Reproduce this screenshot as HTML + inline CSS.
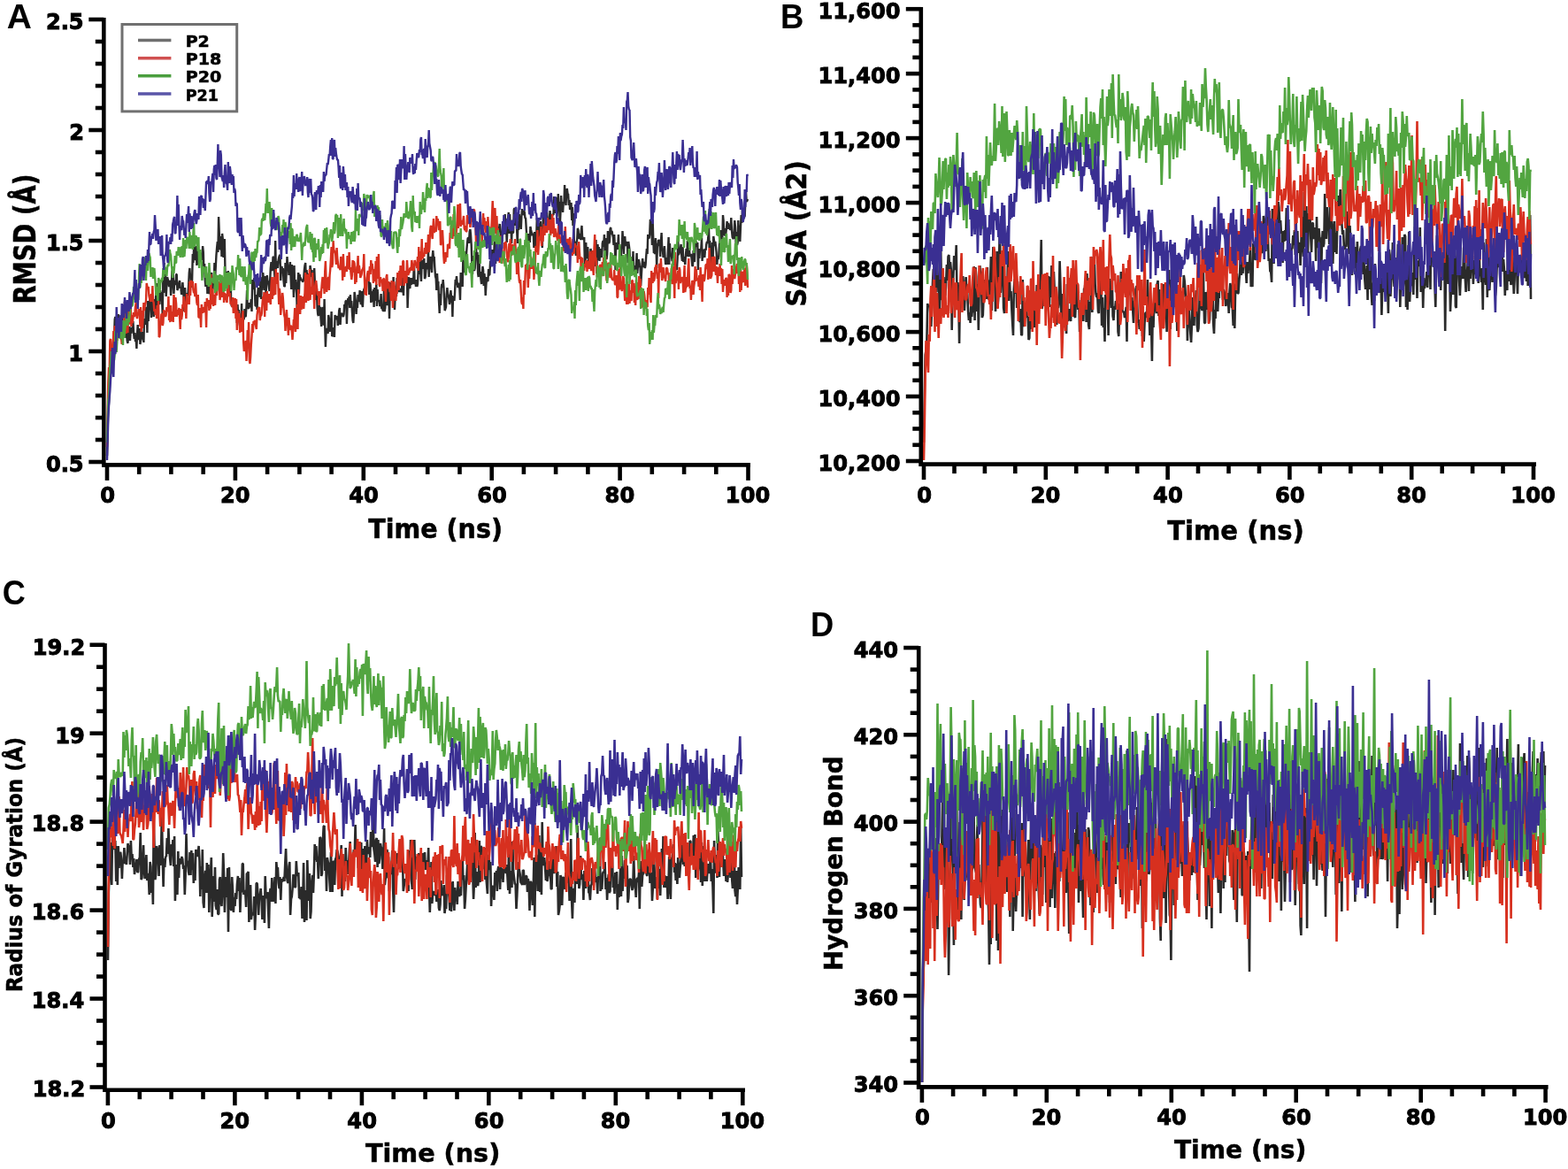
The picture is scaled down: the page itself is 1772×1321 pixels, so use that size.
<!DOCTYPE html><html><head><meta charset="utf-8"><style>html,body{margin:0;padding:0;background:#fff;}svg{display:block;}.tk{font-family:'DejaVu Sans', 'Liberation Sans', sans-serif;font-weight:bold;font-size:22px;fill:#000;}.at{font-family:'DejaVu Sans', 'Liberation Sans', sans-serif;font-weight:bold;font-size:28px;fill:#000;}.pl{font-family:"Liberation Sans",Arial,sans-serif;font-weight:bold;font-size:33px;fill:#000;}.lg{font-family:'DejaVu Sans', 'Liberation Sans', sans-serif;font-weight:bold;font-size:16.5px;fill:#000;letter-spacing:1px;}</style></head><body>
<svg width="1772" height="1321" viewBox="0 0 1772 1321">
<rect width="1772" height="1321" fill="#fff"/>
<g id="plotA">
<polyline points="121.0,515 121.7,484 122.3,464 123.0,456 123.7,442 124.3,427 125.0,419 125.7,418 126.3,392 127.0,398 127.7,391 128.3,381 129.0,381 129.7,361 130.3,358 131.0,364 131.7,371 132.3,362 133.0,376 133.7,355 134.3,376 135.0,357 135.7,368 136.3,377 137.0,384 137.7,369 138.3,359 139.0,376 139.7,365 140.4,362 141.0,381 141.7,375 142.4,382 143.0,375 143.7,385 144.4,388 145.0,382 145.7,374 146.4,369 147.0,385 147.7,374 148.4,377 149.0,370 149.7,372 150.4,363 151.0,375 151.7,383 152.4,376 153.0,386 153.7,384 154.4,394 155.0,378 155.7,367 156.4,384 157.0,382 157.7,371 158.4,389 159.0,385 159.7,383 160.4,375 161.0,378 161.7,378 162.4,387 163.0,360 163.7,366 164.4,366 165.0,347 165.7,349 166.4,376 167.0,340 167.7,363 168.4,347 169.0,344 169.7,333 170.4,342 171.0,359 171.7,336 172.4,348 173.0,345 173.7,358 174.4,338 175.0,353 175.7,344 176.4,329 177.1,320 177.7,350 178.4,321 179.1,329 179.7,342 180.4,344 181.1,328 181.7,334 182.4,330 183.1,341 183.7,355 184.4,307 185.1,331 185.7,297 186.4,318 187.1,309 187.7,335 188.4,322 189.1,313 189.7,316 190.4,318 191.1,324 191.7,317 192.4,319 193.1,334 193.7,326 194.4,307 195.1,305 195.7,312 196.4,332 197.1,320 197.7,317 198.4,322 199.1,310 199.7,310 200.4,328 201.1,326 201.7,320 202.4,320 203.1,317 203.7,326 204.4,325 205.1,333 205.7,331 206.4,319 207.1,328 207.7,337 208.4,352 209.1,325 209.7,341 210.4,334 211.1,338 211.8,331 212.4,334 213.1,323 213.8,308 214.4,303 215.1,314 215.8,311 216.4,325 217.1,317 217.8,287 218.4,297 219.1,280 219.8,274 220.4,291 221.1,294 221.8,278 222.4,300 223.1,276 223.8,275 224.4,299 225.1,292 225.8,291 226.4,286 227.1,292 227.8,293 228.4,294 229.1,278 229.8,285 230.4,307 231.1,298 231.8,317 232.4,324 233.1,308 233.8,314 234.4,332 235.1,321 235.8,332 236.4,331 237.1,321 237.8,318 238.4,311 239.1,308 239.8,327 240.4,327 241.1,317 241.8,320 242.4,297 243.1,315 243.8,301 244.4,289 245.1,280 245.8,273 246.4,285 247.1,245 247.8,264 248.5,281 249.1,282 249.8,267 250.5,290 251.1,264 251.8,270 252.5,291 253.1,278 253.8,270 254.5,308 255.1,316 255.8,314 256.5,307 257.1,313 257.8,306 258.5,330 259.1,331 259.8,330 260.5,309 261.1,338 261.8,346 262.5,346 263.1,345 263.8,341 264.5,338 265.1,350 265.8,349 266.5,349 267.1,346 267.8,365 268.5,344 269.1,354 269.8,350 270.5,364 271.1,368 271.8,364 272.5,364 273.1,343 273.8,374 274.5,364 275.1,361 275.8,360 276.5,349 277.1,358 277.8,357 278.5,346 279.1,328 279.8,348 280.5,348 281.1,349 281.8,342 282.5,347 283.1,346 283.8,338 284.5,352 285.2,316 285.8,325 286.5,327 287.2,314 287.8,326 288.5,345 289.2,346 289.8,333 290.5,350 291.2,334 291.8,325 292.5,332 293.2,330 293.8,336 294.5,313 295.2,338 295.8,319 296.5,328 297.2,308 297.8,314 298.5,320 299.2,328 299.8,312 300.5,334 301.2,320 301.8,311 302.5,318 303.2,318 303.8,323 304.5,329 305.2,317 305.8,303 306.5,296 307.2,306 307.8,305 308.5,291 309.2,290 309.8,302 310.5,314 311.2,272 311.8,304 312.5,295 313.2,301 313.8,303 314.5,295 315.2,291 315.8,289 316.5,288 317.2,317 317.8,306 318.5,301 319.2,307 319.8,303 320.5,317 321.2,324 321.9,323 322.5,297 323.2,320 323.9,302 324.5,290 325.2,301 325.9,302 326.5,311 327.2,303 327.9,296 328.5,311 329.2,327 329.9,299 330.5,312 331.2,312 331.9,336 332.5,300 333.2,327 333.9,316 334.5,326 335.2,332 335.9,357 336.5,320 337.2,308 337.9,332 338.5,310 339.2,314 339.9,314 340.5,317 341.2,316 341.9,318 342.5,318 343.2,316 343.9,305 344.5,300 345.2,297 345.9,318 346.5,305 347.2,313 347.9,311 348.5,325 349.2,309 349.9,315 350.5,300 351.2,305 351.9,313 352.5,305 353.2,324 353.9,312 354.5,328 355.2,303 355.9,321 356.6,333 357.2,339 357.9,326 358.6,348 359.2,355 359.9,357 360.6,345 361.2,348 361.9,347 362.6,361 363.2,369 363.9,353 364.6,347 365.2,366 365.9,367 366.6,338 367.2,367 367.9,392 368.6,374 369.2,371 369.9,374 370.6,377 371.2,356 371.9,360 372.6,375 373.2,362 373.9,372 374.6,352 375.2,380 375.9,379 376.6,373 377.2,370 377.9,381 378.6,356 379.2,360 379.9,359 380.6,361 381.2,357 381.9,368 382.6,360 383.2,351 383.9,348 384.6,367 385.2,356 385.9,355 386.6,354 387.2,356 387.9,358 388.6,355 389.2,344 389.9,348 390.6,340 391.2,340 391.9,366 392.6,345 393.3,337 393.9,343 394.6,335 395.3,348 395.9,333 396.6,345 397.3,340 397.9,352 398.6,362 399.3,365 399.9,354 400.6,330 401.3,335 401.9,340 402.6,355 403.3,343 403.9,348 404.6,333 405.3,341 405.9,339 406.6,328 407.3,339 407.9,344 408.6,329 409.3,344 409.9,347 410.6,331 411.3,327 411.9,326 412.6,322 413.3,325 413.9,317 414.6,317 415.3,312 415.9,310 416.6,319 417.3,333 417.9,319 418.6,322 419.3,342 419.9,340 420.6,329 421.3,341 421.9,327 422.6,347 423.3,325 423.9,328 424.6,340 425.3,321 425.9,346 426.6,327 427.3,340 427.9,340 428.6,340 429.3,346 430.0,344 430.6,332 431.3,349 432.0,347 432.6,351 433.3,351 434.0,327 434.6,352 435.3,348 436.0,331 436.6,340 437.3,345 438.0,329 438.6,321 439.3,330 440.0,360 440.6,334 441.3,319 442.0,329 442.6,324 443.3,329 444.0,340 444.6,313 445.3,340 446.0,350 446.6,333 447.3,326 448.0,335 448.6,314 449.3,318 450.0,316 450.6,327 451.3,330 452.0,327 452.6,326 453.3,330 454.0,328 454.6,312 455.3,325 456.0,334 456.6,310 457.3,315 458.0,318 458.6,318 459.3,313 460.0,313 460.6,348 461.3,329 462.0,313 462.6,324 463.3,326 464.0,314 464.6,322 465.3,314 466.0,317 466.7,321 467.3,313 468.0,298 468.7,321 469.3,317 470.0,324 470.7,316 471.3,324 472.0,321 472.7,305 473.3,294 474.0,310 474.7,293 475.3,309 476.0,318 476.7,295 477.3,294 478.0,296 478.7,304 479.3,292 480.0,315 480.7,313 481.3,307 482.0,297 482.7,304 483.3,303 484.0,282 484.7,313 485.3,292 486.0,295 486.7,290 487.3,303 488.0,308 488.7,290 489.3,283 490.0,292 490.7,290 491.3,302 492.0,312 492.7,315 493.3,328 494.0,309 494.7,321 495.3,318 496.0,340 496.7,354 497.3,332 498.0,345 498.7,325 499.3,321 500.0,325 500.7,316 501.4,324 502.0,337 502.7,351 503.4,349 504.0,347 504.7,332 505.4,325 506.0,331 506.7,334 507.4,338 508.0,344 508.7,340 509.4,328 510.0,335 510.7,334 511.4,358 512.0,335 512.7,336 513.4,340 514.0,331 514.7,316 515.4,318 516.0,312 516.7,320 517.4,325 518.0,320 518.7,322 519.4,326 520.0,339 520.7,308 521.4,311 522.0,316 522.7,324 523.4,289 524.0,303 524.7,308 525.4,295 526.0,307 526.7,292 527.4,282 528.0,275 528.7,269 529.4,269 530.0,275 530.7,262 531.4,259 532.0,265 532.7,277 533.4,300 534.0,310 534.7,289 535.4,303 536.0,306 536.7,303 537.4,289 538.1,281 538.7,288 539.4,285 540.1,309 540.7,313 541.4,288 542.1,310 542.7,307 543.4,315 544.1,321 544.7,314 545.4,301 546.1,305 546.7,323 547.4,309 548.1,316 548.7,334 549.4,322 550.1,313 550.7,317 551.4,318 552.1,304 552.7,311 553.4,310 554.1,295 554.7,296 555.4,296 556.1,282 556.7,294 557.4,287 558.1,293 558.7,275 559.4,271 560.1,298 560.7,266 561.4,268 562.1,260 562.7,265 563.4,257 564.1,258 564.7,253 565.4,262 566.1,269 566.7,275 567.4,272 568.1,253 568.7,265 569.4,259 570.1,254 570.7,242 571.4,265 572.1,255 572.7,274 573.4,261 574.1,246 574.8,240 575.4,264 576.1,242 576.8,260 577.4,251 578.1,275 578.8,253 579.4,263 580.1,263 580.8,237 581.4,235 582.1,255 582.8,245 583.4,241 584.1,260 584.8,275 585.4,250 586.1,260 586.8,242 587.4,257 588.1,244 588.8,259 589.4,244 590.1,236 590.8,243 591.4,242 592.1,238 592.8,240 593.4,246 594.1,247 594.8,260 595.4,268 596.1,272 596.8,264 597.4,266 598.1,266 598.8,274 599.4,256 600.1,260 600.8,263 601.4,266 602.1,265 602.8,264 603.4,280 604.1,262 604.8,272 605.4,280 606.1,271 606.8,246 607.4,272 608.1,273 608.8,272 609.4,252 610.1,271 610.8,250 611.5,272 612.1,270 612.8,280 613.5,255 614.1,239 614.8,262 615.5,258 616.1,246 616.8,259 617.5,257 618.1,240 618.8,252 619.5,250 620.1,248 620.8,249 621.5,238 622.1,244 622.8,254 623.5,248 624.1,244 624.8,242 625.5,243 626.1,222 626.8,241 627.5,231 628.1,239 628.8,223 629.5,245 630.1,236 630.8,219 631.5,236 632.1,228 632.8,255 633.5,239 634.1,221 634.8,233 635.5,233 636.1,240 636.8,228 637.5,229 638.1,209 638.8,226 639.5,232 640.1,220 640.8,213 641.5,219 642.1,219 642.8,232 643.5,226 644.1,237 644.8,234 645.5,229 646.2,249 646.8,234 647.5,255 648.2,241 648.8,272 649.5,276 650.2,273 650.8,289 651.5,274 652.2,271 652.8,258 653.5,260 654.2,270 654.8,264 655.5,266 656.2,271 656.8,261 657.5,255 658.2,271 658.8,268 659.5,271 660.2,268 660.8,296 661.5,299 662.2,274 662.8,290 663.5,292 664.2,279 664.8,290 665.5,301 666.2,297 666.8,304 667.5,281 668.2,286 668.8,300 669.5,300 670.2,297 670.8,296 671.5,294 672.2,290 672.8,301 673.5,271 674.2,309 674.8,289 675.5,276 676.2,294 676.8,279 677.5,295 678.2,281 678.8,290 679.5,288 680.2,291 680.8,275 681.5,272 682.2,279 682.9,265 683.5,284 684.2,280 684.9,269 685.5,293 686.2,287 686.9,261 687.5,270 688.2,275 688.9,273 689.5,259 690.2,257 690.9,265 691.5,261 692.2,265 692.9,268 693.5,277 694.2,265 694.9,279 695.5,305 696.2,274 696.9,282 697.5,279 698.2,279 698.9,265 699.5,282 700.2,276 700.9,287 701.5,301 702.2,279 702.9,280 703.5,261 704.2,273 704.9,287 705.5,274 706.2,267 706.9,276 707.5,278 708.2,274 708.9,274 709.5,297 710.2,273 710.9,278 711.5,283 712.2,304 712.9,292 713.5,304 714.2,301 714.9,299 715.5,284 716.2,307 716.9,300 717.5,306 718.2,302 718.9,300 719.6,286 720.2,309 720.9,301 721.6,293 722.2,295 722.9,300 723.6,303 724.2,323 724.9,310 725.6,299 726.2,292 726.9,302 727.6,296 728.2,297 728.9,303 729.6,299 730.2,290 730.9,281 731.6,287 732.2,265 732.9,269 733.6,269 734.2,265 734.9,248 735.6,249 736.2,249 736.9,277 737.6,248 738.2,268 738.9,286 739.6,284 740.2,287 740.9,269 741.6,281 742.2,303 742.9,275 743.6,278 744.2,271 744.9,272 745.6,278 746.2,290 746.9,273 747.6,263 748.2,281 748.9,283 749.6,291 750.2,286 750.9,278 751.6,291 752.2,299 752.9,294 753.6,291 754.2,299 754.9,283 755.6,268 756.3,299 756.9,275 757.6,287 758.3,289 758.9,289 759.6,295 760.3,280 760.9,300 761.6,293 762.3,290 762.9,301 763.6,299 764.3,304 764.9,305 765.6,293 766.3,272 766.9,288 767.6,286 768.3,284 768.9,281 769.6,276 770.3,289 770.9,295 771.6,279 772.3,296 772.9,290 773.6,294 774.3,299 774.9,289 775.6,281 776.3,290 776.9,272 777.6,287 778.3,290 778.9,280 779.6,290 780.3,288 780.9,287 781.6,292 782.3,300 782.9,301 783.6,283 784.3,291 784.9,296 785.6,279 786.3,274 786.9,273 787.6,279 788.3,274 788.9,305 789.6,281 790.3,292 791.0,282 791.6,283 792.3,281 793.0,269 793.6,295 794.3,283 795.0,282 795.6,285 796.3,291 797.0,281 797.6,283 798.3,276 799.0,273 799.6,275 800.3,269 801.0,256 801.6,280 802.3,272 803.0,305 803.6,297 804.3,292 805.0,274 805.6,298 806.3,267 807.0,272 807.6,278 808.3,273 809.0,279 809.6,285 810.3,299 811.0,290 811.6,293 812.3,289 813.0,277 813.6,270 814.3,260 815.0,265 815.6,262 816.3,273 817.0,243 817.6,249 818.3,266 819.0,258 819.6,267 820.3,264 821.0,258 821.6,250 822.3,259 823.0,252 823.6,255 824.3,258 825.0,259 825.6,259 826.3,246 827.0,261 827.7,268 828.3,269 829.0,270 829.7,260 830.3,249 831.0,257 831.7,277 832.3,262 833.0,277 833.7,274 834.3,249 835.0,264 835.7,257 836.3,273 837.0,256 837.7,243 838.3,252 839.0,236 839.7,240 840.3,247 841.0,245 841.7,244 842.3,228 843.0,216 843.7,228 844.3,227 845.0,225" fill="none" stroke="#2a2a2a" stroke-width="2.4" stroke-linejoin="miter" stroke-miterlimit="1.2"/>
<polyline points="121.0,505 121.7,461 122.3,432 123.0,415 123.7,420 124.3,385 125.0,383 125.7,396 126.3,391 127.0,397 127.7,392 128.3,374 129.0,380 129.7,368 130.3,391 131.0,394 131.7,379 132.3,385 133.0,377 133.7,364 134.3,376 135.0,366 135.7,375 136.3,382 137.0,382 137.7,389 138.3,379 139.0,377 139.7,372 140.4,369 141.0,341 141.7,360 142.4,377 143.0,360 143.7,372 144.4,376 145.0,350 145.7,366 146.4,365 147.0,360 147.7,347 148.4,369 149.0,356 149.7,365 150.4,359 151.0,353 151.7,358 152.4,354 153.0,347 153.7,342 154.4,357 155.0,360 155.7,354 156.4,356 157.0,349 157.7,352 158.4,369 159.0,347 159.7,375 160.4,351 161.0,371 161.7,359 162.4,342 163.0,351 163.7,346 164.4,343 165.0,340 165.7,320 166.4,324 167.0,326 167.7,324 168.4,334 169.0,337 169.7,340 170.4,340 171.0,332 171.7,341 172.4,323 173.0,340 173.7,342 174.4,352 175.0,349 175.7,356 176.4,351 177.1,360 177.7,345 178.4,355 179.1,340 179.7,381 180.4,380 181.1,367 181.7,365 182.4,355 183.1,355 183.7,368 184.4,365 185.1,350 185.7,356 186.4,351 187.1,358 187.7,356 188.4,347 189.1,351 189.7,352 190.4,335 191.1,362 191.7,359 192.4,364 193.1,345 193.7,363 194.4,352 195.1,356 195.7,364 196.4,333 197.1,338 197.7,358 198.4,336 199.1,343 199.7,358 200.4,350 201.1,356 201.7,352 202.4,348 203.1,360 203.7,372 204.4,349 205.1,361 205.7,357 206.4,344 207.1,346 207.7,335 208.4,341 209.1,353 209.7,348 210.4,360 211.1,332 211.8,344 212.4,337 213.1,339 213.8,344 214.4,318 215.1,334 215.8,317 216.4,318 217.1,323 217.8,318 218.4,327 219.1,331 219.8,330 220.4,335 221.1,320 221.8,334 222.4,342 223.1,345 223.8,333 224.4,358 225.1,359 225.8,348 226.4,355 227.1,370 227.8,344 228.4,349 229.1,354 229.8,347 230.4,350 231.1,353 231.8,341 232.4,346 233.1,370 233.8,337 234.4,341 235.1,346 235.8,339 236.4,351 237.1,343 237.8,349 238.4,310 239.1,344 239.8,339 240.4,326 241.1,346 241.8,333 242.4,336 243.1,345 243.8,329 244.4,323 245.1,334 245.8,320 246.4,325 247.1,318 247.8,320 248.5,339 249.1,335 249.8,316 250.5,336 251.1,316 251.8,324 252.5,325 253.1,342 253.8,332 254.5,332 255.1,339 255.8,338 256.5,342 257.1,328 257.8,321 258.5,328 259.1,335 259.8,331 260.5,343 261.1,344 261.8,343 262.5,347 263.1,336 263.8,354 264.5,337 265.1,343 265.8,337 266.5,360 267.1,338 267.8,373 268.5,351 269.1,364 269.8,356 270.5,354 271.1,376 271.8,361 272.5,375 273.1,359 273.8,361 274.5,351 275.1,386 275.8,397 276.5,393 277.1,389 277.8,385 278.5,408 279.1,396 279.8,373 280.5,386 281.1,364 281.8,407 282.5,411 283.1,404 283.8,390 284.5,380 285.2,366 285.8,376 286.5,363 287.2,367 287.8,362 288.5,364 289.2,369 289.8,372 290.5,356 291.2,351 291.8,348 292.5,349 293.2,347 293.8,362 294.5,356 295.2,357 295.8,354 296.5,343 297.2,335 297.8,340 298.5,330 299.2,358 299.8,339 300.5,331 301.2,351 301.8,329 302.5,338 303.2,336 303.8,342 304.5,332 305.2,340 305.8,344 306.5,323 307.2,313 307.8,338 308.5,328 309.2,334 309.8,313 310.5,329 311.2,333 311.8,304 312.5,321 313.2,311 313.8,308 314.5,325 315.2,344 315.8,326 316.5,332 317.2,356 317.8,347 318.5,348 319.2,331 319.8,336 320.5,348 321.2,356 321.9,359 322.5,374 323.2,360 323.9,350 324.5,361 325.2,367 325.9,379 326.5,359 327.2,368 327.9,373 328.5,368 329.2,369 329.9,376 330.5,384 331.2,374 331.9,361 332.5,362 333.2,348 333.9,375 334.5,366 335.2,361 335.9,344 336.5,372 337.2,327 337.9,340 338.5,344 339.2,355 339.9,334 340.5,350 341.2,343 341.9,335 342.5,343 343.2,349 343.9,338 344.5,331 345.2,308 345.9,342 346.5,326 347.2,310 347.9,332 348.5,340 349.2,320 349.9,304 350.5,339 351.2,325 351.9,326 352.5,333 353.2,308 353.9,330 354.5,327 355.2,349 355.9,325 356.6,320 357.2,317 357.9,324 358.6,332 359.2,334 359.9,329 360.6,345 361.2,330 361.9,330 362.6,337 363.2,328 363.9,319 364.6,313 365.2,326 365.9,318 366.6,332 367.2,307 367.9,295 368.6,318 369.2,330 369.9,314 370.6,316 371.2,313 371.9,328 372.6,311 373.2,305 373.9,293 374.6,279 375.2,302 375.9,298 376.6,272 377.2,282 377.9,284 378.6,285 379.2,287 379.9,299 380.6,280 381.2,291 381.9,297 382.6,303 383.2,302 383.9,303 384.6,305 385.2,290 385.9,296 386.6,296 387.2,317 387.9,287 388.6,304 389.2,313 389.9,302 390.6,303 391.2,301 391.9,307 392.6,289 393.3,301 393.9,304 394.6,285 395.3,305 395.9,302 396.6,309 397.3,316 397.9,311 398.6,294 399.3,308 399.9,295 400.6,298 401.3,321 401.9,307 402.6,319 403.3,302 403.9,300 404.6,289 405.3,309 405.9,300 406.6,306 407.3,314 407.9,312 408.6,310 409.3,305 409.9,304 410.6,302 411.3,287 411.9,315 412.6,333 413.3,319 413.9,334 414.6,314 415.3,309 415.9,306 416.6,318 417.3,309 417.9,301 418.6,310 419.3,294 419.9,305 420.6,298 421.3,304 421.9,320 422.6,304 423.3,318 423.9,316 424.6,295 425.3,322 425.9,290 426.6,306 427.3,315 427.9,287 428.6,321 429.3,324 430.0,313 430.6,319 431.3,317 432.0,316 432.6,329 433.3,315 434.0,315 434.6,324 435.3,329 436.0,341 436.6,313 437.3,310 438.0,325 438.6,326 439.3,318 440.0,327 440.6,330 441.3,328 442.0,340 442.6,317 443.3,329 444.0,348 444.6,337 445.3,318 446.0,326 446.6,333 447.3,340 448.0,329 448.6,332 449.3,308 450.0,318 450.6,328 451.3,306 452.0,314 452.6,300 453.3,323 454.0,306 454.6,314 455.3,295 456.0,295 456.6,323 457.3,309 458.0,306 458.6,317 459.3,320 460.0,294 460.6,304 461.3,311 462.0,308 462.6,308 463.3,303 464.0,303 464.6,306 465.3,294 466.0,299 466.7,303 467.3,306 468.0,302 468.7,294 469.3,297 470.0,300 470.7,299 471.3,303 472.0,290 472.7,306 473.3,279 474.0,296 474.7,284 475.3,294 476.0,293 476.7,270 477.3,292 478.0,291 478.7,286 479.3,290 480.0,280 480.7,285 481.3,274 482.0,287 482.7,282 483.3,282 484.0,265 484.7,285 485.3,280 486.0,262 486.7,256 487.3,255 488.0,265 488.7,270 489.3,259 490.0,247 490.7,263 491.3,259 492.0,258 492.7,262 493.3,244 494.0,252 494.7,247 495.3,254 496.0,260 496.7,252 497.3,250 498.0,277 498.7,275 499.3,269 500.0,260 500.7,273 501.4,290 502.0,298 502.7,285 503.4,296 504.0,288 504.7,285 505.4,291 506.0,276 506.7,277 507.4,280 508.0,281 508.7,263 509.4,265 510.0,255 510.7,256 511.4,270 512.0,259 512.7,242 513.4,267 514.0,258 514.7,259 515.4,266 516.0,259 516.7,249 517.4,231 518.0,258 518.7,243 519.4,233 520.0,230 520.7,256 521.4,249 522.0,250 522.7,254 523.4,249 524.0,244 524.7,258 525.4,260 526.0,255 526.7,262 527.4,261 528.0,243 528.7,247 529.4,253 530.0,245 530.7,248 531.4,257 532.0,251 532.7,242 533.4,249 534.0,244 534.7,251 535.4,237 536.0,237 536.7,251 537.4,256 538.1,277 538.7,281 539.4,262 540.1,268 540.7,257 541.4,252 542.1,255 542.7,261 543.4,265 544.1,259 544.7,273 545.4,253 546.1,241 546.7,256 547.4,246 548.1,257 548.7,263 549.4,250 550.1,258 550.7,261 551.4,245 552.1,256 552.7,261 553.4,262 554.1,264 554.7,258 555.4,257 556.1,242 556.7,227 557.4,241 558.1,265 558.7,253 559.4,235 560.1,255 560.7,264 561.4,244 562.1,266 562.7,258 563.4,282 564.1,271 564.7,297 565.4,266 566.1,286 566.7,271 567.4,298 568.1,285 568.7,294 569.4,290 570.1,274 570.7,276 571.4,273 572.1,278 572.7,286 573.4,294 574.1,296 574.8,290 575.4,275 576.1,284 576.8,270 577.4,284 578.1,289 578.8,276 579.4,280 580.1,277 580.8,286 581.4,278 582.1,270 582.8,283 583.4,283 584.1,310 584.8,296 585.4,287 586.1,308 586.8,317 587.4,320 588.1,316 588.8,331 589.4,341 590.1,344 590.8,336 591.4,349 592.1,317 592.8,333 593.4,317 594.1,299 594.8,301 595.4,298 596.1,300 596.8,325 597.4,307 598.1,315 598.8,299 599.4,302 600.1,290 600.8,304 601.4,293 602.1,293 602.8,294 603.4,316 604.1,306 604.8,299 605.4,278 606.1,280 606.8,285 607.4,260 608.1,288 608.8,277 609.4,271 610.1,268 610.8,266 611.5,256 612.1,278 612.8,270 613.5,273 614.1,260 614.8,253 615.5,266 616.1,247 616.8,247 617.5,259 618.1,263 618.8,246 619.5,258 620.1,260 620.8,256 621.5,248 622.1,266 622.8,260 623.5,264 624.1,242 624.8,264 625.5,246 626.1,268 626.8,265 627.5,258 628.1,264 628.8,267 629.5,268 630.1,272 630.8,260 631.5,252 632.1,251 632.8,275 633.5,269 634.1,268 634.8,274 635.5,268 636.1,271 636.8,279 637.5,284 638.1,277 638.8,256 639.5,275 640.1,270 640.8,279 641.5,270 642.1,271 642.8,282 643.5,277 644.1,268 644.8,275 645.5,284 646.2,282 646.8,289 647.5,270 648.2,286 648.8,286 649.5,275 650.2,277 650.8,278 651.5,279 652.2,278 652.8,297 653.5,281 654.2,273 654.8,284 655.5,293 656.2,290 656.8,308 657.5,292 658.2,292 658.8,312 659.5,298 660.2,306 660.8,299 661.5,302 662.2,296 662.8,294 663.5,307 664.2,295 664.8,300 665.5,304 666.2,294 666.8,284 667.5,300 668.2,306 668.8,301 669.5,283 670.2,304 670.8,311 671.5,280 672.2,265 672.8,291 673.5,292 674.2,303 674.8,313 675.5,304 676.2,311 676.8,309 677.5,304 678.2,299 678.8,300 679.5,312 680.2,309 680.8,296 681.5,307 682.2,291 682.9,301 683.5,306 684.2,289 684.9,307 685.5,317 686.2,317 686.9,299 687.5,297 688.2,298 688.9,308 689.5,314 690.2,297 690.9,313 691.5,315 692.2,316 692.9,316 693.5,317 694.2,305 694.9,321 695.5,322 696.2,318 696.9,311 697.5,336 698.2,336 698.9,304 699.5,327 700.2,326 700.9,299 701.5,324 702.2,326 702.9,329 703.5,323 704.2,312 704.9,315 705.5,326 706.2,340 706.9,321 707.5,331 708.2,344 708.9,318 709.5,344 710.2,337 710.9,321 711.5,343 712.2,328 712.9,339 713.5,340 714.2,317 714.9,317 715.5,331 716.2,320 716.9,342 717.5,338 718.2,345 718.9,316 719.6,336 720.2,339 720.9,319 721.6,338 722.2,312 722.9,326 723.6,315 724.2,337 724.9,348 725.6,337 726.2,335 726.9,347 727.6,329 728.2,333 728.9,340 729.6,342 730.2,349 730.9,339 731.6,347 732.2,325 732.9,333 733.6,314 734.2,325 734.9,336 735.6,342 736.2,306 736.9,315 737.6,320 738.2,308 738.9,318 739.6,315 740.2,303 740.9,302 741.6,299 742.2,307 742.9,315 743.6,308 744.2,337 744.9,300 745.6,298 746.2,308 746.9,292 747.6,307 748.2,317 748.9,313 749.6,302 750.2,314 750.9,311 751.6,315 752.2,318 752.9,303 753.6,303 754.2,304 754.9,310 755.6,308 756.3,326 756.9,316 757.6,317 758.3,312 758.9,303 759.6,321 760.3,316 760.9,301 761.6,309 762.3,337 762.9,285 763.6,320 764.3,316 764.9,312 765.6,312 766.3,306 766.9,327 767.6,302 768.3,305 768.9,320 769.6,317 770.3,314 770.9,314 771.6,314 772.3,331 772.9,314 773.6,300 774.3,330 774.9,325 775.6,325 776.3,313 776.9,324 777.6,304 778.3,292 778.9,317 779.6,326 780.3,323 780.9,339 781.6,326 782.3,317 782.9,318 783.6,333 784.3,323 784.9,319 785.6,301 786.3,318 786.9,304 787.6,317 788.3,315 788.9,314 789.6,324 790.3,311 791.0,328 791.6,302 792.3,317 793.0,326 793.6,341 794.3,310 795.0,316 795.6,318 796.3,315 797.0,306 797.6,299 798.3,299 799.0,304 799.6,292 800.3,316 801.0,309 801.6,280 802.3,296 803.0,315 803.6,313 804.3,311 805.0,290 805.6,298 806.3,307 807.0,290 807.6,291 808.3,304 809.0,311 809.6,301 810.3,308 811.0,320 811.6,306 812.3,302 813.0,312 813.6,298 814.3,310 815.0,303 815.6,321 816.3,304 817.0,330 817.6,322 818.3,319 819.0,316 819.6,323 820.3,314 821.0,315 821.6,336 822.3,329 823.0,334 823.6,310 824.3,311 825.0,313 825.6,331 826.3,328 827.0,300 827.7,321 828.3,310 829.0,304 829.7,312 830.3,315 831.0,309 831.7,309 832.3,301 833.0,298 833.7,309 834.3,298 835.0,321 835.7,306 836.3,330 837.0,300 837.7,328 838.3,309 839.0,307 839.7,318 840.3,319 841.0,306 841.7,303 842.3,323 843.0,312 843.7,297 844.3,307 845.0,325" fill="none" stroke="#d7301f" stroke-width="2.4" stroke-linejoin="miter" stroke-miterlimit="1.2"/>
<polyline points="121.0,500 121.7,473 122.3,452 123.0,448 123.7,428 124.3,415 125.0,411 125.7,397 126.3,404 127.0,419 127.7,408 128.3,404 129.0,407 129.7,401 130.3,375 131.0,374 131.7,398 132.3,386 133.0,365 133.7,368 134.3,378 135.0,371 135.7,383 136.3,376 137.0,377 137.7,362 138.3,382 139.0,390 139.7,362 140.4,382 141.0,374 141.7,369 142.4,363 143.0,353 143.7,354 144.4,368 145.0,360 145.7,364 146.4,358 147.0,352 147.7,341 148.4,336 149.0,346 149.7,345 150.4,340 151.0,324 151.7,336 152.4,327 153.0,339 153.7,329 154.4,333 155.0,331 155.7,329 156.4,339 157.0,313 157.7,298 158.4,325 159.0,319 159.7,320 160.4,311 161.0,308 161.7,305 162.4,290 163.0,299 163.7,302 164.4,291 165.0,317 165.7,290 166.4,293 167.0,306 167.7,292 168.4,286 169.0,289 169.7,291 170.4,313 171.0,302 171.7,310 172.4,302 173.0,315 173.7,305 174.4,303 175.0,311 175.7,321 176.4,334 177.1,324 177.7,327 178.4,340 179.1,314 179.7,316 180.4,331 181.1,323 181.7,316 182.4,319 183.1,314 183.7,317 184.4,303 185.1,313 185.7,299 186.4,303 187.1,310 187.7,302 188.4,312 189.1,302 189.7,299 190.4,301 191.1,293 191.7,282 192.4,286 193.1,289 193.7,298 194.4,305 195.1,314 195.7,301 196.4,309 197.1,301 197.7,289 198.4,297 199.1,297 199.7,284 200.4,286 201.1,289 201.7,279 202.4,286 203.1,283 203.7,291 204.4,279 205.1,286 205.7,278 206.4,291 207.1,269 207.7,288 208.4,290 209.1,281 209.7,271 210.4,281 211.1,269 211.8,268 212.4,270 213.1,273 213.8,281 214.4,262 215.1,281 215.8,266 216.4,271 217.1,275 217.8,282 218.4,263 219.1,252 219.8,279 220.4,275 221.1,267 221.8,267 222.4,272 223.1,277 223.8,284 224.4,268 225.1,303 225.8,284 226.4,282 227.1,294 227.8,296 228.4,317 229.1,309 229.8,301 230.4,304 231.1,308 231.8,302 232.4,314 233.1,301 233.8,322 234.4,310 235.1,312 235.8,324 236.4,297 237.1,311 237.8,322 238.4,315 239.1,316 239.8,318 240.4,314 241.1,320 241.8,313 242.4,306 243.1,331 243.8,310 244.4,313 245.1,329 245.8,326 246.4,311 247.1,315 247.8,316 248.5,310 249.1,320 249.8,313 250.5,311 251.1,314 251.8,316 252.5,330 253.1,328 253.8,301 254.5,329 255.1,311 255.8,308 256.5,326 257.1,308 257.8,314 258.5,322 259.1,309 259.8,308 260.5,322 261.1,329 261.8,319 262.5,300 263.1,306 263.8,310 264.5,328 265.1,318 265.8,316 266.5,317 267.1,302 267.8,303 268.5,304 269.1,288 269.8,301 270.5,311 271.1,292 271.8,311 272.5,312 273.1,313 273.8,301 274.5,309 275.1,318 275.8,314 276.5,301 277.1,313 277.8,322 278.5,313 279.1,321 279.8,339 280.5,312 281.1,310 281.8,298 282.5,304 283.1,321 283.8,300 284.5,286 285.2,285 285.8,298 286.5,301 287.2,284 287.8,295 288.5,281 289.2,291 289.8,286 290.5,285 291.2,272 291.8,273 292.5,271 293.2,257 293.8,266 294.5,265 295.2,264 295.8,249 296.5,247 297.2,250 297.8,241 298.5,245 299.2,249 299.8,243 300.5,230 301.2,234 301.8,213 302.5,241 303.2,233 303.8,241 304.5,228 305.2,241 305.8,252 306.5,256 307.2,235 307.8,255 308.5,251 309.2,241 309.8,255 310.5,252 311.2,250 311.8,251 312.5,260 313.2,257 313.8,255 314.5,244 315.2,247 315.8,262 316.5,267 317.2,262 317.8,274 318.5,264 319.2,254 319.8,263 320.5,248 321.2,262 321.9,266 322.5,251 323.2,257 323.9,280 324.5,257 325.2,258 325.9,269 326.5,261 327.2,266 327.9,276 328.5,252 329.2,283 329.9,258 330.5,260 331.2,279 331.9,276 332.5,267 333.2,279 333.9,269 334.5,272 335.2,265 335.9,266 336.5,273 337.2,270 337.9,269 338.5,273 339.2,268 339.9,263 340.5,276 341.2,294 341.9,276 342.5,279 343.2,275 343.9,274 344.5,278 345.2,270 345.9,259 346.5,256 347.2,254 347.9,272 348.5,274 349.2,273 349.9,272 350.5,262 351.2,277 351.9,282 352.5,264 353.2,285 353.9,284 354.5,296 355.2,269 355.9,270 356.6,291 357.2,275 357.9,282 358.6,276 359.2,279 359.9,270 360.6,285 361.2,295 361.9,292 362.6,288 363.2,279 363.9,287 364.6,276 365.2,286 365.9,260 366.6,275 367.2,258 367.9,274 368.6,273 369.2,257 369.9,271 370.6,281 371.2,277 371.9,274 372.6,265 373.2,266 373.9,259 374.6,266 375.2,273 375.9,267 376.6,260 377.2,251 377.9,264 378.6,260 379.2,244 379.9,242 380.6,247 381.2,243 381.9,269 382.6,255 383.2,246 383.9,249 384.6,267 385.2,242 385.9,262 386.6,259 387.2,267 387.9,255 388.6,247 389.2,261 389.9,258 390.6,264 391.2,259 391.9,281 392.6,264 393.3,270 393.9,262 394.6,269 395.3,269 395.9,266 396.6,276 397.3,262 397.9,264 398.6,273 399.3,263 399.9,261 400.6,273 401.3,268 401.9,237 402.6,256 403.3,261 403.9,258 404.6,247 405.3,266 405.9,242 406.6,244 407.3,245 407.9,243 408.6,244 409.3,240 409.9,229 410.6,238 411.3,219 411.9,224 412.6,244 413.3,227 413.9,239 414.6,220 415.3,224 415.9,222 416.6,222 417.3,221 417.9,224 418.6,229 419.3,234 419.9,227 420.6,233 421.3,236 421.9,221 422.6,216 423.3,245 423.9,242 424.6,236 425.3,243 425.9,236 426.6,232 427.3,247 427.9,234 428.6,254 429.3,243 430.0,254 430.6,267 431.3,267 432.0,248 432.6,266 433.3,256 434.0,258 434.6,266 435.3,268 436.0,252 436.6,263 437.3,257 438.0,249 438.6,255 439.3,271 440.0,260 440.6,263 441.3,271 442.0,261 442.6,276 443.3,276 444.0,281 444.6,280 445.3,262 446.0,263 446.6,263 447.3,262 448.0,264 448.6,279 449.3,286 450.0,268 450.6,279 451.3,259 452.0,267 452.6,259 453.3,245 454.0,259 454.6,255 455.3,252 456.0,247 456.6,241 457.3,246 458.0,243 458.6,246 459.3,228 460.0,238 460.6,240 461.3,247 462.0,246 462.6,240 463.3,239 464.0,227 464.6,244 465.3,257 466.0,262 466.7,221 467.3,236 468.0,242 468.7,239 469.3,251 470.0,250 470.7,244 471.3,252 472.0,244 472.7,247 473.3,244 474.0,258 474.7,228 475.3,237 476.0,242 476.7,232 477.3,237 478.0,217 478.7,227 479.3,233 480.0,240 480.7,224 481.3,227 482.0,213 482.7,207 483.3,224 484.0,212 484.7,222 485.3,213 486.0,223 486.7,223 487.3,195 488.0,215 488.7,200 489.3,198 490.0,187 490.7,199 491.3,183 492.0,186 492.7,188 493.3,193 494.0,197 494.7,199 495.3,199 496.0,185 496.7,168 497.3,189 498.0,195 498.7,199 499.3,212 500.0,204 500.7,204 501.4,190 502.0,221 502.7,220 503.4,218 504.0,228 504.7,220 505.4,225 506.0,255 506.7,254 507.4,253 508.0,246 508.7,246 509.4,245 510.0,269 510.7,253 511.4,258 512.0,249 512.7,254 513.4,233 514.0,243 514.7,275 515.4,278 516.0,265 516.7,271 517.4,280 518.0,263 518.7,291 519.4,267 520.0,272 520.7,258 521.4,296 522.0,281 522.7,294 523.4,271 524.0,287 524.7,284 525.4,290 526.0,309 526.7,311 527.4,300 528.0,287 528.7,302 529.4,302 530.0,301 530.7,307 531.4,308 532.0,297 532.7,312 533.4,325 534.0,295 534.7,302 535.4,305 536.0,283 536.7,285 537.4,273 538.1,280 538.7,273 539.4,276 540.1,281 540.7,281 541.4,278 542.1,259 542.7,298 543.4,278 544.1,273 544.7,275 545.4,280 546.1,272 546.7,272 547.4,274 548.1,279 548.7,268 549.4,274 550.1,270 550.7,268 551.4,280 552.1,269 552.7,256 553.4,270 554.1,263 554.7,258 555.4,260 556.1,277 556.7,257 557.4,261 558.1,257 558.7,273 559.4,269 560.1,266 560.7,267 561.4,283 562.1,284 562.7,260 563.4,269 564.1,277 564.7,282 565.4,267 566.1,283 566.7,298 567.4,284 568.1,288 568.7,286 569.4,284 570.1,296 570.7,301 571.4,292 572.1,306 572.7,319 573.4,308 574.1,310 574.8,299 575.4,318 576.1,294 576.8,316 577.4,288 578.1,284 578.8,285 579.4,288 580.1,284 580.8,278 581.4,282 582.1,294 582.8,297 583.4,287 584.1,296 584.8,282 585.4,281 586.1,279 586.8,296 587.4,270 588.1,271 588.8,296 589.4,301 590.1,302 590.8,277 591.4,285 592.1,292 592.8,286 593.4,271 594.1,279 594.8,263 595.4,271 596.1,305 596.8,294 597.4,272 598.1,279 598.8,290 599.4,282 600.1,302 600.8,292 601.4,299 602.1,300 602.8,295 603.4,284 604.1,294 604.8,300 605.4,303 606.1,309 606.8,306 607.4,310 608.1,297 608.8,316 609.4,323 610.1,310 610.8,306 611.5,313 612.1,305 612.8,299 613.5,298 614.1,291 614.8,287 615.5,302 616.1,303 616.8,284 617.5,288 618.1,290 618.8,288 619.5,280 620.1,282 620.8,264 621.5,280 622.1,275 622.8,297 623.5,287 624.1,277 624.8,286 625.5,303 626.1,304 626.8,290 627.5,286 628.1,272 628.8,277 629.5,280 630.1,281 630.8,304 631.5,270 632.1,291 632.8,296 633.5,297 634.1,307 634.8,279 635.5,288 636.1,305 636.8,307 637.5,302 638.1,300 638.8,319 639.5,298 640.1,307 640.8,331 641.5,338 642.1,335 642.8,317 643.5,316 644.1,323 644.8,327 645.5,333 646.2,354 646.8,349 647.5,347 648.2,350 648.8,341 649.5,360 650.2,328 650.8,345 651.5,321 652.2,313 652.8,306 653.5,323 654.2,314 654.8,340 655.5,305 656.2,301 656.8,314 657.5,318 658.2,309 658.8,297 659.5,330 660.2,323 660.8,326 661.5,314 662.2,328 662.8,314 663.5,318 664.2,313 664.8,329 665.5,312 666.2,314 666.8,325 667.5,323 668.2,327 668.8,325 669.5,341 670.2,327 670.8,341 671.5,352 672.2,330 672.8,323 673.5,316 674.2,324 674.8,309 675.5,300 676.2,308 676.8,302 677.5,325 678.2,306 678.8,327 679.5,302 680.2,309 680.8,309 681.5,307 682.2,312 682.9,295 683.5,283 684.2,304 684.9,295 685.5,308 686.2,320 686.9,311 687.5,303 688.2,298 688.9,301 689.5,303 690.2,285 690.9,299 691.5,286 692.2,299 692.9,288 693.5,300 694.2,299 694.9,292 695.5,289 696.2,295 696.9,304 697.5,306 698.2,300 698.9,297 699.5,302 700.2,276 700.9,300 701.5,289 702.2,312 702.9,294 703.5,293 704.2,288 704.9,299 705.5,308 706.2,312 706.9,287 707.5,293 708.2,336 708.9,309 709.5,300 710.2,304 710.9,281 711.5,321 712.2,306 712.9,290 713.5,312 714.2,303 714.9,295 715.5,308 716.2,311 716.9,309 717.5,313 718.2,305 718.9,306 719.6,331 720.2,335 720.9,333 721.6,333 722.2,332 722.9,331 723.6,328 724.2,349 724.9,325 725.6,338 726.2,335 726.9,326 727.6,356 728.2,343 728.9,341 729.6,348 730.2,342 730.9,357 731.6,349 732.2,368 732.9,373 733.6,365 734.2,389 734.9,382 735.6,375 736.2,384 736.9,373 737.6,384 738.2,356 738.9,376 739.6,367 740.2,368 740.9,356 741.6,358 742.2,359 742.9,341 743.6,331 744.2,349 744.9,344 745.6,348 746.2,355 746.9,350 747.6,354 748.2,349 748.9,347 749.6,353 750.2,345 750.9,337 751.6,336 752.2,326 752.9,327 753.6,332 754.2,332 754.9,317 755.6,329 756.3,338 756.9,336 757.6,311 758.3,316 758.9,304 759.6,298 760.3,301 760.9,293 761.6,292 762.3,280 762.9,276 763.6,282 764.3,278 764.9,281 765.6,266 766.3,270 766.9,273 767.6,248 768.3,258 768.9,266 769.6,263 770.3,254 770.9,270 771.6,259 772.3,254 772.9,280 773.6,250 774.3,269 774.9,262 775.6,268 776.3,271 776.9,262 777.6,272 778.3,273 778.9,268 779.6,283 780.3,274 780.9,270 781.6,268 782.3,273 782.9,271 783.6,275 784.3,286 784.9,252 785.6,257 786.3,275 786.9,260 787.6,266 788.3,257 788.9,271 789.6,267 790.3,272 791.0,263 791.6,271 792.3,267 793.0,269 793.6,264 794.3,254 795.0,245 795.6,245 796.3,262 797.0,238 797.6,264 798.3,255 799.0,266 799.6,261 800.3,250 801.0,253 801.6,236 802.3,257 803.0,258 803.6,239 804.3,259 805.0,252 805.6,255 806.3,240 807.0,258 807.6,257 808.3,246 809.0,240 809.6,256 810.3,266 811.0,261 811.6,267 812.3,255 813.0,268 813.6,275 814.3,274 815.0,300 815.6,278 816.3,270 817.0,285 817.6,268 818.3,283 819.0,285 819.6,270 820.3,269 821.0,264 821.6,280 822.3,277 823.0,296 823.6,283 824.3,279 825.0,270 825.6,298 826.3,296 827.0,289 827.7,291 828.3,292 829.0,288 829.7,310 830.3,291 831.0,275 831.7,281 832.3,267 833.0,294 833.7,291 834.3,304 835.0,312 835.7,291 836.3,306 837.0,305 837.7,302 838.3,290 839.0,303 839.7,295 840.3,305 841.0,296 841.7,293 842.3,293 843.0,300 843.7,297 844.3,305 845.0,316" fill="none" stroke="#52a540" stroke-width="2.4" stroke-linejoin="miter" stroke-miterlimit="1.2"/>
<polyline points="121.0,520 121.7,496 122.3,473 123.0,459 123.7,449 124.3,442 125.0,429 125.7,421 126.3,411 127.0,393 127.7,415 128.3,426 129.0,400 129.7,386 130.3,400 131.0,394 131.7,347 132.3,376 133.0,363 133.7,359 134.3,382 135.0,367 135.7,357 136.3,357 137.0,375 137.7,343 138.3,360 139.0,344 139.7,359 140.4,346 141.0,336 141.7,354 142.4,344 143.0,360 143.7,339 144.4,346 145.0,340 145.7,352 146.4,330 147.0,336 147.7,349 148.4,343 149.0,337 149.7,334 150.4,331 151.0,332 151.7,322 152.4,305 153.0,342 153.7,316 154.4,341 155.0,326 155.7,349 156.4,328 157.0,320 157.7,326 158.4,299 159.0,317 159.7,310 160.4,312 161.0,293 161.7,290 162.4,317 163.0,308 163.7,299 164.4,300 165.0,289 165.7,292 166.4,297 167.0,282 167.7,295 168.4,278 169.0,262 169.7,276 170.4,276 171.0,267 171.7,268 172.4,264 173.0,270 173.7,262 174.4,260 175.0,243 175.7,255 176.4,272 177.1,261 177.7,265 178.4,259 179.1,276 179.7,269 180.4,276 181.1,267 181.7,289 182.4,275 183.1,266 183.7,288 184.4,294 185.1,305 185.7,290 186.4,289 187.1,288 187.7,284 188.4,265 189.1,293 189.7,297 190.4,276 191.1,273 191.7,276 192.4,268 193.1,276 193.7,264 194.4,273 195.1,254 195.7,251 196.4,247 197.1,245 197.7,263 198.4,264 199.1,252 199.7,251 200.4,221 201.1,255 201.7,231 202.4,254 203.1,271 203.7,255 204.4,259 205.1,260 205.7,244 206.4,249 207.1,250 207.7,257 208.4,266 209.1,259 209.7,269 210.4,255 211.1,242 211.8,252 212.4,244 213.1,233 213.8,262 214.4,241 215.1,248 215.8,259 216.4,244 217.1,258 217.8,254 218.4,251 219.1,244 219.8,239 220.4,237 221.1,248 221.8,253 222.4,249 223.1,241 223.8,245 224.4,248 225.1,222 225.8,232 226.4,243 227.1,222 227.8,221 228.4,229 229.1,224 229.8,235 230.4,225 231.1,232 231.8,238 232.4,223 233.1,205 233.8,206 234.4,204 235.1,208 235.8,199 236.4,218 237.1,228 237.8,225 238.4,205 239.1,208 239.8,201 240.4,196 241.1,217 241.8,191 242.4,187 243.1,198 243.8,186 244.4,201 245.1,203 245.8,184 246.4,163 247.1,188 247.8,187 248.5,200 249.1,170 249.8,175 250.5,200 251.1,202 251.8,205 252.5,198 253.1,212 253.8,195 254.5,186 255.1,200 255.8,207 256.5,208 257.1,215 257.8,183 258.5,202 259.1,207 259.8,188 260.5,194 261.1,201 261.8,209 262.5,197 263.1,205 263.8,199 264.5,218 265.1,213 265.8,216 266.5,233 267.1,230 267.8,230 268.5,261 269.1,263 269.8,260 270.5,246 271.1,267 271.8,256 272.5,246 273.1,264 273.8,284 274.5,266 275.1,273 275.8,280 276.5,276 277.1,276 277.8,279 278.5,290 279.1,279 279.8,288 280.5,286 281.1,283 281.8,295 282.5,299 283.1,295 283.8,298 284.5,302 285.2,305 285.8,304 286.5,296 287.2,307 287.8,316 288.5,318 289.2,310 289.8,322 290.5,325 291.2,309 291.8,323 292.5,315 293.2,315 293.8,318 294.5,308 295.2,288 295.8,308 296.5,291 297.2,296 297.8,298 298.5,295 299.2,290 299.8,295 300.5,291 301.2,272 301.8,272 302.5,279 303.2,290 303.8,270 304.5,277 305.2,265 305.8,266 306.5,267 307.2,248 307.8,259 308.5,256 309.2,237 309.8,253 310.5,257 311.2,260 311.8,258 312.5,246 313.2,248 313.8,253 314.5,251 315.2,258 315.8,282 316.5,267 317.2,275 317.8,293 318.5,274 319.2,266 319.8,271 320.5,277 321.2,275 321.9,257 322.5,271 323.2,272 323.9,287 324.5,270 325.2,257 325.9,259 326.5,256 327.2,246 327.9,243 328.5,248 329.2,240 329.9,233 330.5,218 331.2,224 331.9,198 332.5,222 333.2,207 333.9,210 334.5,214 335.2,196 335.9,214 336.5,206 337.2,217 337.9,202 338.5,200 339.2,216 339.9,211 340.5,208 341.2,194 341.9,221 342.5,206 343.2,206 343.9,199 344.5,204 345.2,210 345.9,205 346.5,208 347.2,200 347.9,218 348.5,223 349.2,207 349.9,202 350.5,218 351.2,202 351.9,220 352.5,220 353.2,224 353.9,239 354.5,238 355.2,228 355.9,217 356.6,233 357.2,237 357.9,215 358.6,219 359.2,218 359.9,210 360.6,213 361.2,234 361.9,209 362.6,223 363.2,205 363.9,217 364.6,206 365.2,217 365.9,194 366.6,205 367.2,198 367.9,198 368.6,197 369.2,191 369.9,184 370.6,186 371.2,181 371.9,174 372.6,176 373.2,166 373.9,158 374.6,176 375.2,156 375.9,180 376.6,179 377.2,161 377.9,158 378.6,177 379.2,167 379.9,174 380.6,178 381.2,181 381.9,180 382.6,189 383.2,201 383.9,187 384.6,209 385.2,213 385.9,195 386.6,203 387.2,215 387.9,188 388.6,198 389.2,212 389.9,197 390.6,215 391.2,212 391.9,206 392.6,223 393.3,211 393.9,233 394.6,222 395.3,216 395.9,222 396.6,216 397.3,226 397.9,229 398.6,211 399.3,219 399.9,228 400.6,230 401.3,220 401.9,237 402.6,236 403.3,213 403.9,238 404.6,207 405.3,225 405.9,224 406.6,224 407.3,234 407.9,228 408.6,233 409.3,254 409.9,249 410.6,255 411.3,251 411.9,224 412.6,256 413.3,247 413.9,246 414.6,235 415.3,232 415.9,228 416.6,235 417.3,237 417.9,236 418.6,234 419.3,220 419.9,234 420.6,228 421.3,241 421.9,234 422.6,233 423.3,236 423.9,232 424.6,234 425.3,250 425.9,237 426.6,237 427.3,249 427.9,255 428.6,258 429.3,238 430.0,262 430.6,261 431.3,259 432.0,260 432.6,263 433.3,263 434.0,271 434.6,258 435.3,258 436.0,267 436.6,260 437.3,275 438.0,269 438.6,275 439.3,260 440.0,278 440.6,273 441.3,247 442.0,243 442.6,241 443.3,227 444.0,228 444.6,236 445.3,232 446.0,236 446.6,204 447.3,209 448.0,189 448.6,218 449.3,186 450.0,187 450.6,203 451.3,200 452.0,180 452.6,207 453.3,194 454.0,180 454.6,187 455.3,190 456.0,189 456.6,165 457.3,203 458.0,174 458.6,189 459.3,203 460.0,192 460.6,190 461.3,183 462.0,192 462.6,195 463.3,178 464.0,185 464.6,178 465.3,183 466.0,174 466.7,194 467.3,197 468.0,188 468.7,196 469.3,185 470.0,192 470.7,181 471.3,173 472.0,176 472.7,178 473.3,177 474.0,169 474.7,172 475.3,158 476.0,155 476.7,175 477.3,174 478.0,179 478.7,170 479.3,168 480.0,185 480.7,157 481.3,167 482.0,174 482.7,178 483.3,166 484.0,164 484.7,147 485.3,162 486.0,166 486.7,170 487.3,181 488.0,182 488.7,177 489.3,178 490.0,186 490.7,194 491.3,208 492.0,184 492.7,206 493.3,202 494.0,218 494.7,221 495.3,210 496.0,203 496.7,215 497.3,222 498.0,211 498.7,214 499.3,212 500.0,219 500.7,214 501.4,226 502.0,224 502.7,228 503.4,209 504.0,221 504.7,224 505.4,226 506.0,223 506.7,219 507.4,241 508.0,224 508.7,212 509.4,211 510.0,229 510.7,214 511.4,205 512.0,209 512.7,209 513.4,209 514.0,193 514.7,193 515.4,193 516.0,174 516.7,184 517.4,183 518.0,188 518.7,185 519.4,173 520.0,172 520.7,188 521.4,193 522.0,197 522.7,197 523.4,207 524.0,215 524.7,214 525.4,215 526.0,230 526.7,215 527.4,218 528.0,216 528.7,232 529.4,243 530.0,234 530.7,253 531.4,233 532.0,239 532.7,239 533.4,246 534.0,236 534.7,257 535.4,245 536.0,239 536.7,242 537.4,254 538.1,266 538.7,250 539.4,256 540.1,278 540.7,262 541.4,251 542.1,252 542.7,239 543.4,257 544.1,265 544.7,259 545.4,254 546.1,266 546.7,264 547.4,263 548.1,270 548.7,271 549.4,267 550.1,281 550.7,255 551.4,265 552.1,276 552.7,267 553.4,293 554.1,266 554.7,296 555.4,301 556.1,300 556.7,300 557.4,287 558.1,287 558.7,309 559.4,294 560.1,285 560.7,282 561.4,276 562.1,294 562.7,295 563.4,282 564.1,284 564.7,276 565.4,291 566.1,285 566.7,281 567.4,280 568.1,250 568.7,265 569.4,243 570.1,262 570.7,264 571.4,261 572.1,256 572.7,250 573.4,247 574.1,256 574.8,242 575.4,259 576.1,249 576.8,261 577.4,260 578.1,249 578.8,250 579.4,261 580.1,251 580.8,252 581.4,242 582.1,246 582.8,234 583.4,235 584.1,259 584.8,247 585.4,240 586.1,242 586.8,225 587.4,237 588.1,222 588.8,217 589.4,228 590.1,213 590.8,215 591.4,221 592.1,224 592.8,238 593.4,215 594.1,227 594.8,232 595.4,225 596.1,223 596.8,220 597.4,230 598.1,241 598.8,242 599.4,234 600.1,247 600.8,239 601.4,228 602.1,244 602.8,218 603.4,237 604.1,237 604.8,230 605.4,241 606.1,241 606.8,249 607.4,247 608.1,256 608.8,246 609.4,249 610.1,247 610.8,248 611.5,246 612.1,240 612.8,246 613.5,243 614.1,215 614.8,220 615.5,248 616.1,229 616.8,255 617.5,237 618.1,240 618.8,224 619.5,222 620.1,227 620.8,233 621.5,219 622.1,222 622.8,218 623.5,227 624.1,231 624.8,234 625.5,231 626.1,230 626.8,237 627.5,222 628.1,233 628.8,237 629.5,253 630.1,247 630.8,247 631.5,255 632.1,251 632.8,265 633.5,251 634.1,251 634.8,252 635.5,276 636.1,277 636.8,266 637.5,280 638.1,261 638.8,286 639.5,275 640.1,275 640.8,281 641.5,287 642.1,277 642.8,283 643.5,281 644.1,307 644.8,285 645.5,282 646.2,285 646.8,281 647.5,280 648.2,261 648.8,256 649.5,250 650.2,231 650.8,247 651.5,227 652.2,232 652.8,240 653.5,238 654.2,220 654.8,231 655.5,228 656.2,198 656.8,203 657.5,211 658.2,212 658.8,200 659.5,203 660.2,223 660.8,198 661.5,210 662.2,191 662.8,206 663.5,212 664.2,197 664.8,201 665.5,223 666.2,202 666.8,206 667.5,185 668.2,210 668.8,182 669.5,192 670.2,201 670.8,205 671.5,210 672.2,221 672.8,224 673.5,228 674.2,219 674.8,214 675.5,194 676.2,213 676.8,212 677.5,223 678.2,206 678.8,210 679.5,210 680.2,223 680.8,221 681.5,214 682.2,203 682.9,222 683.5,227 684.2,236 684.9,250 685.5,253 686.2,252 686.9,243 687.5,240 688.2,251 688.9,230 689.5,235 690.2,222 690.9,219 691.5,227 692.2,204 692.9,212 693.5,201 694.2,184 694.9,175 695.5,172 696.2,184 696.9,181 697.5,165 698.2,174 698.9,154 699.5,166 700.2,181 700.9,150 701.5,159 702.2,154 702.9,152 703.5,141 704.2,145 704.9,121 705.5,139 706.2,134 706.9,137 707.5,147 708.2,115 708.9,113 709.5,104 710.2,120 710.9,124 711.5,124 712.2,155 712.9,159 713.5,178 714.2,180 714.9,181 715.5,173 716.2,161 716.9,177 717.5,189 718.2,183 718.9,179 719.6,189 720.2,194 720.9,217 721.6,188 722.2,197 722.9,197 723.6,209 724.2,219 724.9,213 725.6,197 726.2,215 726.9,216 727.6,210 728.2,192 728.9,188 729.6,212 730.2,192 730.9,193 731.6,189 732.2,219 732.9,200 733.6,207 734.2,208 734.9,216 735.6,221 736.2,250 736.9,241 737.6,253 738.2,228 738.9,240 739.6,236 740.2,211 740.9,221 741.6,212 742.2,206 742.9,204 743.6,194 744.2,198 744.9,184 745.6,207 746.2,217 746.9,212 747.6,195 748.2,203 748.9,223 749.6,212 750.2,211 750.9,181 751.6,196 752.2,215 752.9,199 753.6,191 754.2,198 754.9,214 755.6,206 756.3,188 756.9,189 757.6,201 758.3,212 758.9,190 759.6,190 760.3,172 760.9,190 761.6,206 762.3,208 762.9,186 763.6,202 764.3,184 764.9,171 765.6,192 766.3,174 766.9,178 767.6,175 768.3,188 768.9,192 769.6,186 770.3,181 770.9,180 771.6,158 772.3,175 772.9,195 773.6,179 774.3,188 774.9,182 775.6,182 776.3,187 776.9,185 777.6,179 778.3,172 778.9,179 779.6,167 780.3,187 780.9,174 781.6,178 782.3,165 782.9,183 783.6,190 784.3,189 784.9,200 785.6,189 786.3,200 786.9,198 787.6,171 788.3,203 788.9,194 789.6,202 790.3,200 791.0,198 791.6,220 792.3,214 793.0,226 793.6,234 794.3,231 795.0,228 795.6,248 796.3,250 797.0,242 797.6,248 798.3,254 799.0,249 799.6,252 800.3,252 801.0,242 801.6,239 802.3,228 803.0,244 803.6,225 804.3,227 805.0,234 805.6,220 806.3,214 807.0,212 807.6,219 808.3,233 809.0,214 809.6,218 810.3,211 811.0,220 811.6,212 812.3,221 813.0,203 813.6,222 814.3,204 815.0,214 815.6,215 816.3,224 817.0,231 817.6,211 818.3,230 819.0,223 819.6,210 820.3,216 821.0,222 821.6,210 822.3,215 823.0,221 823.6,206 824.3,219 825.0,206 825.6,207 826.3,207 827.0,212 827.7,187 828.3,201 829.0,180 829.7,191 830.3,189 831.0,190 831.7,187 832.3,187 833.0,189 833.7,206 834.3,212 835.0,221 835.7,208 836.3,229 837.0,237 837.7,225 838.3,229 839.0,238 839.7,251 840.3,247 841.0,246 841.7,214 842.3,234 843.0,214 843.7,217 844.3,197 845.0,199" fill="none" stroke="#3a2f92" stroke-width="2.4" stroke-linejoin="miter" stroke-miterlimit="1.2"/>
<line x1="117.3" y1="20.0" x2="117.3" y2="527.6999999999999" stroke="#000" stroke-width="4.6"/>
<line x1="115.0" y1="525.4" x2="848" y2="525.4" stroke="#000" stroke-width="4.6"/>
<line x1="100.3" y1="522.0" x2="117.3" y2="522.0" stroke="#000" stroke-width="4.6"/>
<line x1="107.8" y1="497.0" x2="117.3" y2="497.0" stroke="#000" stroke-width="4.6"/>
<line x1="107.8" y1="472.0" x2="117.3" y2="472.0" stroke="#000" stroke-width="4.6"/>
<line x1="107.8" y1="447.0" x2="117.3" y2="447.0" stroke="#000" stroke-width="4.6"/>
<line x1="107.8" y1="422.0" x2="117.3" y2="422.0" stroke="#000" stroke-width="4.6"/>
<line x1="100.3" y1="397.0" x2="117.3" y2="397.0" stroke="#000" stroke-width="4.6"/>
<line x1="107.8" y1="372.0" x2="117.3" y2="372.0" stroke="#000" stroke-width="4.6"/>
<line x1="107.8" y1="347.0" x2="117.3" y2="347.0" stroke="#000" stroke-width="4.6"/>
<line x1="107.8" y1="322.0" x2="117.3" y2="322.0" stroke="#000" stroke-width="4.6"/>
<line x1="107.8" y1="297.0" x2="117.3" y2="297.0" stroke="#000" stroke-width="4.6"/>
<line x1="100.3" y1="272.0" x2="117.3" y2="272.0" stroke="#000" stroke-width="4.6"/>
<line x1="107.8" y1="247.0" x2="117.3" y2="247.0" stroke="#000" stroke-width="4.6"/>
<line x1="107.8" y1="222.0" x2="117.3" y2="222.0" stroke="#000" stroke-width="4.6"/>
<line x1="107.8" y1="197.0" x2="117.3" y2="197.0" stroke="#000" stroke-width="4.6"/>
<line x1="107.8" y1="172.0" x2="117.3" y2="172.0" stroke="#000" stroke-width="4.6"/>
<line x1="100.3" y1="147.0" x2="117.3" y2="147.0" stroke="#000" stroke-width="4.6"/>
<line x1="107.8" y1="122.0" x2="117.3" y2="122.0" stroke="#000" stroke-width="4.6"/>
<line x1="107.8" y1="97.0" x2="117.3" y2="97.0" stroke="#000" stroke-width="4.6"/>
<line x1="107.8" y1="72.0" x2="117.3" y2="72.0" stroke="#000" stroke-width="4.6"/>
<line x1="107.8" y1="47.0" x2="117.3" y2="47.0" stroke="#000" stroke-width="4.6"/>
<line x1="100.3" y1="22.0" x2="117.3" y2="22.0" stroke="#000" stroke-width="4.6"/>
<line x1="121.0" y1="525.4" x2="121.0" y2="542.9" stroke="#000" stroke-width="4.6"/>
<line x1="157.2" y1="525.4" x2="157.2" y2="535.9" stroke="#000" stroke-width="4.6"/>
<line x1="193.4" y1="525.4" x2="193.4" y2="535.9" stroke="#000" stroke-width="4.6"/>
<line x1="229.7" y1="525.4" x2="229.7" y2="535.9" stroke="#000" stroke-width="4.6"/>
<line x1="265.9" y1="525.4" x2="265.9" y2="542.9" stroke="#000" stroke-width="4.6"/>
<line x1="302.1" y1="525.4" x2="302.1" y2="535.9" stroke="#000" stroke-width="4.6"/>
<line x1="338.4" y1="525.4" x2="338.4" y2="535.9" stroke="#000" stroke-width="4.6"/>
<line x1="374.6" y1="525.4" x2="374.6" y2="535.9" stroke="#000" stroke-width="4.6"/>
<line x1="410.8" y1="525.4" x2="410.8" y2="542.9" stroke="#000" stroke-width="4.6"/>
<line x1="447.0" y1="525.4" x2="447.0" y2="535.9" stroke="#000" stroke-width="4.6"/>
<line x1="483.2" y1="525.4" x2="483.2" y2="535.9" stroke="#000" stroke-width="4.6"/>
<line x1="519.5" y1="525.4" x2="519.5" y2="535.9" stroke="#000" stroke-width="4.6"/>
<line x1="555.7" y1="525.4" x2="555.7" y2="542.9" stroke="#000" stroke-width="4.6"/>
<line x1="591.9" y1="525.4" x2="591.9" y2="535.9" stroke="#000" stroke-width="4.6"/>
<line x1="628.1" y1="525.4" x2="628.1" y2="535.9" stroke="#000" stroke-width="4.6"/>
<line x1="664.4" y1="525.4" x2="664.4" y2="535.9" stroke="#000" stroke-width="4.6"/>
<line x1="700.6" y1="525.4" x2="700.6" y2="542.9" stroke="#000" stroke-width="4.6"/>
<line x1="736.8" y1="525.4" x2="736.8" y2="535.9" stroke="#000" stroke-width="4.6"/>
<line x1="773.1" y1="525.4" x2="773.1" y2="535.9" stroke="#000" stroke-width="4.6"/>
<line x1="809.3" y1="525.4" x2="809.3" y2="535.9" stroke="#000" stroke-width="4.6"/>
<line x1="845.5" y1="525.4" x2="845.5" y2="542.9" stroke="#000" stroke-width="4.6"/>
</g>
<g id="plotB">
<polyline points="1044.0,500 1044.8,446 1045.7,401 1046.5,396 1047.3,389 1048.2,343 1049.0,346 1049.8,346 1050.7,345 1051.5,357 1052.3,369 1053.2,346 1054.0,320 1054.8,304 1055.7,336 1056.5,295 1057.4,327 1058.2,330 1059.0,294 1059.9,318 1060.7,311 1061.5,363 1062.4,333 1063.2,280 1064.0,334 1064.9,339 1065.7,316 1066.5,313 1067.4,330 1068.2,334 1069.0,324 1069.9,299 1070.7,317 1071.5,290 1072.4,288 1073.2,309 1074.0,296 1074.9,306 1075.7,373 1076.5,329 1077.4,311 1078.2,289 1079.1,305 1079.9,297 1080.7,277 1081.6,342 1082.4,319 1083.2,329 1084.1,388 1084.9,331 1085.7,336 1086.6,335 1087.4,329 1088.2,312 1089.1,325 1089.9,351 1090.7,333 1091.6,313 1092.4,328 1093.2,330 1094.1,352 1094.9,362 1095.7,353 1096.6,365 1097.4,342 1098.2,358 1099.1,346 1099.9,353 1100.7,301 1101.6,362 1102.4,302 1103.3,312 1104.1,352 1104.9,321 1105.8,373 1106.6,330 1107.4,300 1108.3,321 1109.1,319 1109.9,359 1110.8,356 1111.6,334 1112.4,316 1113.3,322 1114.1,338 1114.9,307 1115.8,302 1116.6,337 1117.4,338 1118.3,317 1119.1,317 1119.9,290 1120.8,351 1121.6,316 1122.4,279 1123.3,288 1124.1,293 1125.0,352 1125.8,328 1126.6,284 1127.5,348 1128.3,336 1129.1,289 1130.0,254 1130.8,331 1131.6,309 1132.5,318 1133.3,298 1134.1,348 1135.0,354 1135.8,333 1136.6,320 1137.5,328 1138.3,332 1139.1,284 1140.0,340 1140.8,312 1141.6,333 1142.5,329 1143.3,349 1144.1,364 1145.0,379 1145.8,327 1146.6,315 1147.5,332 1148.3,312 1149.2,348 1150.0,318 1150.8,336 1151.7,356 1152.5,364 1153.3,349 1154.2,379 1155.0,378 1155.8,316 1156.7,369 1157.5,364 1158.3,352 1159.2,346 1160.0,353 1160.8,358 1161.7,359 1162.5,384 1163.3,382 1164.2,344 1165.0,328 1165.8,372 1166.7,342 1167.5,350 1168.3,362 1169.2,370 1170.0,346 1170.9,364 1171.7,322 1172.5,356 1173.4,321 1174.2,337 1175.0,334 1175.9,310 1176.7,271 1177.5,349 1178.4,343 1179.2,341 1180.0,316 1180.9,317 1181.7,336 1182.5,324 1183.4,346 1184.2,316 1185.0,312 1185.9,347 1186.7,313 1187.5,336 1188.4,300 1189.2,313 1190.0,332 1190.9,307 1191.7,327 1192.5,341 1193.4,330 1194.2,367 1195.1,336 1195.9,348 1196.7,341 1197.6,295 1198.4,320 1199.2,354 1200.1,332 1200.9,369 1201.7,341 1202.6,345 1203.4,370 1204.2,346 1205.1,377 1205.9,321 1206.7,362 1207.6,362 1208.4,349 1209.2,355 1210.1,363 1210.9,337 1211.7,313 1212.6,345 1213.4,329 1214.2,357 1215.1,359 1215.9,340 1216.8,321 1217.6,329 1218.4,350 1219.3,339 1220.1,375 1220.9,351 1221.8,350 1222.6,336 1223.4,342 1224.3,363 1225.1,326 1225.9,326 1226.8,315 1227.6,364 1228.4,309 1229.3,332 1230.1,367 1230.9,372 1231.8,341 1232.6,350 1233.4,290 1234.3,353 1235.1,329 1235.9,294 1236.8,294 1237.6,321 1238.5,332 1239.3,336 1240.1,331 1241.0,352 1241.8,354 1242.6,309 1243.5,328 1244.3,326 1245.1,368 1246.0,336 1246.8,370 1247.6,348 1248.5,386 1249.3,333 1250.1,340 1251.0,339 1251.8,339 1252.6,379 1253.5,322 1254.3,315 1255.1,329 1256.0,348 1256.8,317 1257.6,357 1258.5,362 1259.3,346 1260.1,350 1261.0,340 1261.8,344 1262.7,331 1263.5,375 1264.3,380 1265.2,343 1266.0,353 1266.8,307 1267.7,325 1268.5,353 1269.3,352 1270.2,353 1271.0,359 1271.8,355 1272.7,347 1273.5,386 1274.3,309 1275.2,326 1276.0,333 1276.8,332 1277.7,326 1278.5,347 1279.3,336 1280.2,351 1281.0,365 1281.8,340 1282.7,349 1283.5,327 1284.4,323 1285.2,343 1286.0,365 1286.9,361 1287.7,372 1288.5,367 1289.4,367 1290.2,331 1291.0,380 1291.9,366 1292.7,386 1293.5,365 1294.4,354 1295.2,353 1296.0,359 1296.9,316 1297.7,343 1298.5,352 1299.4,379 1300.2,342 1301.0,364 1301.9,408 1302.7,352 1303.5,370 1304.4,334 1305.2,336 1306.0,347 1306.9,354 1307.7,321 1308.6,317 1309.4,357 1310.2,327 1311.1,357 1311.9,366 1312.7,364 1313.6,343 1314.4,353 1315.2,321 1316.1,354 1316.9,330 1317.7,339 1318.6,375 1319.4,347 1320.2,332 1321.1,305 1321.9,349 1322.7,372 1323.6,316 1324.4,343 1325.2,336 1326.1,342 1326.9,343 1327.7,320 1328.6,347 1329.4,323 1330.3,374 1331.1,365 1331.9,343 1332.8,340 1333.6,336 1334.4,336 1335.3,331 1336.1,330 1336.9,336 1337.8,311 1338.6,317 1339.4,326 1340.3,345 1341.1,335 1341.9,385 1342.8,343 1343.6,343 1344.4,363 1345.3,376 1346.1,387 1346.9,366 1347.8,336 1348.6,343 1349.4,368 1350.3,337 1351.1,337 1351.9,328 1352.8,368 1353.6,375 1354.5,371 1355.3,350 1356.1,312 1357.0,307 1357.8,348 1358.6,351 1359.5,281 1360.3,331 1361.1,365 1362.0,365 1362.8,330 1363.6,350 1364.5,333 1365.3,327 1366.1,365 1367.0,361 1367.8,333 1368.6,327 1369.5,320 1370.3,318 1371.1,365 1372.0,377 1372.8,350 1373.6,360 1374.5,322 1375.3,330 1376.2,352 1377.0,333 1377.8,337 1378.7,299 1379.5,294 1380.3,328 1381.2,329 1382.0,339 1382.8,327 1383.7,330 1384.5,333 1385.3,346 1386.2,341 1387.0,331 1387.8,335 1388.7,354 1389.5,330 1390.3,320 1391.2,326 1392.0,347 1392.8,348 1393.7,368 1394.5,337 1395.3,371 1396.2,322 1397.0,320 1397.8,309 1398.7,332 1399.5,331 1400.4,317 1401.2,307 1402.0,286 1402.9,311 1403.7,299 1404.5,309 1405.4,287 1406.2,283 1407.0,295 1407.9,306 1408.7,320 1409.5,296 1410.4,309 1411.2,298 1412.0,297 1412.9,280 1413.7,324 1414.5,320 1415.4,324 1416.2,275 1417.0,293 1417.9,274 1418.7,294 1419.5,288 1420.4,294 1421.2,278 1422.1,286 1422.9,266 1423.7,286 1424.6,265 1425.4,264 1426.2,286 1427.1,284 1427.9,244 1428.7,249 1429.6,280 1430.4,284 1431.2,242 1432.1,247 1432.9,265 1433.7,295 1434.6,292 1435.4,307 1436.2,307 1437.1,319 1437.9,236 1438.7,273 1439.6,298 1440.4,251 1441.2,248 1442.1,274 1442.9,292 1443.7,288 1444.6,228 1445.4,234 1446.3,255 1447.1,249 1447.9,264 1448.8,263 1449.6,297 1450.4,261 1451.3,273 1452.1,260 1452.9,272 1453.8,235 1454.6,272 1455.4,260 1456.3,248 1457.1,302 1457.9,280 1458.8,302 1459.6,281 1460.4,281 1461.3,266 1462.1,277 1462.9,260 1463.8,288 1464.6,241 1465.4,299 1466.3,261 1467.1,286 1468.0,275 1468.8,275 1469.6,300 1470.5,272 1471.3,245 1472.1,272 1473.0,290 1473.8,217 1474.6,279 1475.5,275 1476.3,233 1477.1,266 1478.0,286 1478.8,241 1479.6,252 1480.5,244 1481.3,269 1482.1,285 1483.0,252 1483.8,252 1484.6,270 1485.5,266 1486.3,257 1487.1,295 1488.0,245 1488.8,280 1489.6,272 1490.5,258 1491.3,268 1492.2,270 1493.0,320 1493.8,280 1494.7,261 1495.5,279 1496.3,275 1497.2,219 1498.0,259 1498.8,270 1499.7,234 1500.5,258 1501.3,250 1502.2,276 1503.0,232 1503.8,221 1504.7,243 1505.5,266 1506.3,298 1507.2,259 1508.0,250 1508.8,285 1509.7,263 1510.5,287 1511.3,251 1512.2,221 1513.0,239 1513.9,236 1514.7,214 1515.5,243 1516.4,253 1517.2,265 1518.0,260 1518.9,279 1519.7,282 1520.5,278 1521.4,279 1522.2,239 1523.0,246 1523.9,273 1524.7,287 1525.5,255 1526.4,275 1527.2,285 1528.0,311 1528.9,286 1529.7,268 1530.5,303 1531.4,292 1532.2,279 1533.0,313 1533.9,273 1534.7,303 1535.5,308 1536.4,319 1537.2,282 1538.1,278 1538.9,297 1539.7,299 1540.6,310 1541.4,294 1542.2,314 1543.1,327 1543.9,315 1544.7,300 1545.6,339 1546.4,283 1547.2,307 1548.1,327 1548.9,290 1549.7,330 1550.6,345 1551.4,335 1552.2,319 1553.1,340 1553.9,298 1554.7,322 1555.6,324 1556.4,317 1557.2,331 1558.1,326 1558.9,285 1559.8,331 1560.6,314 1561.4,356 1562.3,323 1563.1,311 1563.9,329 1564.8,329 1565.6,325 1566.4,318 1567.3,298 1568.1,323 1568.9,354 1569.8,282 1570.6,288 1571.4,335 1572.3,316 1573.1,311 1573.9,274 1574.8,311 1575.6,324 1576.4,320 1577.3,331 1578.1,301 1578.9,316 1579.8,276 1580.6,294 1581.5,291 1582.3,347 1583.1,312 1584.0,321 1584.8,268 1585.6,325 1586.5,316 1587.3,265 1588.1,267 1589.0,347 1589.8,294 1590.6,350 1591.5,301 1592.3,262 1593.1,341 1594.0,318 1594.8,323 1595.6,308 1596.5,316 1597.3,333 1598.1,291 1599.0,256 1599.8,316 1600.6,297 1601.5,337 1602.3,296 1603.1,295 1604.0,301 1604.8,257 1605.7,330 1606.5,289 1607.3,304 1608.2,348 1609.0,314 1609.8,326 1610.7,321 1611.5,320 1612.3,307 1613.2,325 1614.0,299 1614.8,313 1615.7,284 1616.5,327 1617.3,251 1618.2,293 1619.0,290 1619.8,301 1620.7,287 1621.5,324 1622.3,347 1623.2,296 1624.0,266 1624.8,280 1625.7,287 1626.5,299 1627.4,294 1628.2,328 1629.0,292 1629.9,312 1630.7,316 1631.5,290 1632.4,303 1633.2,374 1634.0,303 1634.9,280 1635.7,250 1636.5,321 1637.4,297 1638.2,291 1639.0,352 1639.9,329 1640.7,272 1641.5,306 1642.4,333 1643.2,320 1644.0,284 1644.9,346 1645.7,348 1646.5,295 1647.4,282 1648.2,280 1649.0,316 1649.9,334 1650.7,314 1651.6,301 1652.4,308 1653.2,315 1654.1,280 1654.9,278 1655.7,312 1656.6,330 1657.4,307 1658.2,305 1659.1,289 1659.9,329 1660.7,283 1661.6,315 1662.4,298 1663.2,307 1664.1,289 1664.9,321 1665.7,304 1666.6,294 1667.4,310 1668.2,304 1669.1,292 1669.9,286 1670.7,320 1671.6,282 1672.4,309 1673.3,309 1674.1,319 1674.9,303 1675.8,350 1676.6,274 1677.4,319 1678.3,311 1679.1,322 1679.9,270 1680.8,336 1681.6,283 1682.4,326 1683.3,328 1684.1,312 1684.9,290 1685.8,291 1686.6,319 1687.4,302 1688.3,274 1689.1,278 1689.9,334 1690.8,325 1691.6,303 1692.4,293 1693.3,297 1694.1,302 1694.9,295 1695.8,274 1696.6,283 1697.5,278 1698.3,307 1699.1,293 1700.0,306 1700.8,334 1701.6,306 1702.5,325 1703.3,328 1704.1,266 1705.0,276 1705.8,318 1706.6,294 1707.5,322 1708.3,319 1709.1,291 1710.0,311 1710.8,332 1711.6,316 1712.5,275 1713.3,294 1714.1,301 1715.0,332 1715.8,297 1716.6,289 1717.5,307 1718.3,307 1719.2,294 1720.0,304 1720.8,297 1721.7,309 1722.5,314 1723.3,303 1724.2,290 1725.0,318 1725.8,282 1726.7,323 1727.5,301 1728.3,302 1729.2,243 1730.0,338" fill="none" stroke="#2a2a2a" stroke-width="2.6" stroke-linejoin="miter" stroke-miterlimit="1.2"/>
<polyline points="1044.0,520 1044.8,482 1045.7,423 1046.5,385 1047.3,389 1048.2,407 1049.0,421 1049.8,378 1050.7,386 1051.5,338 1052.3,323 1053.2,358 1054.0,327 1054.8,332 1055.7,303 1056.5,375 1057.4,325 1058.2,369 1059.0,331 1059.9,357 1060.7,382 1061.5,352 1062.4,349 1063.2,366 1064.0,348 1064.9,357 1065.7,303 1066.5,359 1067.4,342 1068.2,320 1069.0,355 1069.9,353 1070.7,345 1071.5,359 1072.4,318 1073.2,304 1074.0,323 1074.9,354 1075.7,346 1076.5,334 1077.4,314 1078.2,339 1079.1,359 1079.9,320 1080.7,320 1081.6,350 1082.4,349 1083.2,340 1084.1,364 1084.9,327 1085.7,307 1086.6,286 1087.4,353 1088.2,323 1089.1,323 1089.9,318 1090.7,338 1091.6,339 1092.4,337 1093.2,325 1094.1,321 1094.9,331 1095.7,311 1096.6,342 1097.4,346 1098.2,343 1099.1,318 1099.9,302 1100.7,303 1101.6,304 1102.4,305 1103.3,325 1104.1,326 1104.9,330 1105.8,336 1106.6,300 1107.4,311 1108.3,328 1109.1,333 1109.9,312 1110.8,303 1111.6,342 1112.4,341 1113.3,333 1114.1,311 1114.9,302 1115.8,321 1116.6,335 1117.4,334 1118.3,344 1119.1,333 1119.9,361 1120.8,319 1121.6,341 1122.4,327 1123.3,279 1124.1,285 1125.0,305 1125.8,319 1126.6,326 1127.5,349 1128.3,323 1129.1,313 1130.0,336 1130.8,287 1131.6,300 1132.5,283 1133.3,301 1134.1,276 1135.0,285 1135.8,336 1136.6,312 1137.5,354 1138.3,318 1139.1,319 1140.0,302 1140.8,319 1141.6,276 1142.5,318 1143.3,301 1144.1,289 1145.0,278 1145.8,304 1146.6,318 1147.5,331 1148.3,286 1149.2,310 1150.0,324 1150.8,363 1151.7,329 1152.5,344 1153.3,312 1154.2,333 1155.0,320 1155.8,319 1156.7,340 1157.5,336 1158.3,369 1159.2,343 1160.0,352 1160.8,323 1161.7,324 1162.5,357 1163.3,328 1164.2,363 1165.0,316 1165.8,315 1166.7,375 1167.5,295 1168.3,336 1169.2,350 1170.0,350 1170.9,329 1171.7,390 1172.5,339 1173.4,310 1174.2,366 1175.0,327 1175.9,331 1176.7,349 1177.5,318 1178.4,310 1179.2,328 1180.0,346 1180.9,309 1181.7,368 1182.5,340 1183.4,308 1184.2,334 1185.0,353 1185.9,382 1186.7,370 1187.5,371 1188.4,344 1189.2,359 1190.0,289 1190.9,365 1191.7,341 1192.5,369 1193.4,324 1194.2,331 1195.1,341 1195.9,365 1196.7,356 1197.6,366 1198.4,353 1199.2,363 1200.1,405 1200.9,380 1201.7,360 1202.6,313 1203.4,359 1204.2,374 1205.1,345 1205.9,367 1206.7,301 1207.6,330 1208.4,314 1209.2,343 1210.1,315 1210.9,303 1211.7,358 1212.6,294 1213.4,341 1214.2,344 1215.1,312 1215.9,294 1216.8,321 1217.6,320 1218.4,322 1219.3,348 1220.1,342 1220.9,407 1221.8,354 1222.6,331 1223.4,334 1224.3,356 1225.1,338 1225.9,324 1226.8,306 1227.6,350 1228.4,317 1229.3,321 1230.1,339 1230.9,314 1231.8,334 1232.6,290 1233.4,296 1234.3,297 1235.1,350 1235.9,279 1236.8,299 1237.6,283 1238.5,289 1239.3,282 1240.1,287 1241.0,324 1241.8,338 1242.6,294 1243.5,279 1244.3,291 1245.1,333 1246.0,309 1246.8,271 1247.6,329 1248.5,302 1249.3,329 1250.1,333 1251.0,301 1251.8,350 1252.6,328 1253.5,293 1254.3,265 1255.1,288 1256.0,292 1256.8,328 1257.6,300 1258.5,309 1259.3,317 1260.1,309 1261.0,330 1261.8,330 1262.7,350 1263.5,311 1264.3,334 1265.2,319 1266.0,367 1266.8,360 1267.7,315 1268.5,350 1269.3,298 1270.2,315 1271.0,325 1271.8,336 1272.7,303 1273.5,332 1274.3,364 1275.2,294 1276.0,297 1276.8,288 1277.7,351 1278.5,316 1279.3,329 1280.2,320 1281.0,330 1281.8,336 1282.7,346 1283.5,349 1284.4,378 1285.2,311 1286.0,328 1286.9,320 1287.7,311 1288.5,348 1289.4,374 1290.2,316 1291.0,393 1291.9,344 1292.7,345 1293.5,282 1294.4,336 1295.2,345 1296.0,335 1296.9,364 1297.7,354 1298.5,359 1299.4,338 1300.2,319 1301.0,351 1301.9,357 1302.7,353 1303.5,342 1304.4,325 1305.2,342 1306.0,340 1306.9,321 1307.7,352 1308.6,350 1309.4,345 1310.2,359 1311.1,371 1311.9,384 1312.7,320 1313.6,349 1314.4,370 1315.2,371 1316.1,351 1316.9,319 1317.7,340 1318.6,349 1319.4,320 1320.2,322 1321.1,326 1321.9,414 1322.7,342 1323.6,340 1324.4,365 1325.2,355 1326.1,347 1326.9,344 1327.7,323 1328.6,331 1329.4,364 1330.3,361 1331.1,322 1331.9,381 1332.8,333 1333.6,304 1334.4,353 1335.3,355 1336.1,346 1336.9,325 1337.8,371 1338.6,348 1339.4,345 1340.3,336 1341.1,335 1341.9,367 1342.8,322 1343.6,343 1344.4,350 1345.3,350 1346.1,321 1346.9,330 1347.8,326 1348.6,314 1349.4,336 1350.3,358 1351.1,346 1351.9,352 1352.8,328 1353.6,297 1354.5,325 1355.3,283 1356.1,340 1357.0,299 1357.8,346 1358.6,282 1359.5,295 1360.3,306 1361.1,308 1362.0,280 1362.8,287 1363.6,318 1364.5,286 1365.3,334 1366.1,366 1367.0,301 1367.8,309 1368.6,352 1369.5,343 1370.3,280 1371.1,314 1372.0,340 1372.8,255 1373.6,306 1374.5,330 1375.3,294 1376.2,291 1377.0,331 1377.8,274 1378.7,308 1379.5,329 1380.3,317 1381.2,280 1382.0,346 1382.8,302 1383.7,310 1384.5,289 1385.3,312 1386.2,338 1387.0,276 1387.8,273 1388.7,252 1389.5,302 1390.3,309 1391.2,279 1392.0,304 1392.8,304 1393.7,350 1394.5,282 1395.3,312 1396.2,294 1397.0,328 1397.8,299 1398.7,261 1399.5,294 1400.4,283 1401.2,261 1402.0,297 1402.9,287 1403.7,258 1404.5,272 1405.4,302 1406.2,300 1407.0,277 1407.9,271 1408.7,277 1409.5,262 1410.4,236 1411.2,277 1412.0,236 1412.9,283 1413.7,262 1414.5,265 1415.4,242 1416.2,261 1417.0,249 1417.9,259 1418.7,238 1419.5,286 1420.4,232 1421.2,303 1422.1,290 1422.9,247 1423.7,296 1424.6,287 1425.4,250 1426.2,269 1427.1,262 1427.9,254 1428.7,260 1429.6,274 1430.4,264 1431.2,270 1432.1,276 1432.9,255 1433.7,257 1434.6,238 1435.4,265 1436.2,251 1437.1,261 1437.9,275 1438.7,276 1439.6,255 1440.4,232 1441.2,252 1442.1,244 1442.9,236 1443.7,200 1444.6,227 1445.4,189 1446.3,219 1447.1,220 1447.9,214 1448.8,239 1449.6,226 1450.4,226 1451.3,213 1452.1,226 1452.9,220 1453.8,208 1454.6,198 1455.4,158 1456.3,231 1457.1,225 1457.9,171 1458.8,227 1459.6,239 1460.4,225 1461.3,222 1462.1,206 1462.9,204 1463.8,262 1464.6,225 1465.4,252 1466.3,215 1467.1,237 1468.0,241 1468.8,246 1469.6,198 1470.5,268 1471.3,220 1472.1,205 1473.0,216 1473.8,174 1474.6,238 1475.5,197 1476.3,207 1477.1,209 1478.0,185 1478.8,215 1479.6,248 1480.5,203 1481.3,220 1482.1,245 1483.0,249 1483.8,189 1484.6,220 1485.5,215 1486.3,206 1487.1,211 1488.0,204 1488.8,163 1489.6,198 1490.5,168 1491.3,204 1492.2,172 1493.0,209 1493.8,204 1494.7,202 1495.5,178 1496.3,205 1497.2,176 1498.0,183 1498.8,170 1499.7,224 1500.5,195 1501.3,223 1502.2,234 1503.0,229 1503.8,203 1504.7,250 1505.5,243 1506.3,197 1507.2,225 1508.0,201 1508.8,217 1509.7,244 1510.5,228 1511.3,261 1512.2,236 1513.0,233 1513.9,255 1514.7,238 1515.5,232 1516.4,253 1517.2,249 1518.0,199 1518.9,207 1519.7,237 1520.5,258 1521.4,219 1522.2,178 1523.0,214 1523.9,211 1524.7,255 1525.5,172 1526.4,247 1527.2,239 1528.0,169 1528.9,210 1529.7,224 1530.5,239 1531.4,232 1532.2,239 1533.0,230 1533.9,210 1534.7,261 1535.5,242 1536.4,219 1537.2,245 1538.1,226 1538.9,222 1539.7,229 1540.6,210 1541.4,228 1542.2,222 1543.1,204 1543.9,251 1544.7,252 1545.6,233 1546.4,221 1547.2,223 1548.1,281 1548.9,228 1549.7,264 1550.6,260 1551.4,255 1552.2,236 1553.1,239 1553.9,246 1554.7,227 1555.6,279 1556.4,232 1557.2,248 1558.1,284 1558.9,275 1559.8,231 1560.6,254 1561.4,256 1562.3,188 1563.1,276 1563.9,246 1564.8,236 1565.6,225 1566.4,183 1567.3,253 1568.1,270 1568.9,237 1569.8,272 1570.6,250 1571.4,212 1572.3,241 1573.1,174 1573.9,184 1574.8,239 1575.6,238 1576.4,226 1577.3,228 1578.1,193 1578.9,248 1579.8,226 1580.6,213 1581.5,292 1582.3,224 1583.1,212 1584.0,261 1584.8,222 1585.6,209 1586.5,257 1587.3,209 1588.1,186 1589.0,200 1589.8,206 1590.6,229 1591.5,245 1592.3,187 1593.1,242 1594.0,198 1594.8,196 1595.6,153 1596.5,243 1597.3,226 1598.1,208 1599.0,211 1599.8,235 1600.6,202 1601.5,137 1602.3,205 1603.1,204 1604.0,201 1604.8,204 1605.7,221 1606.5,180 1607.3,249 1608.2,212 1609.0,195 1609.8,221 1610.7,186 1611.5,222 1612.3,207 1613.2,203 1614.0,246 1614.8,237 1615.7,205 1616.5,215 1617.3,241 1618.2,291 1619.0,244 1619.8,236 1620.7,255 1621.5,209 1622.3,233 1623.2,250 1624.0,256 1624.8,259 1625.7,228 1626.5,251 1627.4,289 1628.2,313 1629.0,280 1629.9,254 1630.7,253 1631.5,261 1632.4,297 1633.2,228 1634.0,242 1634.9,216 1635.7,245 1636.5,250 1637.4,287 1638.2,265 1639.0,256 1639.9,243 1640.7,244 1641.5,288 1642.4,249 1643.2,224 1644.0,226 1644.9,246 1645.7,219 1646.5,211 1647.4,262 1648.2,231 1649.0,237 1649.9,247 1650.7,239 1651.6,247 1652.4,202 1653.2,253 1654.1,247 1654.9,244 1655.7,259 1656.6,297 1657.4,290 1658.2,269 1659.1,280 1659.9,238 1660.7,244 1661.6,264 1662.4,268 1663.2,274 1664.1,293 1664.9,255 1665.7,276 1666.6,233 1667.4,262 1668.2,226 1669.1,268 1669.9,235 1670.7,282 1671.6,215 1672.4,294 1673.3,259 1674.1,266 1674.9,267 1675.8,229 1676.6,241 1677.4,245 1678.3,258 1679.1,224 1679.9,244 1680.8,264 1681.6,291 1682.4,284 1683.3,234 1684.1,279 1684.9,278 1685.8,264 1686.6,241 1687.4,231 1688.3,231 1689.1,283 1689.9,232 1690.8,199 1691.6,260 1692.4,230 1693.3,238 1694.1,224 1694.9,256 1695.8,242 1696.6,226 1697.5,225 1698.3,283 1699.1,285 1700.0,239 1700.8,233 1701.6,249 1702.5,266 1703.3,244 1704.1,286 1705.0,259 1705.8,204 1706.6,238 1707.5,247 1708.3,307 1709.1,280 1710.0,250 1710.8,231 1711.6,260 1712.5,265 1713.3,258 1714.1,260 1715.0,271 1715.8,254 1716.6,253 1717.5,279 1718.3,234 1719.2,251 1720.0,294 1720.8,278 1721.7,239 1722.5,264 1723.3,267 1724.2,282 1725.0,294 1725.8,259 1726.7,245 1727.5,297 1728.3,238 1729.2,269 1730.0,276" fill="none" stroke="#d7301f" stroke-width="2.6" stroke-linejoin="miter" stroke-miterlimit="1.2"/>
<polyline points="1044.0,300 1044.8,296 1045.7,280 1046.5,278 1047.3,291 1048.2,321 1049.0,246 1049.8,265 1050.7,250 1051.5,278 1052.3,239 1053.2,252 1054.0,259 1054.8,230 1055.7,229 1056.5,241 1057.4,196 1058.2,206 1059.0,217 1059.9,223 1060.7,208 1061.5,178 1062.4,201 1063.2,232 1064.0,229 1064.9,214 1065.7,182 1066.5,214 1067.4,191 1068.2,180 1069.0,179 1069.9,225 1070.7,195 1071.5,212 1072.4,186 1073.2,210 1074.0,177 1074.9,190 1075.7,240 1076.5,201 1077.4,175 1078.2,186 1079.1,189 1079.9,211 1080.7,186 1081.6,150 1082.4,189 1083.2,197 1084.1,196 1084.9,234 1085.7,216 1086.6,218 1087.4,179 1088.2,224 1089.1,249 1089.9,226 1090.7,214 1091.6,216 1092.4,258 1093.2,195 1094.1,213 1094.9,222 1095.7,230 1096.6,200 1097.4,215 1098.2,205 1099.1,222 1099.9,224 1100.7,195 1101.6,216 1102.4,242 1103.3,193 1104.1,211 1104.9,234 1105.8,204 1106.6,230 1107.4,198 1108.3,238 1109.1,258 1109.9,258 1110.8,203 1111.6,217 1112.4,203 1113.3,198 1114.1,224 1114.9,154 1115.8,202 1116.6,175 1117.4,210 1118.3,184 1119.1,161 1119.9,183 1120.8,187 1121.6,176 1122.4,182 1123.3,161 1124.1,117 1125.0,182 1125.8,167 1126.6,145 1127.5,146 1128.3,164 1129.1,137 1130.0,146 1130.8,149 1131.6,173 1132.5,120 1133.3,177 1134.1,138 1135.0,128 1135.8,183 1136.6,157 1137.5,126 1138.3,147 1139.1,175 1140.0,176 1140.8,147 1141.6,161 1142.5,176 1143.3,150 1144.1,172 1145.0,161 1145.8,151 1146.6,142 1147.5,152 1148.3,158 1149.2,136 1150.0,149 1150.8,174 1151.7,164 1152.5,175 1153.3,189 1154.2,178 1155.0,204 1155.8,149 1156.7,192 1157.5,165 1158.3,207 1159.2,202 1160.0,120 1160.8,148 1161.7,179 1162.5,183 1163.3,178 1164.2,160 1165.0,167 1165.8,182 1166.7,167 1167.5,197 1168.3,128 1169.2,184 1170.0,149 1170.9,189 1171.7,167 1172.5,152 1173.4,179 1174.2,147 1175.0,146 1175.9,146 1176.7,175 1177.5,181 1178.4,197 1179.2,183 1180.0,198 1180.9,177 1181.7,173 1182.5,180 1183.4,199 1184.2,172 1185.0,176 1185.9,175 1186.7,185 1187.5,162 1188.4,203 1189.2,168 1190.0,180 1190.9,162 1191.7,183 1192.5,184 1193.4,166 1194.2,213 1195.1,174 1195.9,207 1196.7,186 1197.6,149 1198.4,154 1199.2,176 1200.1,168 1200.9,166 1201.7,151 1202.6,109 1203.4,148 1204.2,112 1205.1,164 1205.9,144 1206.7,147 1207.6,160 1208.4,173 1209.2,131 1210.1,131 1210.9,135 1211.7,119 1212.6,143 1213.4,200 1214.2,152 1215.1,192 1215.9,137 1216.8,160 1217.6,153 1218.4,153 1219.3,168 1220.1,199 1220.9,156 1221.8,145 1222.6,129 1223.4,166 1224.3,149 1225.1,175 1225.9,153 1226.8,185 1227.6,110 1228.4,143 1229.3,163 1230.1,146 1230.9,140 1231.8,155 1232.6,126 1233.4,155 1234.3,200 1235.1,170 1235.9,127 1236.8,130 1237.6,144 1238.5,176 1239.3,149 1240.1,140 1241.0,177 1241.8,174 1242.6,146 1243.5,121 1244.3,111 1245.1,134 1246.0,101 1246.8,164 1247.6,132 1248.5,162 1249.3,188 1250.1,159 1251.0,109 1251.8,142 1252.6,135 1253.5,101 1254.3,111 1255.1,131 1256.0,94 1256.8,156 1257.6,84 1258.5,112 1259.3,130 1260.1,130 1261.0,138 1261.8,144 1262.7,135 1263.5,162 1264.3,84 1265.2,132 1266.0,112 1266.8,136 1267.7,129 1268.5,105 1269.3,111 1270.2,134 1271.0,136 1271.8,121 1272.7,172 1273.5,181 1274.3,103 1275.2,125 1276.0,177 1276.8,144 1277.7,135 1278.5,122 1279.3,117 1280.2,127 1281.0,130 1281.8,160 1282.7,136 1283.5,145 1284.4,124 1285.2,146 1286.0,120 1286.9,148 1287.7,179 1288.5,167 1289.4,170 1290.2,164 1291.0,157 1291.9,149 1292.7,142 1293.5,164 1294.4,134 1295.2,184 1296.0,153 1296.9,131 1297.7,132 1298.5,138 1299.4,156 1300.2,135 1301.0,170 1301.9,123 1302.7,93 1303.5,132 1304.4,103 1305.2,143 1306.0,166 1306.9,159 1307.7,109 1308.6,123 1309.4,174 1310.2,152 1311.1,142 1311.9,170 1312.7,209 1313.6,180 1314.4,152 1315.2,158 1316.1,164 1316.9,133 1317.7,128 1318.6,164 1319.4,139 1320.2,155 1321.1,152 1321.9,202 1322.7,129 1323.6,141 1324.4,151 1325.2,159 1326.1,180 1326.9,157 1327.7,149 1328.6,132 1329.4,155 1330.3,178 1331.1,159 1331.9,126 1332.8,140 1333.6,156 1334.4,168 1335.3,135 1336.1,135 1336.9,98 1337.8,114 1338.6,170 1339.4,91 1340.3,130 1341.1,138 1341.9,123 1342.8,114 1343.6,128 1344.4,132 1345.3,140 1346.1,101 1346.9,134 1347.8,106 1348.6,115 1349.4,120 1350.3,123 1351.1,138 1351.9,114 1352.8,143 1353.6,138 1354.5,138 1355.3,142 1356.1,116 1357.0,129 1357.8,148 1358.6,95 1359.5,121 1360.3,107 1361.1,111 1362.0,77 1362.8,98 1363.6,112 1364.5,141 1365.3,149 1366.1,132 1367.0,124 1367.8,112 1368.6,135 1369.5,119 1370.3,135 1371.1,152 1372.0,110 1372.8,89 1373.6,104 1374.5,95 1375.3,107 1376.2,150 1377.0,125 1377.8,93 1378.7,144 1379.5,156 1380.3,129 1381.2,124 1382.0,124 1382.8,133 1383.7,149 1384.5,164 1385.3,154 1386.2,165 1387.0,172 1387.8,164 1388.7,113 1389.5,140 1390.3,143 1391.2,145 1392.0,168 1392.8,149 1393.7,130 1394.5,181 1395.3,156 1396.2,149 1397.0,174 1397.8,172 1398.7,167 1399.5,112 1400.4,145 1401.2,150 1402.0,141 1402.9,170 1403.7,192 1404.5,156 1405.4,146 1406.2,212 1407.0,158 1407.9,149 1408.7,188 1409.5,184 1410.4,164 1411.2,194 1412.0,164 1412.9,163 1413.7,184 1414.5,207 1415.4,172 1416.2,194 1417.0,184 1417.9,241 1418.7,171 1419.5,214 1420.4,188 1421.2,185 1422.1,196 1422.9,202 1423.7,212 1424.6,199 1425.4,174 1426.2,177 1427.1,190 1427.9,200 1428.7,213 1429.6,186 1430.4,205 1431.2,225 1432.1,189 1432.9,152 1433.7,159 1434.6,152 1435.4,224 1436.2,170 1437.1,209 1437.9,199 1438.7,216 1439.6,202 1440.4,171 1441.2,160 1442.1,156 1442.9,170 1443.7,151 1444.6,160 1445.4,191 1446.3,119 1447.1,157 1447.9,139 1448.8,149 1449.6,150 1450.4,126 1451.3,139 1452.1,99 1452.9,163 1453.8,122 1454.6,141 1455.4,134 1456.3,87 1457.1,110 1457.9,138 1458.8,163 1459.6,146 1460.4,140 1461.3,106 1462.1,160 1462.9,166 1463.8,142 1464.6,142 1465.4,109 1466.3,156 1467.1,185 1468.0,145 1468.8,160 1469.6,146 1470.5,115 1471.3,159 1472.1,107 1473.0,130 1473.8,149 1474.6,171 1475.5,156 1476.3,148 1477.1,123 1478.0,108 1478.8,133 1479.6,118 1480.5,101 1481.3,108 1482.1,125 1483.0,99 1483.8,108 1484.6,99 1485.5,133 1486.3,139 1487.1,172 1488.0,102 1488.8,120 1489.6,147 1490.5,127 1491.3,119 1492.2,162 1493.0,123 1493.8,98 1494.7,103 1495.5,144 1496.3,147 1497.2,113 1498.0,122 1498.8,152 1499.7,157 1500.5,132 1501.3,164 1502.2,159 1503.0,116 1503.8,151 1504.7,169 1505.5,148 1506.3,121 1507.2,151 1508.0,179 1508.8,200 1509.7,124 1510.5,227 1511.3,145 1512.2,189 1513.0,200 1513.9,197 1514.7,180 1515.5,144 1516.4,187 1517.2,166 1518.0,133 1518.9,245 1519.7,189 1520.5,219 1521.4,160 1522.2,195 1523.0,204 1523.9,197 1524.7,161 1525.5,137 1526.4,171 1527.2,127 1528.0,141 1528.9,189 1529.7,172 1530.5,185 1531.4,181 1532.2,215 1533.0,199 1533.9,175 1534.7,204 1535.5,162 1536.4,175 1537.2,195 1538.1,148 1538.9,172 1539.7,152 1540.6,185 1541.4,216 1542.2,160 1543.1,181 1543.9,149 1544.7,134 1545.6,138 1546.4,195 1547.2,216 1548.1,166 1548.9,143 1549.7,173 1550.6,151 1551.4,167 1552.2,161 1553.1,173 1553.9,185 1554.7,158 1555.6,165 1556.4,144 1557.2,155 1558.1,140 1558.9,174 1559.8,163 1560.6,196 1561.4,208 1562.3,167 1563.1,177 1563.9,175 1564.8,203 1565.6,220 1566.4,205 1567.3,187 1568.1,219 1568.9,151 1569.8,212 1570.6,172 1571.4,122 1572.3,241 1573.1,208 1573.9,149 1574.8,172 1575.6,167 1576.4,177 1577.3,132 1578.1,144 1578.9,171 1579.8,163 1580.6,176 1581.5,162 1582.3,212 1583.1,150 1584.0,167 1584.8,126 1585.6,137 1586.5,196 1587.3,140 1588.1,166 1589.0,155 1589.8,131 1590.6,153 1591.5,153 1592.3,150 1593.1,181 1594.0,180 1594.8,163 1595.6,154 1596.5,180 1597.3,182 1598.1,220 1599.0,263 1599.8,221 1600.6,202 1601.5,206 1602.3,189 1603.1,181 1604.0,181 1604.8,196 1605.7,190 1606.5,206 1607.3,177 1608.2,190 1609.0,167 1609.8,230 1610.7,210 1611.5,242 1612.3,219 1613.2,237 1614.0,195 1614.8,215 1615.7,253 1616.5,180 1617.3,230 1618.2,237 1619.0,209 1619.8,216 1620.7,232 1621.5,182 1622.3,201 1623.2,175 1624.0,196 1624.8,200 1625.7,206 1626.5,214 1627.4,230 1628.2,182 1629.0,250 1629.9,237 1630.7,227 1631.5,204 1632.4,202 1633.2,224 1634.0,225 1634.9,175 1635.7,224 1636.5,253 1637.4,153 1638.2,210 1639.0,197 1639.9,188 1640.7,215 1641.5,147 1642.4,179 1643.2,202 1644.0,165 1644.9,157 1645.7,167 1646.5,144 1647.4,200 1648.2,151 1649.0,197 1649.9,161 1650.7,199 1651.6,169 1652.4,112 1653.2,163 1654.1,141 1654.9,159 1655.7,193 1656.6,143 1657.4,139 1658.2,199 1659.1,173 1659.9,205 1660.7,179 1661.6,151 1662.4,166 1663.2,186 1664.1,184 1664.9,177 1665.7,187 1666.6,187 1667.4,175 1668.2,220 1669.1,184 1669.9,154 1670.7,164 1671.6,186 1672.4,183 1673.3,163 1674.1,151 1674.9,161 1675.8,126 1676.6,151 1677.4,195 1678.3,167 1679.1,189 1679.9,211 1680.8,192 1681.6,180 1682.4,233 1683.3,203 1684.1,182 1684.9,215 1685.8,202 1686.6,176 1687.4,194 1688.3,199 1689.1,147 1689.9,183 1690.8,181 1691.6,184 1692.4,162 1693.3,198 1694.1,193 1694.9,202 1695.8,173 1696.6,208 1697.5,172 1698.3,189 1699.1,212 1700.0,171 1700.8,171 1701.6,207 1702.5,183 1703.3,190 1704.1,212 1705.0,227 1705.8,147 1706.6,175 1707.5,169 1708.3,164 1709.1,177 1710.0,176 1710.8,192 1711.6,176 1712.5,201 1713.3,211 1714.1,188 1715.0,211 1715.8,243 1716.6,222 1717.5,201 1718.3,214 1719.2,195 1720.0,211 1720.8,223 1721.7,187 1722.5,203 1723.3,224 1724.2,202 1725.0,216 1725.8,183 1726.7,179 1727.5,188 1728.3,248 1729.2,192 1730.0,194" fill="none" stroke="#52a540" stroke-width="2.6" stroke-linejoin="miter" stroke-miterlimit="1.2"/>
<polyline points="1044.0,300 1044.8,280 1045.7,283 1046.5,280 1047.3,262 1048.2,252 1049.0,270 1049.8,306 1050.7,300 1051.5,274 1052.3,295 1053.2,280 1054.0,299 1054.8,276 1055.7,316 1056.5,268 1057.4,260 1058.2,294 1059.0,311 1059.9,236 1060.7,273 1061.5,285 1062.4,316 1063.2,230 1064.0,284 1064.9,243 1065.7,250 1066.5,278 1067.4,247 1068.2,228 1069.0,245 1069.9,229 1070.7,243 1071.5,230 1072.4,230 1073.2,245 1074.0,258 1074.9,243 1075.7,238 1076.5,237 1077.4,240 1078.2,213 1079.1,186 1079.9,195 1080.7,202 1081.6,213 1082.4,243 1083.2,226 1084.1,199 1084.9,189 1085.7,209 1086.6,209 1087.4,187 1088.2,172 1089.1,216 1089.9,231 1090.7,231 1091.6,210 1092.4,231 1093.2,230 1094.1,211 1094.9,224 1095.7,218 1096.6,248 1097.4,224 1098.2,267 1099.1,251 1099.9,236 1100.7,239 1101.6,265 1102.4,237 1103.3,249 1104.1,237 1104.9,286 1105.8,244 1106.6,247 1107.4,205 1108.3,266 1109.1,247 1109.9,255 1110.8,230 1111.6,243 1112.4,293 1113.3,243 1114.1,272 1114.9,286 1115.8,265 1116.6,257 1117.4,283 1118.3,243 1119.1,265 1119.9,239 1120.8,221 1121.6,250 1122.4,272 1123.3,244 1124.1,240 1125.0,249 1125.8,241 1126.6,260 1127.5,236 1128.3,268 1129.1,259 1130.0,276 1130.8,244 1131.6,275 1132.5,229 1133.3,278 1134.1,260 1135.0,232 1135.8,269 1136.6,286 1137.5,299 1138.3,264 1139.1,255 1140.0,279 1140.8,221 1141.6,248 1142.5,219 1143.3,246 1144.1,240 1145.0,228 1145.8,245 1146.6,218 1147.5,227 1148.3,228 1149.2,209 1150.0,149 1150.8,198 1151.7,202 1152.5,183 1153.3,201 1154.2,164 1155.0,209 1155.8,212 1156.7,213 1157.5,193 1158.3,214 1159.2,187 1160.0,194 1160.8,213 1161.7,195 1162.5,203 1163.3,194 1164.2,213 1165.0,180 1165.8,176 1166.7,173 1167.5,146 1168.3,192 1169.2,149 1170.0,177 1170.9,230 1171.7,198 1172.5,148 1173.4,185 1174.2,229 1175.0,192 1175.9,228 1176.7,180 1177.5,153 1178.4,208 1179.2,190 1180.0,214 1180.9,178 1181.7,174 1182.5,185 1183.4,166 1184.2,214 1185.0,228 1185.9,201 1186.7,223 1187.5,185 1188.4,196 1189.2,146 1190.0,208 1190.9,172 1191.7,198 1192.5,202 1193.4,187 1194.2,180 1195.1,154 1195.9,195 1196.7,190 1197.6,192 1198.4,174 1199.2,139 1200.1,140 1200.9,178 1201.7,198 1202.6,163 1203.4,172 1204.2,189 1205.1,190 1205.9,184 1206.7,166 1207.6,173 1208.4,161 1209.2,170 1210.1,193 1210.9,189 1211.7,170 1212.6,194 1213.4,161 1214.2,163 1215.1,150 1215.9,181 1216.8,182 1217.6,169 1218.4,170 1219.3,193 1220.1,188 1220.9,161 1221.8,216 1222.6,215 1223.4,188 1224.3,198 1225.1,198 1225.9,183 1226.8,189 1227.6,155 1228.4,176 1229.3,189 1230.1,163 1230.9,191 1231.8,168 1232.6,189 1233.4,197 1234.3,198 1235.1,203 1235.9,191 1236.8,208 1237.6,162 1238.5,228 1239.3,209 1240.1,222 1241.0,160 1241.8,237 1242.6,212 1243.5,230 1244.3,227 1245.1,231 1246.0,221 1246.8,181 1247.6,260 1248.5,262 1249.3,209 1250.1,250 1251.0,250 1251.8,232 1252.6,220 1253.5,226 1254.3,205 1255.1,216 1256.0,216 1256.8,206 1257.6,213 1258.5,233 1259.3,234 1260.1,204 1261.0,229 1261.8,222 1262.7,191 1263.5,246 1264.3,197 1265.2,242 1266.0,171 1266.8,210 1267.7,236 1268.5,235 1269.3,232 1270.2,224 1271.0,265 1271.8,223 1272.7,228 1273.5,215 1274.3,216 1275.2,269 1276.0,266 1276.8,198 1277.7,235 1278.5,262 1279.3,235 1280.2,256 1281.0,212 1281.8,250 1282.7,252 1283.5,263 1284.4,244 1285.2,255 1286.0,304 1286.9,238 1287.7,253 1288.5,255 1289.4,254 1290.2,307 1291.0,305 1291.9,253 1292.7,277 1293.5,250 1294.4,273 1295.2,267 1296.0,297 1296.9,272 1297.7,243 1298.5,237 1299.4,245 1300.2,315 1301.0,251 1301.9,237 1302.7,256 1303.5,258 1304.4,284 1305.2,262 1306.0,311 1306.9,274 1307.7,279 1308.6,303 1309.4,273 1310.2,275 1311.1,289 1311.9,260 1312.7,287 1313.6,306 1314.4,278 1315.2,273 1316.1,306 1316.9,298 1317.7,294 1318.6,273 1319.4,337 1320.2,285 1321.1,284 1321.9,283 1322.7,271 1323.6,294 1324.4,347 1325.2,276 1326.1,356 1326.9,285 1327.7,274 1328.6,322 1329.4,332 1330.3,288 1331.1,319 1331.9,286 1332.8,288 1333.6,289 1334.4,313 1335.3,290 1336.1,304 1336.9,294 1337.8,299 1338.6,297 1339.4,282 1340.3,286 1341.1,269 1341.9,293 1342.8,291 1343.6,280 1344.4,272 1345.3,271 1346.1,274 1346.9,287 1347.8,243 1348.6,254 1349.4,286 1350.3,299 1351.1,256 1351.9,287 1352.8,288 1353.6,264 1354.5,314 1355.3,269 1356.1,278 1357.0,250 1357.8,250 1358.6,281 1359.5,293 1360.3,287 1361.1,288 1362.0,281 1362.8,299 1363.6,258 1364.5,306 1365.3,266 1366.1,288 1367.0,304 1367.8,253 1368.6,302 1369.5,281 1370.3,259 1371.1,308 1372.0,237 1372.8,234 1373.6,274 1374.5,285 1375.3,267 1376.2,288 1377.0,222 1377.8,282 1378.7,270 1379.5,243 1380.3,241 1381.2,261 1382.0,265 1382.8,247 1383.7,266 1384.5,270 1385.3,289 1386.2,259 1387.0,301 1387.8,282 1388.7,264 1389.5,265 1390.3,257 1391.2,241 1392.0,242 1392.8,295 1393.7,236 1394.5,298 1395.3,254 1396.2,300 1397.0,248 1397.8,275 1398.7,270 1399.5,284 1400.4,265 1401.2,273 1402.0,299 1402.9,236 1403.7,290 1404.5,243 1405.4,281 1406.2,254 1407.0,299 1407.9,264 1408.7,256 1409.5,288 1410.4,249 1411.2,247 1412.0,271 1412.9,279 1413.7,265 1414.5,209 1415.4,260 1416.2,271 1417.0,276 1417.9,274 1418.7,279 1419.5,268 1420.4,294 1421.2,258 1422.1,243 1422.9,228 1423.7,244 1424.6,264 1425.4,252 1426.2,277 1427.1,264 1427.9,253 1428.7,293 1429.6,252 1430.4,282 1431.2,217 1432.1,237 1432.9,245 1433.7,234 1434.6,253 1435.4,261 1436.2,269 1437.1,247 1437.9,250 1438.7,251 1439.6,297 1440.4,267 1441.2,292 1442.1,260 1442.9,248 1443.7,282 1444.6,301 1445.4,252 1446.3,273 1447.1,301 1447.9,277 1448.8,274 1449.6,295 1450.4,291 1451.3,290 1452.1,285 1452.9,295 1453.8,282 1454.6,317 1455.4,232 1456.3,296 1457.1,313 1457.9,275 1458.8,306 1459.6,283 1460.4,305 1461.3,323 1462.1,298 1462.9,347 1463.8,307 1464.6,253 1465.4,287 1466.3,300 1467.1,311 1468.0,307 1468.8,315 1469.6,309 1470.5,336 1471.3,320 1472.1,312 1473.0,346 1473.8,288 1474.6,281 1475.5,302 1476.3,263 1477.1,325 1478.0,301 1478.8,357 1479.6,286 1480.5,285 1481.3,320 1482.1,314 1483.0,320 1483.8,295 1484.6,304 1485.5,324 1486.3,307 1487.1,320 1488.0,328 1488.8,305 1489.6,328 1490.5,274 1491.3,337 1492.2,337 1493.0,307 1493.8,295 1494.7,294 1495.5,304 1496.3,305 1497.2,293 1498.0,313 1498.8,341 1499.7,282 1500.5,306 1501.3,279 1502.2,277 1503.0,301 1503.8,259 1504.7,292 1505.5,313 1506.3,318 1507.2,313 1508.0,307 1508.8,321 1509.7,307 1510.5,306 1511.3,317 1512.2,331 1513.0,322 1513.9,324 1514.7,266 1515.5,304 1516.4,294 1517.2,282 1518.0,278 1518.9,315 1519.7,304 1520.5,301 1521.4,282 1522.2,281 1523.0,295 1523.9,314 1524.7,346 1525.5,312 1526.4,263 1527.2,310 1528.0,301 1528.9,272 1529.7,265 1530.5,306 1531.4,310 1532.2,307 1533.0,332 1533.9,297 1534.7,301 1535.5,284 1536.4,328 1537.2,302 1538.1,316 1538.9,255 1539.7,259 1540.6,296 1541.4,295 1542.2,279 1543.1,279 1543.9,299 1544.7,270 1545.6,292 1546.4,272 1547.2,276 1548.1,306 1548.9,256 1549.7,274 1550.6,247 1551.4,315 1552.2,319 1553.1,371 1553.9,299 1554.7,306 1555.6,334 1556.4,322 1557.2,314 1558.1,331 1558.9,250 1559.8,321 1560.6,295 1561.4,297 1562.3,302 1563.1,326 1563.9,298 1564.8,317 1565.6,341 1566.4,284 1567.3,308 1568.1,295 1568.9,271 1569.8,314 1570.6,332 1571.4,294 1572.3,315 1573.1,299 1573.9,282 1574.8,310 1575.6,254 1576.4,337 1577.3,291 1578.1,341 1578.9,319 1579.8,302 1580.6,272 1581.5,277 1582.3,327 1583.1,302 1584.0,328 1584.8,276 1585.6,335 1586.5,303 1587.3,317 1588.1,284 1589.0,286 1589.8,316 1590.6,309 1591.5,277 1592.3,300 1593.1,261 1594.0,330 1594.8,302 1595.6,288 1596.5,283 1597.3,273 1598.1,288 1599.0,231 1599.8,282 1600.6,314 1601.5,235 1602.3,293 1603.1,284 1604.0,291 1604.8,267 1605.7,312 1606.5,279 1607.3,323 1608.2,319 1609.0,295 1609.8,299 1610.7,248 1611.5,276 1612.3,221 1613.2,300 1614.0,311 1614.8,252 1615.7,300 1616.5,276 1617.3,231 1618.2,271 1619.0,279 1619.8,302 1620.7,284 1621.5,306 1622.3,332 1623.2,306 1624.0,253 1624.8,283 1625.7,298 1626.5,324 1627.4,280 1628.2,294 1629.0,293 1629.9,317 1630.7,285 1631.5,292 1632.4,246 1633.2,263 1634.0,235 1634.9,264 1635.7,283 1636.5,288 1637.4,284 1638.2,276 1639.0,330 1639.9,262 1640.7,280 1641.5,310 1642.4,278 1643.2,266 1644.0,292 1644.9,259 1645.7,255 1646.5,259 1647.4,311 1648.2,249 1649.0,259 1649.9,311 1650.7,280 1651.6,263 1652.4,221 1653.2,268 1654.1,269 1654.9,297 1655.7,257 1656.6,263 1657.4,288 1658.2,255 1659.1,301 1659.9,271 1660.7,286 1661.6,256 1662.4,305 1663.2,269 1664.1,304 1664.9,257 1665.7,279 1666.6,256 1667.4,298 1668.2,315 1669.1,268 1669.9,318 1670.7,287 1671.6,268 1672.4,293 1673.3,267 1674.1,282 1674.9,268 1675.8,252 1676.6,314 1677.4,292 1678.3,285 1679.1,303 1679.9,276 1680.8,288 1681.6,305 1682.4,327 1683.3,301 1684.1,312 1684.9,258 1685.8,287 1686.6,304 1687.4,313 1688.3,269 1689.1,325 1689.9,353 1690.8,299 1691.6,256 1692.4,294 1693.3,298 1694.1,263 1694.9,309 1695.8,324 1696.6,266 1697.5,258 1698.3,285 1699.1,291 1700.0,240 1700.8,257 1701.6,271 1702.5,259 1703.3,282 1704.1,310 1705.0,270 1705.8,305 1706.6,284 1707.5,279 1708.3,246 1709.1,269 1710.0,282 1710.8,266 1711.6,300 1712.5,308 1713.3,283 1714.1,266 1715.0,287 1715.8,312 1716.6,304 1717.5,288 1718.3,290 1719.2,312 1720.0,322 1720.8,321 1721.7,274 1722.5,298 1723.3,307 1724.2,266 1725.0,291 1725.8,269 1726.7,299 1727.5,310 1728.3,262 1729.2,325 1730.0,287" fill="none" stroke="#3a2f92" stroke-width="2.6" stroke-linejoin="miter" stroke-miterlimit="1.2"/>
<line x1="1040.8" y1="8.0" x2="1040.8" y2="526.9" stroke="#000" stroke-width="4.6"/>
<line x1="1038.5" y1="524.6" x2="1736" y2="524.6" stroke="#000" stroke-width="4.6"/>
<line x1="1023.8" y1="521.0" x2="1040.8" y2="521.0" stroke="#000" stroke-width="4.6"/>
<line x1="1031.3" y1="502.8" x2="1040.8" y2="502.8" stroke="#000" stroke-width="4.6"/>
<line x1="1031.3" y1="484.5" x2="1040.8" y2="484.5" stroke="#000" stroke-width="4.6"/>
<line x1="1031.3" y1="466.3" x2="1040.8" y2="466.3" stroke="#000" stroke-width="4.6"/>
<line x1="1023.8" y1="448.0" x2="1040.8" y2="448.0" stroke="#000" stroke-width="4.6"/>
<line x1="1031.3" y1="429.8" x2="1040.8" y2="429.8" stroke="#000" stroke-width="4.6"/>
<line x1="1031.3" y1="411.5" x2="1040.8" y2="411.5" stroke="#000" stroke-width="4.6"/>
<line x1="1031.3" y1="393.3" x2="1040.8" y2="393.3" stroke="#000" stroke-width="4.6"/>
<line x1="1023.8" y1="375.1" x2="1040.8" y2="375.1" stroke="#000" stroke-width="4.6"/>
<line x1="1031.3" y1="356.8" x2="1040.8" y2="356.8" stroke="#000" stroke-width="4.6"/>
<line x1="1031.3" y1="338.6" x2="1040.8" y2="338.6" stroke="#000" stroke-width="4.6"/>
<line x1="1031.3" y1="320.3" x2="1040.8" y2="320.3" stroke="#000" stroke-width="4.6"/>
<line x1="1023.8" y1="302.1" x2="1040.8" y2="302.1" stroke="#000" stroke-width="4.6"/>
<line x1="1031.3" y1="283.8" x2="1040.8" y2="283.8" stroke="#000" stroke-width="4.6"/>
<line x1="1031.3" y1="265.6" x2="1040.8" y2="265.6" stroke="#000" stroke-width="4.6"/>
<line x1="1031.3" y1="247.4" x2="1040.8" y2="247.4" stroke="#000" stroke-width="4.6"/>
<line x1="1023.8" y1="229.1" x2="1040.8" y2="229.1" stroke="#000" stroke-width="4.6"/>
<line x1="1031.3" y1="210.9" x2="1040.8" y2="210.9" stroke="#000" stroke-width="4.6"/>
<line x1="1031.3" y1="192.6" x2="1040.8" y2="192.6" stroke="#000" stroke-width="4.6"/>
<line x1="1031.3" y1="174.4" x2="1040.8" y2="174.4" stroke="#000" stroke-width="4.6"/>
<line x1="1023.8" y1="156.1" x2="1040.8" y2="156.1" stroke="#000" stroke-width="4.6"/>
<line x1="1031.3" y1="137.9" x2="1040.8" y2="137.9" stroke="#000" stroke-width="4.6"/>
<line x1="1031.3" y1="119.7" x2="1040.8" y2="119.7" stroke="#000" stroke-width="4.6"/>
<line x1="1031.3" y1="101.4" x2="1040.8" y2="101.4" stroke="#000" stroke-width="4.6"/>
<line x1="1023.8" y1="83.2" x2="1040.8" y2="83.2" stroke="#000" stroke-width="4.6"/>
<line x1="1031.3" y1="64.9" x2="1040.8" y2="64.9" stroke="#000" stroke-width="4.6"/>
<line x1="1031.3" y1="46.7" x2="1040.8" y2="46.7" stroke="#000" stroke-width="4.6"/>
<line x1="1031.3" y1="28.4" x2="1040.8" y2="28.4" stroke="#000" stroke-width="4.6"/>
<line x1="1023.8" y1="10.2" x2="1040.8" y2="10.2" stroke="#000" stroke-width="4.6"/>
<line x1="1044.0" y1="524.6" x2="1044.0" y2="542.1" stroke="#000" stroke-width="4.6"/>
<line x1="1078.5" y1="524.6" x2="1078.5" y2="535.1" stroke="#000" stroke-width="4.6"/>
<line x1="1112.9" y1="524.6" x2="1112.9" y2="535.1" stroke="#000" stroke-width="4.6"/>
<line x1="1147.3" y1="524.6" x2="1147.3" y2="535.1" stroke="#000" stroke-width="4.6"/>
<line x1="1181.8" y1="524.6" x2="1181.8" y2="542.1" stroke="#000" stroke-width="4.6"/>
<line x1="1216.2" y1="524.6" x2="1216.2" y2="535.1" stroke="#000" stroke-width="4.6"/>
<line x1="1250.7" y1="524.6" x2="1250.7" y2="535.1" stroke="#000" stroke-width="4.6"/>
<line x1="1285.2" y1="524.6" x2="1285.2" y2="535.1" stroke="#000" stroke-width="4.6"/>
<line x1="1319.6" y1="524.6" x2="1319.6" y2="542.1" stroke="#000" stroke-width="4.6"/>
<line x1="1354.0" y1="524.6" x2="1354.0" y2="535.1" stroke="#000" stroke-width="4.6"/>
<line x1="1388.5" y1="524.6" x2="1388.5" y2="535.1" stroke="#000" stroke-width="4.6"/>
<line x1="1423.0" y1="524.6" x2="1423.0" y2="535.1" stroke="#000" stroke-width="4.6"/>
<line x1="1457.4" y1="524.6" x2="1457.4" y2="542.1" stroke="#000" stroke-width="4.6"/>
<line x1="1491.8" y1="524.6" x2="1491.8" y2="535.1" stroke="#000" stroke-width="4.6"/>
<line x1="1526.3" y1="524.6" x2="1526.3" y2="535.1" stroke="#000" stroke-width="4.6"/>
<line x1="1560.8" y1="524.6" x2="1560.8" y2="535.1" stroke="#000" stroke-width="4.6"/>
<line x1="1595.2" y1="524.6" x2="1595.2" y2="542.1" stroke="#000" stroke-width="4.6"/>
<line x1="1629.7" y1="524.6" x2="1629.7" y2="535.1" stroke="#000" stroke-width="4.6"/>
<line x1="1664.1" y1="524.6" x2="1664.1" y2="535.1" stroke="#000" stroke-width="4.6"/>
<line x1="1698.5" y1="524.6" x2="1698.5" y2="535.1" stroke="#000" stroke-width="4.6"/>
<line x1="1733.0" y1="524.6" x2="1733.0" y2="542.1" stroke="#000" stroke-width="4.6"/>
</g>
<g id="plotC">
<polyline points="122.0,1085 122.8,1009 123.7,984 124.5,952 125.3,974 126.2,1000 127.0,948 127.8,960 128.7,951 129.5,951 130.3,950 131.2,996 132.0,956 132.8,1000 133.7,956 134.5,981 135.4,964 136.2,963 137.0,970 137.9,993 138.7,972 139.5,976 140.4,958 141.2,976 142.0,972 142.9,977 143.7,965 144.5,953 145.4,960 146.2,955 147.0,977 147.9,950 148.7,971 149.5,965 150.4,980 151.2,970 152.0,988 152.9,981 153.7,979 154.5,971 155.4,986 156.2,985 157.0,971 157.9,969 158.7,941 159.6,994 160.4,992 161.2,975 162.1,955 162.9,984 163.7,993 164.6,978 165.4,966 166.2,995 167.1,987 167.9,990 168.7,1011 169.6,974 170.4,979 171.2,1009 172.1,992 172.9,1022 173.7,929 174.6,959 175.4,994 176.2,988 177.1,956 177.9,960 178.7,962 179.6,990 180.4,955 181.2,978 182.1,960 182.9,920 183.8,973 184.6,1002 185.4,970 186.3,980 187.1,968 187.9,968 188.8,947 189.6,965 190.4,936 191.3,960 192.1,970 192.9,978 193.8,954 194.6,963 195.4,949 196.3,979 197.1,945 197.9,1018 198.8,991 199.6,977 200.4,1011 201.3,962 202.1,992 202.9,970 203.8,976 204.6,975 205.4,968 206.3,971 207.1,982 208.0,978 208.8,1011 209.6,989 210.5,942 211.3,972 212.1,975 213.0,985 213.8,989 214.6,963 215.5,989 216.3,961 217.1,983 218.0,964 218.8,998 219.6,984 220.5,995 221.3,960 222.1,963 223.0,968 223.8,964 224.6,956 225.5,973 226.3,1013 227.1,979 228.0,1005 228.8,960 229.7,1020 230.5,1026 231.3,993 232.2,984 233.0,1009 233.8,975 234.7,1009 235.5,977 236.3,1031 237.2,1001 238.0,987 238.8,969 239.7,1036 240.5,1011 241.3,990 242.2,1019 243.0,980 243.8,1023 244.7,1028 245.5,1005 246.3,1033 247.2,1033 248.0,994 248.8,991 249.7,1019 250.5,1024 251.3,1004 252.2,964 253.0,986 253.9,1031 254.7,1003 255.5,991 256.4,1014 257.2,981 258.0,1053 258.9,980 259.7,1011 260.5,1026 261.4,1029 262.2,991 263.0,1006 263.9,1031 264.7,1014 265.5,1024 266.4,1009 267.2,1016 268.0,999 268.9,990 269.7,1007 270.5,992 271.4,1031 272.2,1008 273.0,1008 273.9,976 274.7,976 275.5,1011 276.4,1007 277.2,1007 278.1,1025 278.9,987 279.7,987 280.6,985 281.4,1042 282.2,1010 283.1,1000 283.9,1039 284.7,1031 285.6,1034 286.4,1033 287.2,1013 288.1,1051 288.9,1031 289.7,998 290.6,998 291.4,1010 292.2,1034 293.1,1010 293.9,1012 294.7,1004 295.6,1018 296.4,1039 297.2,1012 298.1,1021 298.9,1043 299.7,990 300.6,1015 301.4,1014 302.3,1008 303.1,1027 303.9,1049 304.8,1010 305.6,1004 306.4,1019 307.3,992 308.1,1006 308.9,1019 309.8,1007 310.6,991 311.4,1021 312.3,974 313.1,984 313.9,980 314.8,998 315.6,1004 316.4,991 317.3,1017 318.1,993 318.9,996 319.8,995 320.6,991 321.4,996 322.3,975 323.1,959 323.9,989 324.8,996 325.6,998 326.5,979 327.3,974 328.1,1034 329.0,1016 329.8,1013 330.6,1004 331.5,988 332.3,992 333.1,1003 334.0,1002 334.8,973 335.6,986 336.5,990 337.3,986 338.1,1015 339.0,1014 339.8,1016 340.6,1002 341.5,1038 342.3,1016 343.1,975 344.0,1042 344.8,1024 345.6,1006 346.5,1040 347.3,972 348.1,1002 349.0,1018 349.8,987 350.7,1038 351.5,1030 352.3,998 353.2,989 354.0,1009 354.8,988 355.7,954 356.5,972 357.3,956 358.2,974 359.0,971 359.8,993 360.7,963 361.5,946 362.3,947 363.2,990 364.0,987 364.8,952 365.7,934 366.5,933 367.3,984 368.2,970 369.0,1007 369.8,969 370.7,974 371.5,976 372.3,993 373.2,1008 374.0,963 374.9,995 375.7,1008 376.5,973 377.4,974 378.2,1000 379.0,971 379.9,969 380.7,960 381.5,962 382.4,967 383.2,975 384.0,968 384.9,976 385.7,955 386.5,1013 387.4,965 388.2,993 389.0,976 389.9,996 390.7,958 391.5,978 392.4,972 393.2,988 394.0,979 394.9,961 395.7,951 396.6,979 397.4,969 398.2,979 399.1,969 399.9,960 400.7,968 401.6,932 402.4,965 403.2,960 404.1,956 404.9,981 405.7,958 406.6,959 407.4,960 408.2,952 409.1,983 409.9,959 410.7,984 411.6,978 412.4,956 413.2,966 414.1,977 414.9,949 415.7,965 416.6,961 417.4,957 418.2,969 419.1,940 419.9,951 420.8,957 421.6,912 422.4,959 423.3,965 424.1,974 424.9,949 425.8,947 426.6,980 427.4,949 428.3,976 429.1,970 429.9,953 430.8,958 431.6,958 432.4,982 433.3,971 434.1,936 434.9,1000 435.8,992 436.6,992 437.4,960 438.3,968 439.1,969 439.9,1007 440.8,985 441.6,988 442.4,979 443.3,961 444.1,1003 445.0,1031 445.8,992 446.6,972 447.5,975 448.3,975 449.1,964 450.0,982 450.8,976 451.6,956 452.5,981 453.3,966 454.1,952 455.0,972 455.8,1007 456.6,1001 457.5,994 458.3,994 459.1,996 460.0,983 460.8,993 461.6,1007 462.5,961 463.3,983 464.1,949 465.0,994 465.8,1005 466.6,969 467.5,1000 468.3,949 469.2,994 470.0,968 470.8,976 471.7,969 472.5,978 473.3,964 474.2,984 475.0,966 475.8,966 476.7,966 477.5,976 478.3,964 479.2,975 480.0,963 480.8,983 481.7,972 482.5,977 483.3,982 484.2,958 485.0,1002 485.8,1031 486.7,1004 487.5,974 488.3,1021 489.2,1008 490.0,1008 490.8,1008 491.7,1012 492.5,1007 493.4,1019 494.2,1016 495.0,1005 495.9,1026 496.7,1029 497.5,1022 498.4,995 499.2,1012 500.0,1010 500.9,1011 501.7,1000 502.5,1032 503.4,1024 504.2,1027 505.0,990 505.9,985 506.7,1005 507.5,1013 508.4,1029 509.2,997 510.0,1030 510.9,1004 511.7,996 512.5,1016 513.4,1029 514.2,1003 515.0,1011 515.9,1012 516.7,1022 517.6,996 518.4,1004 519.2,1013 520.1,1008 520.9,1012 521.7,988 522.6,969 523.4,994 524.2,989 525.1,1027 525.9,1016 526.7,1000 527.6,987 528.4,973 529.2,987 530.1,999 530.9,990 531.7,974 532.6,986 533.4,968 534.2,985 535.1,1016 535.9,998 536.7,941 537.6,1003 538.4,985 539.2,994 540.1,1001 540.9,994 541.8,950 542.6,997 543.4,956 544.3,958 545.1,974 545.9,982 546.8,973 547.6,958 548.4,994 549.3,990 550.1,1000 550.9,1010 551.8,966 552.6,967 553.4,983 554.3,974 555.1,1024 555.9,1002 556.8,1001 557.6,1005 558.4,1017 559.3,986 560.1,1000 560.9,984 561.8,1007 562.6,983 563.4,979 564.3,982 565.1,1005 566.0,978 566.8,993 567.6,981 568.5,997 569.3,979 570.1,971 571.0,980 571.8,987 572.6,977 573.5,991 574.3,1006 575.1,950 576.0,1010 576.8,994 577.6,984 578.5,1003 579.3,951 580.1,984 581.0,992 581.8,999 582.6,999 583.5,1027 584.3,1012 585.1,993 586.0,974 586.8,983 587.7,988 588.5,997 589.3,998 590.2,1000 591.0,983 591.8,984 592.7,1000 593.5,996 594.3,990 595.2,990 596.0,1008 596.8,993 597.7,1000 598.5,1029 599.3,996 600.2,997 601.0,1008 601.8,1023 602.7,1005 603.5,969 604.3,1036 605.2,977 606.0,966 606.8,974 607.7,1007 608.5,977 609.3,944 610.2,1008 611.0,954 611.9,1011 612.7,929 613.5,971 614.4,978 615.2,969 616.0,979 616.9,995 617.7,982 618.5,996 619.4,990 620.2,988 621.0,973 621.9,980 622.7,1004 623.5,1005 624.4,968 625.2,975 626.0,987 626.9,984 627.7,979 628.5,956 629.4,1002 630.2,985 631.0,1034 631.9,1029 632.7,1022 633.5,989 634.4,995 635.2,1023 636.1,992 636.9,991 637.7,1001 638.6,1005 639.4,986 640.2,998 641.1,968 641.9,990 642.7,988 643.6,1018 644.4,996 645.2,948 646.1,1018 646.9,1038 647.7,1009 648.6,1004 649.4,1020 650.2,987 651.1,989 651.9,999 652.7,933 653.6,986 654.4,1004 655.2,999 656.1,967 656.9,994 657.7,990 658.6,988 659.4,1017 660.3,984 661.1,987 661.9,1004 662.8,978 663.6,999 664.4,981 665.3,1009 666.1,1009 666.9,1017 667.8,1000 668.6,1000 669.4,981 670.3,993 671.1,990 671.9,978 672.8,993 673.6,997 674.4,991 675.3,1010 676.1,982 676.9,974 677.8,947 678.6,1007 679.4,997 680.3,1005 681.1,987 681.9,985 682.8,986 683.6,974 684.5,1005 685.3,992 686.1,1017 687.0,996 687.8,988 688.6,1009 689.5,1007 690.3,971 691.1,960 692.0,970 692.8,1003 693.6,995 694.5,1010 695.3,986 696.1,1002 697.0,985 697.8,1028 698.6,999 699.5,1014 700.3,1001 701.1,981 702.0,1013 702.8,967 703.6,1007 704.5,990 705.3,993 706.1,972 707.0,991 707.8,978 708.7,979 709.5,1020 710.3,1015 711.2,995 712.0,993 712.8,994 713.7,1001 714.5,1006 715.3,1003 716.2,967 717.0,995 717.8,999 718.7,1014 719.5,994 720.3,992 721.2,997 722.0,986 722.8,1027 723.7,982 724.5,973 725.3,1002 726.2,988 727.0,988 727.8,978 728.7,976 729.5,973 730.3,986 731.2,990 732.0,985 732.9,962 733.7,960 734.5,998 735.4,987 736.2,986 737.0,1018 737.9,1002 738.7,963 739.5,980 740.4,1004 741.2,998 742.0,991 742.9,1016 743.7,967 744.5,1004 745.4,982 746.2,1012 747.0,986 747.9,959 748.7,997 749.5,945 750.4,1003 751.2,989 752.0,1003 752.9,994 753.7,990 754.6,1016 755.4,1006 756.2,968 757.1,983 757.9,1016 758.7,969 759.6,970 760.4,965 761.2,954 762.1,986 762.9,975 763.7,995 764.6,976 765.4,999 766.2,969 767.1,985 767.9,992 768.7,980 769.6,971 770.4,947 771.2,951 772.1,977 772.9,963 773.7,979 774.6,953 775.4,971 776.2,967 777.1,978 777.9,967 778.8,987 779.6,950 780.4,951 781.3,976 782.1,969 782.9,973 783.8,944 784.6,974 785.4,943 786.3,992 787.1,963 787.9,971 788.8,984 789.6,978 790.4,953 791.3,962 792.1,997 792.9,952 793.8,1001 794.6,966 795.4,956 796.3,996 797.1,980 797.9,975 798.8,996 799.6,982 800.4,976 801.3,987 802.1,982 803.0,967 803.8,996 804.6,982 805.5,1002 806.3,1032 807.1,950 808.0,985 808.8,986 809.6,966 810.5,992 811.3,939 812.1,954 813.0,991 813.8,960 814.6,968 815.5,980 816.3,957 817.1,970 818.0,990 818.8,979 819.6,971 820.5,996 821.3,973 822.1,997 823.0,986 823.8,962 824.6,970 825.5,992 826.3,965 827.2,994 828.0,1004 828.8,974 829.7,954 830.5,1006 831.3,1013 832.2,984 833.0,1022 833.8,1004 834.7,980 835.5,993 836.3,1005 837.2,936 838.0,991" fill="none" stroke="#2a2a2a" stroke-width="2.6" stroke-linejoin="miter" stroke-miterlimit="1.2"/>
<polyline points="122.0,1070 122.8,992 123.7,953 124.5,943 125.3,929 126.2,946 127.0,944 127.8,956 128.7,915 129.5,959 130.3,923 131.2,936 132.0,940 132.8,942 133.7,924 134.5,900 135.4,941 136.2,943 137.0,944 137.9,948 138.7,953 139.5,938 140.4,915 141.2,940 142.0,910 142.9,919 143.7,923 144.5,946 145.4,926 146.2,928 147.0,920 147.9,928 148.7,892 149.5,883 150.4,949 151.2,948 152.0,937 152.9,931 153.7,915 154.5,896 155.4,924 156.2,895 157.0,935 157.9,926 158.7,895 159.6,929 160.4,895 161.2,906 162.1,938 162.9,910 163.7,911 164.6,910 165.4,912 166.2,937 167.1,932 167.9,924 168.7,888 169.6,911 170.4,906 171.2,919 172.1,897 172.9,928 173.7,958 174.6,920 175.4,902 176.2,918 177.1,879 177.9,898 178.7,920 179.6,904 180.4,914 181.2,934 182.1,913 182.9,922 183.8,894 184.6,940 185.4,900 186.3,912 187.1,909 187.9,906 188.8,887 189.6,907 190.4,913 191.3,932 192.1,908 192.9,908 193.8,922 194.6,913 195.4,905 196.3,915 197.1,936 197.9,908 198.8,889 199.6,900 200.4,901 201.3,890 202.1,903 202.9,916 203.8,873 204.6,888 205.4,892 206.3,911 207.1,867 208.0,903 208.8,911 209.6,908 210.5,888 211.3,867 212.1,878 213.0,876 213.8,883 214.6,907 215.5,902 216.3,881 217.1,908 218.0,904 218.8,875 219.6,871 220.5,887 221.3,899 222.1,883 223.0,914 223.8,888 224.6,904 225.5,881 226.3,876 227.1,902 228.0,924 228.8,898 229.7,905 230.5,870 231.3,864 232.2,874 233.0,885 233.8,879 234.7,857 235.5,854 236.3,891 237.2,884 238.0,935 238.8,876 239.7,872 240.5,901 241.3,880 242.2,880 243.0,897 243.8,864 244.7,880 245.5,874 246.3,879 247.2,866 248.0,872 248.8,899 249.7,873 250.5,858 251.3,874 252.2,874 253.0,886 253.9,888 254.7,875 255.5,883 256.4,887 257.2,903 258.0,885 258.9,905 259.7,900 260.5,859 261.4,885 262.2,835 263.0,869 263.9,874 264.7,862 265.5,884 266.4,877 267.2,883 268.0,875 268.9,898 269.7,899 270.5,906 271.4,918 272.2,904 273.0,944 273.9,917 274.7,918 275.5,909 276.4,902 277.2,892 278.1,908 278.9,889 279.7,884 280.6,937 281.4,916 282.2,915 283.1,901 283.9,919 284.7,921 285.6,931 286.4,922 287.2,922 288.1,938 288.9,917 289.7,935 290.6,884 291.4,907 292.2,933 293.1,911 293.9,932 294.7,906 295.6,928 296.4,876 297.2,892 298.1,905 298.9,883 299.7,870 300.6,921 301.4,941 302.3,914 303.1,883 303.9,907 304.8,885 305.6,875 306.4,919 307.3,919 308.1,912 308.9,890 309.8,862 310.6,915 311.4,905 312.3,931 313.1,884 313.9,871 314.8,926 315.6,927 316.4,926 317.3,922 318.1,918 318.9,919 319.8,898 320.6,945 321.4,927 322.3,873 323.1,921 323.9,863 324.8,900 325.6,886 326.5,917 327.3,889 328.1,886 329.0,918 329.8,883 330.6,885 331.5,927 332.3,911 333.1,900 334.0,878 334.8,889 335.6,883 336.5,894 337.3,895 338.1,892 339.0,885 339.8,914 340.6,898 341.5,898 342.3,888 343.1,898 344.0,888 344.8,890 345.6,891 346.5,872 347.3,872 348.1,850 349.0,868 349.8,892 350.7,922 351.5,921 352.3,883 353.2,834 354.0,897 354.8,900 355.7,920 356.5,888 357.3,906 358.2,905 359.0,903 359.8,884 360.7,916 361.5,905 362.3,920 363.2,913 364.0,883 364.8,930 365.7,904 366.5,909 367.3,912 368.2,916 369.0,930 369.8,885 370.7,919 371.5,937 372.3,940 373.2,955 374.0,960 374.9,968 375.7,946 376.5,934 377.4,918 378.2,932 379.0,943 379.9,941 380.7,937 381.5,983 382.4,1005 383.2,971 384.0,1004 384.9,987 385.7,959 386.5,977 387.4,965 388.2,1006 389.0,1003 389.9,986 390.7,973 391.5,990 392.4,989 393.2,1006 394.0,998 394.9,988 395.7,953 396.6,987 397.4,1001 398.2,969 399.1,963 399.9,991 400.7,960 401.6,968 402.4,967 403.2,963 404.1,948 404.9,1003 405.7,972 406.6,951 407.4,1007 408.2,982 409.1,999 409.9,1009 410.7,966 411.6,1002 412.4,1004 413.2,977 414.1,975 414.9,1018 415.7,995 416.6,969 417.4,972 418.2,992 419.1,984 419.9,1028 420.8,1034 421.6,1003 422.4,989 423.3,977 424.1,987 424.9,1037 425.8,1024 426.6,985 427.4,994 428.3,1019 429.1,991 429.9,987 430.8,1005 431.6,1011 432.4,999 433.3,1041 434.1,995 434.9,979 435.8,952 436.6,971 437.4,986 438.3,975 439.1,963 439.9,1034 440.8,988 441.6,980 442.4,974 443.3,972 444.1,941 445.0,980 445.8,962 446.6,963 447.5,1011 448.3,989 449.1,989 450.0,976 450.8,961 451.6,948 452.5,986 453.3,962 454.1,944 455.0,948 455.8,974 456.6,983 457.5,987 458.3,976 459.1,985 460.0,1009 460.8,960 461.6,1000 462.5,992 463.3,978 464.1,965 465.0,954 465.8,949 466.6,959 467.5,978 468.3,1021 469.2,983 470.0,985 470.8,982 471.7,965 472.5,968 473.3,1013 474.2,992 475.0,971 475.8,958 476.7,1018 477.5,986 478.3,974 479.2,1016 480.0,996 480.8,988 481.7,991 482.5,1016 483.3,974 484.2,1003 485.0,984 485.8,980 486.7,1014 487.5,983 488.3,990 489.2,975 490.0,968 490.8,997 491.7,963 492.5,1011 493.4,1006 494.2,966 495.0,976 495.9,965 496.7,1015 497.5,956 498.4,964 499.2,963 500.0,955 500.9,999 501.7,971 502.5,977 503.4,976 504.2,968 505.0,1010 505.9,1009 506.7,993 507.5,968 508.4,1020 509.2,977 510.0,961 510.9,961 511.7,977 512.5,980 513.4,922 514.2,976 515.0,974 515.9,979 516.7,953 517.6,988 518.4,964 519.2,980 520.1,1002 520.9,972 521.7,973 522.6,966 523.4,933 524.2,973 525.1,937 525.9,923 526.7,963 527.6,977 528.4,954 529.2,949 530.1,1000 530.9,953 531.7,997 532.6,966 533.4,946 534.2,975 535.1,920 535.9,944 536.7,963 537.6,960 538.4,981 539.2,949 540.1,972 540.9,963 541.8,978 542.6,972 543.4,984 544.3,966 545.1,996 545.9,965 546.8,957 547.6,966 548.4,965 549.3,990 550.1,939 550.9,955 551.8,939 552.6,972 553.4,961 554.3,945 555.1,917 555.9,925 556.8,951 557.6,954 558.4,956 559.3,938 560.1,956 560.9,953 561.8,949 562.6,947 563.4,935 564.3,975 565.1,980 566.0,963 566.8,947 567.6,980 568.5,938 569.3,982 570.1,979 571.0,980 571.8,926 572.6,958 573.5,945 574.3,969 575.1,954 576.0,912 576.8,958 577.6,974 578.5,958 579.3,958 580.1,950 581.0,960 581.8,937 582.6,971 583.5,983 584.3,934 585.1,957 586.0,942 586.8,982 587.7,955 588.5,963 589.3,949 590.2,971 591.0,970 591.8,966 592.7,963 593.5,920 594.3,964 595.2,933 596.0,943 596.8,950 597.7,967 598.5,969 599.3,962 600.2,965 601.0,972 601.8,945 602.7,956 603.5,957 604.3,930 605.2,943 606.0,974 606.8,943 607.7,933 608.5,959 609.3,953 610.2,953 611.0,960 611.9,963 612.7,958 613.5,961 614.4,968 615.2,958 616.0,965 616.9,960 617.7,951 618.5,983 619.4,934 620.2,953 621.0,957 621.9,982 622.7,974 623.5,969 624.4,953 625.2,971 626.0,958 626.9,957 627.7,986 628.5,985 629.4,974 630.2,956 631.0,974 631.9,952 632.7,943 633.5,944 634.4,971 635.2,964 636.1,961 636.9,970 637.7,973 638.6,965 639.4,984 640.2,1008 641.1,978 641.9,952 642.7,985 643.6,990 644.4,993 645.2,1002 646.1,993 646.9,999 647.7,985 648.6,995 649.4,972 650.2,973 651.1,996 651.9,980 652.7,955 653.6,947 654.4,993 655.2,981 656.1,976 656.9,969 657.7,983 658.6,970 659.4,973 660.3,973 661.1,973 661.9,996 662.8,985 663.6,1002 664.4,951 665.3,968 666.1,996 666.9,970 667.8,975 668.6,969 669.4,973 670.3,980 671.1,1006 671.9,984 672.8,974 673.6,981 674.4,980 675.3,970 676.1,957 676.9,972 677.8,979 678.6,950 679.4,953 680.3,958 681.1,964 681.9,982 682.8,950 683.6,941 684.5,958 685.3,934 686.1,948 687.0,930 687.8,965 688.6,996 689.5,958 690.3,961 691.1,974 692.0,981 692.8,933 693.6,957 694.5,962 695.3,956 696.1,968 697.0,958 697.8,958 698.6,941 699.5,982 700.3,949 701.1,957 702.0,947 702.8,947 703.6,946 704.5,962 705.3,951 706.1,927 707.0,1002 707.8,963 708.7,952 709.5,928 710.3,947 711.2,962 712.0,945 712.8,976 713.7,940 714.5,967 715.3,973 716.2,946 717.0,951 717.8,952 718.7,972 719.5,964 720.3,965 721.2,972 722.0,986 722.8,953 723.7,942 724.5,955 725.3,958 726.2,978 727.0,985 727.8,969 728.7,945 729.5,987 730.3,954 731.2,975 732.0,976 732.9,979 733.7,952 734.5,986 735.4,985 736.2,967 737.0,961 737.9,939 738.7,977 739.5,973 740.4,947 741.2,965 742.0,949 742.9,1017 743.7,963 744.5,976 745.4,979 746.2,963 747.0,975 747.9,982 748.7,1000 749.5,985 750.4,996 751.2,945 752.0,946 752.9,945 753.7,966 754.6,960 755.4,956 756.2,965 757.1,971 757.9,948 758.7,958 759.6,964 760.4,959 761.2,980 762.1,927 762.9,944 763.7,935 764.6,937 765.4,938 766.2,934 767.1,950 767.9,970 768.7,968 769.6,940 770.4,928 771.2,955 772.1,942 772.9,969 773.7,974 774.6,941 775.4,990 776.2,979 777.1,952 777.9,984 778.8,1006 779.6,968 780.4,978 781.3,953 782.1,977 782.9,967 783.8,983 784.6,967 785.4,983 786.3,964 787.1,947 787.9,970 788.8,994 789.6,918 790.4,970 791.3,939 792.1,939 792.9,963 793.8,960 794.6,972 795.4,974 796.3,938 797.1,990 797.9,987 798.8,960 799.6,965 800.4,949 801.3,973 802.1,968 803.0,974 803.8,961 804.6,975 805.5,961 806.3,957 807.1,960 808.0,968 808.8,975 809.6,974 810.5,990 811.3,961 812.1,985 813.0,954 813.8,951 814.6,961 815.5,980 816.3,956 817.1,947 818.0,967 818.8,954 819.6,960 820.5,959 821.3,969 822.1,989 823.0,970 823.8,946 824.6,986 825.5,958 826.3,951 827.2,966 828.0,984 828.8,945 829.7,944 830.5,979 831.3,980 832.2,951 833.0,962 833.8,951 834.7,947 835.5,934 836.3,951 837.2,928 838.0,936" fill="none" stroke="#d7301f" stroke-width="2.6" stroke-linejoin="miter" stroke-miterlimit="1.2"/>
<polyline points="122.0,960 122.8,913 123.7,909 124.5,900 125.3,887 126.2,882 127.0,881 127.8,899 128.7,870 129.5,880 130.3,876 131.2,879 132.0,872 132.8,909 133.7,858 134.5,874 135.4,876 136.2,878 137.0,873 137.9,874 138.7,877 139.5,827 140.4,856 141.2,831 142.0,848 142.9,825 143.7,830 144.5,844 145.4,866 146.2,857 147.0,860 147.9,879 148.7,837 149.5,822 150.4,854 151.2,855 152.0,884 152.9,903 153.7,842 154.5,903 155.4,889 156.2,878 157.0,875 157.9,903 158.7,861 159.6,850 160.4,855 161.2,834 162.1,871 162.9,859 163.7,875 164.6,879 165.4,856 166.2,897 167.1,860 167.9,885 168.7,846 169.6,881 170.4,851 171.2,868 172.1,855 172.9,833 173.7,848 174.6,868 175.4,878 176.2,838 177.1,830 177.9,850 178.7,863 179.6,853 180.4,854 181.2,883 182.1,882 182.9,880 183.8,854 184.6,875 185.4,858 186.3,838 187.1,876 187.9,859 188.8,842 189.6,879 190.4,860 191.3,863 192.1,873 192.9,854 193.8,818 194.6,827 195.4,853 196.3,829 197.1,849 197.9,844 198.8,859 199.6,860 200.4,859 201.3,840 202.1,853 202.9,847 203.8,835 204.6,859 205.4,841 206.3,822 207.1,857 208.0,831 208.8,844 209.6,802 210.5,828 211.3,820 212.1,819 213.0,798 213.8,875 214.6,838 215.5,854 216.3,866 217.1,841 218.0,846 218.8,821 219.6,858 220.5,841 221.3,853 222.1,850 223.0,820 223.8,812 224.6,825 225.5,857 226.3,857 227.1,855 228.0,818 228.8,803 229.7,839 230.5,834 231.3,825 232.2,848 233.0,839 233.8,826 234.7,834 235.5,857 236.3,857 237.2,857 238.0,893 238.8,846 239.7,849 240.5,829 241.3,837 242.2,852 243.0,855 243.8,846 244.7,855 245.5,843 246.3,813 247.2,794 248.0,895 248.8,872 249.7,854 250.5,823 251.3,840 252.2,886 253.0,820 253.9,867 254.7,877 255.5,863 256.4,872 257.2,857 258.0,899 258.9,839 259.7,831 260.5,850 261.4,869 262.2,841 263.0,861 263.9,833 264.7,825 265.5,871 266.4,873 267.2,871 268.0,836 268.9,819 269.7,817 270.5,830 271.4,845 272.2,842 273.0,810 273.9,830 274.7,831 275.5,827 276.4,821 277.2,818 278.1,829 278.9,821 279.7,819 280.6,798 281.4,813 282.2,810 283.1,775 283.9,812 284.7,799 285.6,811 286.4,801 287.2,793 288.1,800 288.9,797 289.7,781 290.6,759 291.4,823 292.2,765 293.1,786 293.9,806 294.7,800 295.6,803 296.4,804 297.2,814 298.1,792 298.9,840 299.7,771 300.6,787 301.4,780 302.3,785 303.1,801 303.9,816 304.8,781 305.6,778 306.4,801 307.3,799 308.1,813 308.9,802 309.8,786 310.6,776 311.4,782 312.3,774 313.1,754 313.9,786 314.8,793 315.6,792 316.4,793 317.3,827 318.1,801 318.9,808 319.8,786 320.6,778 321.4,793 322.3,806 323.1,792 323.9,790 324.8,812 325.6,802 326.5,781 327.3,798 328.1,802 329.0,813 329.8,792 330.6,813 331.5,829 332.3,820 333.1,800 334.0,806 334.8,825 335.6,830 336.5,829 337.3,812 338.1,795 339.0,840 339.8,815 340.6,822 341.5,811 342.3,790 343.1,801 344.0,804 344.8,823 345.6,807 346.5,747 347.3,799 348.1,808 349.0,817 349.8,808 350.7,843 351.5,830 352.3,830 353.2,824 354.0,788 354.8,825 355.7,826 356.5,807 357.3,827 358.2,826 359.0,805 359.8,809 360.7,813 361.5,820 362.3,805 363.2,821 364.0,775 364.8,802 365.7,773 366.5,794 367.3,803 368.2,800 369.0,794 369.8,789 370.7,815 371.5,768 372.3,803 373.2,756 374.0,777 374.9,803 375.7,775 376.5,793 377.4,798 378.2,765 379.0,775 379.9,766 380.7,743 381.5,773 382.4,770 383.2,801 384.0,763 384.9,818 385.7,772 386.5,808 387.4,783 388.2,781 389.0,790 389.9,791 390.7,795 391.5,802 392.4,778 393.2,764 394.0,727 394.9,762 395.7,778 396.6,776 397.4,771 398.2,771 399.1,768 399.9,775 400.7,784 401.6,745 402.4,787 403.2,754 404.1,776 404.9,764 405.7,773 406.6,760 407.4,756 408.2,767 409.1,751 409.9,809 410.7,750 411.6,755 412.4,762 413.2,753 414.1,735 414.9,773 415.7,784 416.6,742 417.4,770 418.2,755 419.1,783 419.9,797 420.8,803 421.6,793 422.4,764 423.3,796 424.1,775 424.9,794 425.8,799 426.6,783 427.4,761 428.3,797 429.1,769 429.9,777 430.8,778 431.6,812 432.4,798 433.3,764 434.1,820 434.9,846 435.8,840 436.6,799 437.4,820 438.3,827 439.1,839 439.9,826 440.8,804 441.6,834 442.4,833 443.3,800 444.1,817 445.0,820 445.8,813 446.6,822 447.5,833 448.3,816 449.1,808 450.0,784 450.8,819 451.6,829 452.5,840 453.3,812 454.1,810 455.0,834 455.8,832 456.6,808 457.5,815 458.3,788 459.1,806 460.0,781 460.8,792 461.6,795 462.5,788 463.3,756 464.1,784 465.0,806 465.8,801 466.6,794 467.5,803 468.3,803 469.2,803 470.0,779 470.8,792 471.7,778 472.5,770 473.3,754 474.2,781 475.0,764 475.8,814 476.7,782 477.5,783 478.3,776 479.2,823 480.0,787 480.8,794 481.7,794 482.5,802 483.3,802 484.2,823 485.0,776 485.8,809 486.7,840 487.5,802 488.3,808 489.2,792 490.0,764 490.8,814 491.7,830 492.5,803 493.4,783 494.2,826 495.0,829 495.9,842 496.7,837 497.5,820 498.4,831 499.2,793 500.0,849 500.9,840 501.7,855 502.5,851 503.4,830 504.2,822 505.0,811 505.9,787 506.7,832 507.5,838 508.4,816 509.2,844 510.0,822 510.9,833 511.7,821 512.5,799 513.4,845 514.2,844 515.0,824 515.9,824 516.7,833 517.6,837 518.4,832 519.2,811 520.1,853 520.9,818 521.7,845 522.6,841 523.4,859 524.2,827 525.1,869 525.9,864 526.7,867 527.6,882 528.4,846 529.2,814 530.1,868 530.9,885 531.7,878 532.6,846 533.4,858 534.2,862 535.1,821 535.9,833 536.7,838 537.6,876 538.4,833 539.2,869 540.1,835 540.9,800 541.8,862 542.6,810 543.4,839 544.3,856 545.1,824 545.9,817 546.8,857 547.6,846 548.4,822 549.3,825 550.1,839 550.9,863 551.8,846 552.6,857 553.4,882 554.3,872 555.1,876 555.9,868 556.8,826 557.6,881 558.4,869 559.3,863 560.1,837 560.9,825 561.8,833 562.6,848 563.4,836 564.3,843 565.1,846 566.0,870 566.8,849 567.6,848 568.5,871 569.3,847 570.1,865 571.0,841 571.8,869 572.6,859 573.5,859 574.3,851 575.1,837 576.0,850 576.8,854 577.6,885 578.5,887 579.3,850 580.1,880 581.0,865 581.8,879 582.6,864 583.5,853 584.3,891 585.1,877 586.0,847 586.8,838 587.7,861 588.5,849 589.3,863 590.2,871 591.0,882 591.8,853 592.7,878 593.5,870 594.3,840 595.2,818 596.0,863 596.8,856 597.7,890 598.5,884 599.3,874 600.2,897 601.0,851 601.8,868 602.7,862 603.5,894 604.3,881 605.2,817 606.0,902 606.8,867 607.7,888 608.5,874 609.3,895 610.2,899 611.0,897 611.9,869 612.7,912 613.5,889 614.4,887 615.2,893 616.0,864 616.9,913 617.7,899 618.5,899 619.4,903 620.2,881 621.0,875 621.9,902 622.7,911 623.5,920 624.4,908 625.2,883 626.0,904 626.9,918 627.7,929 628.5,911 629.4,891 630.2,930 631.0,896 631.9,924 632.7,887 633.5,926 634.4,905 635.2,940 636.1,952 636.9,933 637.7,887 638.6,897 639.4,895 640.2,923 641.1,914 641.9,913 642.7,912 643.6,927 644.4,925 645.2,944 646.1,915 646.9,926 647.7,885 648.6,896 649.4,907 650.2,903 651.1,929 651.9,941 652.7,918 653.6,916 654.4,919 655.2,930 656.1,916 656.9,934 657.7,935 658.6,946 659.4,949 660.3,938 661.1,945 661.9,962 662.8,925 663.6,938 664.4,929 665.3,934 666.1,935 666.9,933 667.8,944 668.6,922 669.4,918 670.3,955 671.1,935 671.9,953 672.8,946 673.6,950 674.4,933 675.3,952 676.1,990 676.9,955 677.8,963 678.6,946 679.4,961 680.3,921 681.1,931 681.9,952 682.8,956 683.6,931 684.5,937 685.3,926 686.1,931 687.0,914 687.8,914 688.6,932 689.5,913 690.3,923 691.1,923 692.0,923 692.8,951 693.6,936 694.5,938 695.3,923 696.1,925 697.0,947 697.8,953 698.6,940 699.5,954 700.3,952 701.1,951 702.0,979 702.8,948 703.6,959 704.5,959 705.3,958 706.1,941 707.0,970 707.8,969 708.7,962 709.5,954 710.3,956 711.2,935 712.0,954 712.8,920 713.7,950 714.5,922 715.3,940 716.2,957 717.0,948 717.8,940 718.7,956 719.5,952 720.3,945 721.2,949 722.0,982 722.8,961 723.7,947 724.5,919 725.3,950 726.2,918 727.0,944 727.8,918 728.7,971 729.5,898 730.3,950 731.2,939 732.0,888 732.9,910 733.7,944 734.5,938 735.4,878 736.2,896 737.0,883 737.9,883 738.7,886 739.5,921 740.4,896 741.2,885 742.0,881 742.9,896 743.7,893 744.5,869 745.4,911 746.2,862 747.0,871 747.9,884 748.7,912 749.5,879 750.4,891 751.2,908 752.0,896 752.9,907 753.7,898 754.6,895 755.4,899 756.2,903 757.1,894 757.9,923 758.7,862 759.6,878 760.4,912 761.2,899 762.1,888 762.9,902 763.7,921 764.6,888 765.4,909 766.2,898 767.1,899 767.9,904 768.7,921 769.6,880 770.4,887 771.2,904 772.1,872 772.9,865 773.7,909 774.6,900 775.4,892 776.2,911 777.1,888 777.9,948 778.8,889 779.6,902 780.4,878 781.3,889 782.1,919 782.9,900 783.8,908 784.6,886 785.4,926 786.3,903 787.1,871 787.9,904 788.8,881 789.6,911 790.4,911 791.3,915 792.1,909 792.9,893 793.8,873 794.6,918 795.4,894 796.3,899 797.1,887 797.9,863 798.8,881 799.6,932 800.4,896 801.3,900 802.1,886 803.0,902 803.8,910 804.6,908 805.5,900 806.3,893 807.1,907 808.0,918 808.8,923 809.6,919 810.5,953 811.3,928 812.1,924 813.0,911 813.8,940 814.6,903 815.5,889 816.3,903 817.1,935 818.0,907 818.8,950 819.6,928 820.5,912 821.3,931 822.1,966 823.0,925 823.8,913 824.6,941 825.5,956 826.3,955 827.2,929 828.0,936 828.8,936 829.7,942 830.5,962 831.3,920 832.2,935 833.0,906 833.8,915 834.7,887 835.5,892 836.3,910 837.2,894 838.0,917" fill="none" stroke="#52a540" stroke-width="2.6" stroke-linejoin="miter" stroke-miterlimit="1.2"/>
<polyline points="122.0,990 122.8,935 123.7,937 124.5,917 125.3,934 126.2,901 127.0,929 127.8,907 128.7,887 129.5,908 130.3,929 131.2,945 132.0,904 132.8,890 133.7,879 134.5,915 135.4,924 136.2,910 137.0,903 137.9,919 138.7,914 139.5,908 140.4,872 141.2,892 142.0,926 142.9,893 143.7,936 144.5,900 145.4,895 146.2,898 147.0,911 147.9,887 148.7,903 149.5,888 150.4,923 151.2,892 152.0,906 152.9,878 153.7,883 154.5,914 155.4,901 156.2,907 157.0,918 157.9,920 158.7,886 159.6,906 160.4,915 161.2,882 162.1,870 162.9,883 163.7,919 164.6,893 165.4,921 166.2,884 167.1,913 167.9,872 168.7,892 169.6,898 170.4,928 171.2,912 172.1,918 172.9,888 173.7,888 174.6,910 175.4,905 176.2,900 177.1,904 177.9,878 178.7,917 179.6,878 180.4,899 181.2,893 182.1,853 182.9,855 183.8,866 184.6,891 185.4,912 186.3,881 187.1,895 187.9,861 188.8,875 189.6,872 190.4,889 191.3,870 192.1,889 192.9,890 193.8,868 194.6,864 195.4,873 196.3,853 197.1,862 197.9,894 198.8,888 199.6,863 200.4,889 201.3,897 202.1,911 202.9,911 203.8,916 204.6,902 205.4,896 206.3,896 207.1,926 208.0,924 208.8,943 209.6,936 210.5,906 211.3,899 212.1,899 213.0,905 213.8,932 214.6,904 215.5,888 216.3,919 217.1,926 218.0,931 218.8,946 219.6,920 220.5,907 221.3,903 222.1,888 223.0,901 223.8,927 224.6,933 225.5,921 226.3,902 227.1,903 228.0,904 228.8,862 229.7,901 230.5,896 231.3,877 232.2,887 233.0,855 233.8,893 234.7,886 235.5,828 236.3,867 237.2,882 238.0,901 238.8,858 239.7,873 240.5,895 241.3,881 242.2,859 243.0,852 243.8,861 244.7,849 245.5,877 246.3,849 247.2,879 248.0,887 248.8,891 249.7,875 250.5,873 251.3,872 252.2,866 253.0,888 253.9,860 254.7,894 255.5,906 256.4,843 257.2,856 258.0,831 258.9,865 259.7,860 260.5,842 261.4,827 262.2,847 263.0,884 263.9,878 264.7,858 265.5,844 266.4,857 267.2,838 268.0,830 268.9,835 269.7,853 270.5,846 271.4,859 272.2,834 273.0,823 273.9,867 274.7,856 275.5,884 276.4,855 277.2,885 278.1,874 278.9,869 279.7,871 280.6,909 281.4,895 282.2,878 283.1,882 283.9,853 284.7,908 285.6,899 286.4,874 287.2,887 288.1,829 288.9,886 289.7,875 290.6,881 291.4,887 292.2,882 293.1,859 293.9,867 294.7,879 295.6,893 296.4,878 297.2,867 298.1,886 298.9,859 299.7,915 300.6,888 301.4,871 302.3,892 303.1,902 303.9,894 304.8,920 305.6,862 306.4,921 307.3,890 308.1,905 308.9,915 309.8,865 310.6,860 311.4,886 312.3,866 313.1,857 313.9,902 314.8,913 315.6,889 316.4,910 317.3,965 318.1,906 318.9,894 319.8,895 320.6,909 321.4,886 322.3,903 323.1,899 323.9,910 324.8,891 325.6,890 326.5,876 327.3,875 328.1,901 329.0,899 329.8,902 330.6,897 331.5,890 332.3,941 333.1,916 334.0,931 334.8,899 335.6,936 336.5,937 337.3,916 338.1,892 339.0,921 339.8,892 340.6,878 341.5,881 342.3,909 343.1,889 344.0,915 344.8,916 345.6,933 346.5,908 347.3,899 348.1,898 349.0,879 349.8,874 350.7,873 351.5,903 352.3,881 353.2,889 354.0,908 354.8,849 355.7,881 356.5,882 357.3,900 358.2,872 359.0,884 359.8,930 360.7,859 361.5,890 362.3,889 363.2,883 364.0,862 364.8,897 365.7,844 366.5,852 367.3,864 368.2,858 369.0,891 369.8,865 370.7,904 371.5,868 372.3,891 373.2,860 374.0,846 374.9,856 375.7,881 376.5,859 377.4,868 378.2,854 379.0,845 379.9,890 380.7,899 381.5,869 382.4,896 383.2,875 384.0,851 384.9,865 385.7,888 386.5,907 387.4,903 388.2,948 389.0,907 389.9,889 390.7,879 391.5,931 392.4,898 393.2,904 394.0,885 394.9,892 395.7,899 396.6,919 397.4,926 398.2,919 399.1,934 399.9,912 400.7,900 401.6,914 402.4,880 403.2,921 404.1,916 404.9,920 405.7,892 406.6,897 407.4,907 408.2,899 409.1,903 409.9,916 410.7,917 411.6,904 412.4,933 413.2,951 414.1,922 414.9,913 415.7,913 416.6,933 417.4,916 418.2,921 419.1,919 419.9,902 420.8,938 421.6,912 422.4,902 423.3,870 424.1,942 424.9,908 425.8,883 426.6,876 427.4,876 428.3,864 429.1,904 429.9,881 430.8,909 431.6,910 432.4,937 433.3,911 434.1,912 434.9,917 435.8,900 436.6,898 437.4,907 438.3,922 439.1,914 439.9,891 440.8,917 441.6,894 442.4,876 443.3,934 444.1,902 445.0,889 445.8,872 446.6,883 447.5,916 448.3,878 449.1,919 450.0,886 450.8,908 451.6,881 452.5,870 453.3,877 454.1,876 455.0,858 455.8,853 456.6,884 457.5,902 458.3,891 459.1,887 460.0,869 460.8,896 461.6,893 462.5,853 463.3,874 464.1,863 465.0,851 465.8,900 466.6,896 467.5,877 468.3,900 469.2,876 470.0,885 470.8,905 471.7,876 472.5,888 473.3,868 474.2,892 475.0,900 475.8,862 476.7,863 477.5,872 478.3,904 479.2,869 480.0,868 480.8,884 481.7,900 482.5,860 483.3,881 484.2,913 485.0,900 485.8,894 486.7,913 487.5,878 488.3,950 489.2,922 490.0,900 490.8,912 491.7,907 492.5,903 493.4,881 494.2,889 495.0,864 495.9,914 496.7,868 497.5,874 498.4,872 499.2,905 500.0,894 500.9,923 501.7,888 502.5,891 503.4,888 504.2,884 505.0,911 505.9,909 506.7,907 507.5,859 508.4,882 509.2,851 510.0,853 510.9,834 511.7,848 512.5,876 513.4,888 514.2,893 515.0,840 515.9,843 516.7,859 517.6,864 518.4,869 519.2,838 520.1,875 520.9,890 521.7,884 522.6,876 523.4,867 524.2,878 525.1,917 525.9,902 526.7,911 527.6,920 528.4,872 529.2,904 530.1,907 530.9,925 531.7,896 532.6,896 533.4,880 534.2,899 535.1,891 535.9,899 536.7,905 537.6,890 538.4,882 539.2,888 540.1,892 540.9,908 541.8,923 542.6,896 543.4,858 544.3,913 545.1,903 545.9,896 546.8,907 547.6,944 548.4,885 549.3,890 550.1,909 550.9,864 551.8,910 552.6,939 553.4,930 554.3,926 555.1,907 555.9,918 556.8,978 557.6,932 558.4,955 559.3,911 560.1,930 560.9,933 561.8,923 562.6,881 563.4,916 564.3,946 565.1,924 566.0,907 566.8,928 567.6,880 568.5,920 569.3,916 570.1,896 571.0,884 571.8,884 572.6,904 573.5,935 574.3,911 575.1,909 576.0,926 576.8,907 577.6,936 578.5,879 579.3,917 580.1,913 581.0,923 581.8,918 582.6,929 583.5,902 584.3,929 585.1,918 586.0,934 586.8,922 587.7,923 588.5,925 589.3,909 590.2,928 591.0,902 591.8,920 592.7,921 593.5,914 594.3,917 595.2,933 596.0,939 596.8,942 597.7,913 598.5,914 599.3,929 600.2,931 601.0,884 601.8,955 602.7,938 603.5,891 604.3,932 605.2,905 606.0,911 606.8,897 607.7,895 608.5,902 609.3,910 610.2,885 611.0,901 611.9,892 612.7,889 613.5,881 614.4,885 615.2,925 616.0,874 616.9,873 617.7,897 618.5,893 619.4,889 620.2,909 621.0,877 621.9,890 622.7,910 623.5,909 624.4,890 625.2,897 626.0,905 626.9,917 627.7,888 628.5,929 629.4,921 630.2,936 631.0,922 631.9,929 632.7,859 633.5,906 634.4,955 635.2,923 636.1,914 636.9,938 637.7,928 638.6,934 639.4,913 640.2,939 641.1,950 641.9,927 642.7,923 643.6,907 644.4,930 645.2,908 646.1,890 646.9,911 647.7,914 648.6,923 649.4,922 650.2,909 651.1,917 651.9,932 652.7,907 653.6,916 654.4,915 655.2,915 656.1,906 656.9,938 657.7,936 658.6,925 659.4,897 660.3,915 661.1,923 661.9,875 662.8,952 663.6,900 664.4,893 665.3,906 666.1,861 666.9,897 667.8,899 668.6,911 669.4,884 670.3,906 671.1,912 671.9,901 672.8,891 673.6,885 674.4,868 675.3,886 676.1,910 676.9,919 677.8,908 678.6,910 679.4,877 680.3,874 681.1,854 681.9,876 682.8,877 683.6,892 684.5,898 685.3,883 686.1,879 687.0,896 687.8,909 688.6,904 689.5,848 690.3,906 691.1,871 692.0,858 692.8,877 693.6,899 694.5,836 695.3,900 696.1,882 697.0,886 697.8,850 698.6,870 699.5,864 700.3,899 701.1,867 702.0,889 702.8,869 703.6,850 704.5,893 705.3,889 706.1,888 707.0,857 707.8,870 708.7,888 709.5,879 710.3,882 711.2,922 712.0,882 712.8,897 713.7,871 714.5,905 715.3,877 716.2,861 717.0,889 717.8,874 718.7,879 719.5,881 720.3,874 721.2,891 722.0,888 722.8,914 723.7,872 724.5,908 725.3,902 726.2,870 727.0,917 727.8,857 728.7,895 729.5,850 730.3,888 731.2,874 732.0,874 732.9,845 733.7,862 734.5,899 735.4,903 736.2,887 737.0,879 737.9,877 738.7,913 739.5,897 740.4,916 741.2,875 742.0,869 742.9,912 743.7,875 744.5,891 745.4,900 746.2,903 747.0,899 747.9,898 748.7,916 749.5,894 750.4,916 751.2,899 752.0,896 752.9,920 753.7,887 754.6,840 755.4,892 756.2,892 757.1,913 757.9,877 758.7,863 759.6,890 760.4,911 761.2,875 762.1,903 762.9,894 763.7,891 764.6,863 765.4,888 766.2,874 767.1,880 767.9,870 768.7,897 769.6,867 770.4,869 771.2,841 772.1,861 772.9,922 773.7,874 774.6,847 775.4,872 776.2,874 777.1,862 777.9,868 778.8,865 779.6,893 780.4,858 781.3,884 782.1,893 782.9,862 783.8,911 784.6,870 785.4,871 786.3,859 787.1,886 787.9,848 788.8,880 789.6,911 790.4,875 791.3,887 792.1,854 792.9,886 793.8,861 794.6,863 795.4,882 796.3,918 797.1,866 797.9,846 798.8,880 799.6,901 800.4,898 801.3,891 802.1,909 803.0,904 803.8,900 804.6,875 805.5,857 806.3,910 807.1,873 808.0,911 808.8,908 809.6,868 810.5,875 811.3,896 812.1,899 813.0,869 813.8,889 814.6,876 815.5,872 816.3,896 817.1,882 818.0,853 818.8,899 819.6,882 820.5,891 821.3,875 822.1,907 823.0,895 823.8,893 824.6,876 825.5,887 826.3,913 827.2,890 828.0,888 828.8,878 829.7,896 830.5,876 831.3,865 832.2,898 833.0,872 833.8,854 834.7,852 835.5,852 836.3,832 837.2,875 838.0,858" fill="none" stroke="#3a2f92" stroke-width="2.6" stroke-linejoin="miter" stroke-miterlimit="1.2"/>
<line x1="118.5" y1="727.0" x2="118.5" y2="1234.0" stroke="#000" stroke-width="4.6"/>
<line x1="116.2" y1="1231.7" x2="842" y2="1231.7" stroke="#000" stroke-width="4.6"/>
<line x1="101.5" y1="1228.5" x2="118.5" y2="1228.5" stroke="#000" stroke-width="4.6"/>
<line x1="109.0" y1="1203.5" x2="118.5" y2="1203.5" stroke="#000" stroke-width="4.6"/>
<line x1="109.0" y1="1178.5" x2="118.5" y2="1178.5" stroke="#000" stroke-width="4.6"/>
<line x1="109.0" y1="1153.5" x2="118.5" y2="1153.5" stroke="#000" stroke-width="4.6"/>
<line x1="101.5" y1="1128.5" x2="118.5" y2="1128.5" stroke="#000" stroke-width="4.6"/>
<line x1="109.0" y1="1103.5" x2="118.5" y2="1103.5" stroke="#000" stroke-width="4.6"/>
<line x1="109.0" y1="1078.6" x2="118.5" y2="1078.6" stroke="#000" stroke-width="4.6"/>
<line x1="109.0" y1="1053.6" x2="118.5" y2="1053.6" stroke="#000" stroke-width="4.6"/>
<line x1="101.5" y1="1028.6" x2="118.5" y2="1028.6" stroke="#000" stroke-width="4.6"/>
<line x1="109.0" y1="1003.6" x2="118.5" y2="1003.6" stroke="#000" stroke-width="4.6"/>
<line x1="109.0" y1="978.6" x2="118.5" y2="978.6" stroke="#000" stroke-width="4.6"/>
<line x1="109.0" y1="953.6" x2="118.5" y2="953.6" stroke="#000" stroke-width="4.6"/>
<line x1="101.5" y1="928.6" x2="118.5" y2="928.6" stroke="#000" stroke-width="4.6"/>
<line x1="109.0" y1="903.6" x2="118.5" y2="903.6" stroke="#000" stroke-width="4.6"/>
<line x1="109.0" y1="878.6" x2="118.5" y2="878.6" stroke="#000" stroke-width="4.6"/>
<line x1="109.0" y1="853.7" x2="118.5" y2="853.7" stroke="#000" stroke-width="4.6"/>
<line x1="101.5" y1="828.7" x2="118.5" y2="828.7" stroke="#000" stroke-width="4.6"/>
<line x1="109.0" y1="803.7" x2="118.5" y2="803.7" stroke="#000" stroke-width="4.6"/>
<line x1="109.0" y1="778.7" x2="118.5" y2="778.7" stroke="#000" stroke-width="4.6"/>
<line x1="109.0" y1="753.7" x2="118.5" y2="753.7" stroke="#000" stroke-width="4.6"/>
<line x1="101.5" y1="728.7" x2="118.5" y2="728.7" stroke="#000" stroke-width="4.6"/>
<line x1="121.9" y1="1231.7" x2="121.9" y2="1249.2" stroke="#000" stroke-width="4.6"/>
<line x1="157.8" y1="1231.7" x2="157.8" y2="1242.2" stroke="#000" stroke-width="4.6"/>
<line x1="193.6" y1="1231.7" x2="193.6" y2="1242.2" stroke="#000" stroke-width="4.6"/>
<line x1="229.5" y1="1231.7" x2="229.5" y2="1242.2" stroke="#000" stroke-width="4.6"/>
<line x1="265.4" y1="1231.7" x2="265.4" y2="1249.2" stroke="#000" stroke-width="4.6"/>
<line x1="301.2" y1="1231.7" x2="301.2" y2="1242.2" stroke="#000" stroke-width="4.6"/>
<line x1="337.1" y1="1231.7" x2="337.1" y2="1242.2" stroke="#000" stroke-width="4.6"/>
<line x1="373.0" y1="1231.7" x2="373.0" y2="1242.2" stroke="#000" stroke-width="4.6"/>
<line x1="408.9" y1="1231.7" x2="408.9" y2="1249.2" stroke="#000" stroke-width="4.6"/>
<line x1="444.7" y1="1231.7" x2="444.7" y2="1242.2" stroke="#000" stroke-width="4.6"/>
<line x1="480.6" y1="1231.7" x2="480.6" y2="1242.2" stroke="#000" stroke-width="4.6"/>
<line x1="516.5" y1="1231.7" x2="516.5" y2="1242.2" stroke="#000" stroke-width="4.6"/>
<line x1="552.3" y1="1231.7" x2="552.3" y2="1249.2" stroke="#000" stroke-width="4.6"/>
<line x1="588.2" y1="1231.7" x2="588.2" y2="1242.2" stroke="#000" stroke-width="4.6"/>
<line x1="624.1" y1="1231.7" x2="624.1" y2="1242.2" stroke="#000" stroke-width="4.6"/>
<line x1="659.9" y1="1231.7" x2="659.9" y2="1242.2" stroke="#000" stroke-width="4.6"/>
<line x1="695.8" y1="1231.7" x2="695.8" y2="1249.2" stroke="#000" stroke-width="4.6"/>
<line x1="731.7" y1="1231.7" x2="731.7" y2="1242.2" stroke="#000" stroke-width="4.6"/>
<line x1="767.6" y1="1231.7" x2="767.6" y2="1242.2" stroke="#000" stroke-width="4.6"/>
<line x1="803.4" y1="1231.7" x2="803.4" y2="1242.2" stroke="#000" stroke-width="4.6"/>
<line x1="839.3" y1="1231.7" x2="839.3" y2="1249.2" stroke="#000" stroke-width="4.6"/>
</g>
<g id="plotD">
<polyline points="1042.0,1223 1042.8,1123 1043.7,1094 1044.5,1077 1045.3,1010 1046.2,1016 1047.0,1048 1047.8,1050 1048.7,959 1049.5,1029 1050.4,978 1051.2,989 1052.0,961 1052.9,1020 1053.7,963 1054.5,996 1055.4,997 1056.2,1001 1057.0,947 1057.9,1016 1058.7,995 1059.5,1050 1060.4,988 1061.2,980 1062.0,993 1062.9,987 1063.7,978 1064.5,942 1065.4,895 1066.2,924 1067.1,967 1067.9,1005 1068.7,971 1069.6,939 1070.4,972 1071.2,990 1072.1,1102 1072.9,1036 1073.7,983 1074.6,925 1075.4,966 1076.2,962 1077.1,995 1077.9,1068 1078.7,982 1079.6,908 1080.4,981 1081.3,912 1082.1,1018 1082.9,1037 1083.8,1001 1084.6,929 1085.4,977 1086.3,1039 1087.1,950 1087.9,968 1088.8,1000 1089.6,1017 1090.4,990 1091.3,995 1092.1,986 1092.9,960 1093.8,975 1094.6,987 1095.4,940 1096.3,998 1097.1,993 1098.0,985 1098.8,981 1099.6,925 1100.5,915 1101.3,980 1102.1,982 1103.0,986 1103.8,954 1104.6,932 1105.5,993 1106.3,977 1107.1,1001 1108.0,1022 1108.8,1026 1109.6,1007 1110.5,924 1111.3,894 1112.1,960 1113.0,930 1113.8,919 1114.7,1001 1115.5,904 1116.3,1008 1117.2,1031 1118.0,1090 1118.8,1031 1119.7,1067 1120.5,958 1121.3,963 1122.2,1015 1123.0,922 1123.8,1021 1124.7,968 1125.5,911 1126.3,1063 1127.2,928 1128.0,1074 1128.9,911 1129.7,934 1130.5,996 1131.4,976 1132.2,915 1133.0,977 1133.9,989 1134.7,1000 1135.5,917 1136.4,955 1137.2,982 1138.0,1008 1138.9,978 1139.7,953 1140.5,964 1141.4,1036 1142.2,937 1143.0,983 1143.9,905 1144.7,1052 1145.6,1005 1146.4,915 1147.2,1005 1148.1,1030 1148.9,1006 1149.7,976 1150.6,993 1151.4,956 1152.2,978 1153.1,969 1153.9,981 1154.7,930 1155.6,1036 1156.4,972 1157.2,937 1158.1,960 1158.9,990 1159.8,991 1160.6,1025 1161.4,970 1162.3,949 1163.1,1006 1163.9,1039 1164.8,944 1165.6,912 1166.4,952 1167.3,974 1168.1,931 1168.9,983 1169.8,945 1170.6,1007 1171.4,925 1172.3,957 1173.1,993 1173.9,1010 1174.8,1033 1175.6,955 1176.5,962 1177.3,976 1178.1,1011 1179.0,930 1179.8,927 1180.6,980 1181.5,965 1182.3,1020 1183.1,973 1184.0,989 1184.8,947 1185.6,987 1186.5,1025 1187.3,957 1188.1,925 1189.0,1015 1189.8,971 1190.7,999 1191.5,964 1192.3,1026 1193.2,962 1194.0,965 1194.8,970 1195.7,948 1196.5,884 1197.3,996 1198.2,934 1199.0,985 1199.8,960 1200.7,982 1201.5,953 1202.3,927 1203.2,974 1204.0,988 1204.8,1009 1205.7,974 1206.5,918 1207.4,997 1208.2,1055 1209.0,998 1209.9,958 1210.7,921 1211.5,968 1212.4,910 1213.2,997 1214.0,952 1214.9,941 1215.7,990 1216.5,910 1217.4,896 1218.2,944 1219.0,1020 1219.9,935 1220.7,1007 1221.5,902 1222.4,972 1223.2,1000 1224.1,1037 1224.9,904 1225.7,968 1226.6,937 1227.4,995 1228.2,962 1229.1,995 1229.9,935 1230.7,939 1231.6,988 1232.4,1023 1233.2,974 1234.1,984 1234.9,962 1235.7,1031 1236.6,895 1237.4,896 1238.3,942 1239.1,988 1239.9,1009 1240.8,982 1241.6,995 1242.4,967 1243.3,949 1244.1,929 1244.9,982 1245.8,933 1246.6,989 1247.4,1000 1248.3,950 1249.1,952 1249.9,945 1250.8,996 1251.6,974 1252.4,950 1253.3,966 1254.1,1020 1255.0,961 1255.8,961 1256.6,948 1257.5,929 1258.3,973 1259.1,975 1260.0,939 1260.8,999 1261.6,961 1262.5,973 1263.3,982 1264.1,981 1265.0,907 1265.8,969 1266.6,1014 1267.5,921 1268.3,983 1269.2,939 1270.0,920 1270.8,981 1271.7,961 1272.5,873 1273.3,938 1274.2,996 1275.0,941 1275.8,930 1276.7,952 1277.5,948 1278.3,987 1279.2,929 1280.0,918 1280.8,983 1281.7,993 1282.5,982 1283.3,996 1284.2,945 1285.0,912 1285.9,941 1286.7,971 1287.5,908 1288.4,971 1289.2,1001 1290.0,940 1290.9,1049 1291.7,984 1292.5,912 1293.4,915 1294.2,935 1295.0,996 1295.9,985 1296.7,934 1297.5,965 1298.4,988 1299.2,982 1300.0,902 1300.9,916 1301.7,931 1302.6,907 1303.4,1002 1304.2,946 1305.1,932 1305.9,925 1306.7,980 1307.6,977 1308.4,983 1309.2,1003 1310.1,931 1310.9,1038 1311.7,1063 1312.6,945 1313.4,933 1314.2,986 1315.1,1015 1315.9,964 1316.8,921 1317.6,1043 1318.4,940 1319.3,835 1320.1,971 1320.9,996 1321.8,1034 1322.6,1037 1323.4,1085 1324.3,944 1325.1,925 1325.9,902 1326.8,1023 1327.6,943 1328.4,896 1329.3,894 1330.1,972 1330.9,959 1331.8,985 1332.6,942 1333.5,934 1334.3,976 1335.1,950 1336.0,990 1336.8,961 1337.6,959 1338.5,983 1339.3,960 1340.1,977 1341.0,981 1341.8,946 1342.6,961 1343.5,980 1344.3,995 1345.1,976 1346.0,972 1346.8,989 1347.7,960 1348.5,986 1349.3,929 1350.2,877 1351.0,974 1351.8,887 1352.7,968 1353.5,1017 1354.3,986 1355.2,908 1356.0,978 1356.8,963 1357.7,931 1358.5,955 1359.3,934 1360.2,944 1361.0,981 1361.8,920 1362.7,994 1363.5,1039 1364.4,951 1365.2,929 1366.0,951 1366.9,1024 1367.7,941 1368.5,980 1369.4,1049 1370.2,923 1371.0,960 1371.9,927 1372.7,956 1373.5,974 1374.4,928 1375.2,973 1376.0,977 1376.9,1009 1377.7,994 1378.6,983 1379.4,1032 1380.2,963 1381.1,989 1381.9,933 1382.7,1004 1383.6,925 1384.4,997 1385.2,929 1386.1,967 1386.9,909 1387.7,941 1388.6,926 1389.4,973 1390.2,975 1391.1,987 1391.9,980 1392.7,938 1393.6,984 1394.4,1017 1395.3,942 1396.1,937 1396.9,992 1397.8,1042 1398.6,957 1399.4,961 1400.3,937 1401.1,947 1401.9,931 1402.8,933 1403.6,1011 1404.4,1012 1405.3,958 1406.1,965 1406.9,996 1407.8,971 1408.6,967 1409.4,995 1410.3,962 1411.1,1022 1412.0,1098 1412.8,961 1413.6,965 1414.5,923 1415.3,938 1416.1,968 1417.0,974 1417.8,941 1418.6,906 1419.5,985 1420.3,955 1421.1,979 1422.0,950 1422.8,956 1423.6,952 1424.5,871 1425.3,1004 1426.2,913 1427.0,963 1427.8,972 1428.7,933 1429.5,894 1430.3,976 1431.2,910 1432.0,944 1432.8,962 1433.7,959 1434.5,907 1435.3,948 1436.2,991 1437.0,929 1437.8,993 1438.7,898 1439.5,921 1440.3,891 1441.2,930 1442.0,1000 1442.9,965 1443.7,942 1444.5,925 1445.4,996 1446.2,957 1447.0,919 1447.9,1029 1448.7,907 1449.5,965 1450.4,972 1451.2,974 1452.0,1019 1452.9,979 1453.7,918 1454.5,985 1455.4,961 1456.2,902 1457.1,907 1457.9,913 1458.7,873 1459.6,982 1460.4,982 1461.2,973 1462.1,920 1462.9,961 1463.7,1023 1464.6,977 1465.4,947 1466.2,909 1467.1,961 1467.9,999 1468.7,955 1469.6,1046 1470.4,1057 1471.2,977 1472.1,872 1472.9,933 1473.8,999 1474.6,934 1475.4,913 1476.3,942 1477.1,1049 1477.9,917 1478.8,863 1479.6,961 1480.4,964 1481.3,967 1482.1,948 1482.9,966 1483.8,934 1484.6,994 1485.4,939 1486.3,967 1487.1,921 1488.0,1001 1488.8,956 1489.6,923 1490.5,954 1491.3,903 1492.1,916 1493.0,977 1493.8,970 1494.6,984 1495.5,971 1496.3,928 1497.1,949 1498.0,1036 1498.8,952 1499.6,880 1500.5,944 1501.3,923 1502.1,925 1503.0,933 1503.8,893 1504.7,959 1505.5,946 1506.3,980 1507.2,928 1508.0,907 1508.8,929 1509.7,1011 1510.5,882 1511.3,988 1512.2,938 1513.0,998 1513.8,936 1514.7,960 1515.5,959 1516.3,1030 1517.2,940 1518.0,959 1518.8,918 1519.7,957 1520.5,910 1521.4,925 1522.2,948 1523.0,968 1523.9,910 1524.7,904 1525.5,986 1526.4,914 1527.2,948 1528.0,945 1528.9,899 1529.7,956 1530.5,952 1531.4,1019 1532.2,861 1533.0,919 1533.9,963 1534.7,925 1535.6,860 1536.4,965 1537.2,952 1538.1,930 1538.9,908 1539.7,926 1540.6,960 1541.4,940 1542.2,913 1543.1,955 1543.9,985 1544.7,924 1545.6,1013 1546.4,950 1547.2,965 1548.1,960 1548.9,960 1549.7,943 1550.6,854 1551.4,901 1552.3,967 1553.1,896 1553.9,931 1554.8,872 1555.6,916 1556.4,999 1557.3,951 1558.1,922 1558.9,933 1559.8,889 1560.6,971 1561.4,934 1562.3,970 1563.1,970 1563.9,928 1564.8,903 1565.6,887 1566.5,933 1567.3,938 1568.1,996 1569.0,910 1569.8,961 1570.6,895 1571.5,915 1572.3,983 1573.1,971 1574.0,922 1574.8,919 1575.6,985 1576.5,920 1577.3,923 1578.1,902 1579.0,1049 1579.8,1017 1580.6,953 1581.5,1033 1582.3,961 1583.2,933 1584.0,973 1584.8,1005 1585.7,900 1586.5,988 1587.3,985 1588.2,1000 1589.0,957 1589.8,987 1590.7,860 1591.5,927 1592.3,977 1593.2,957 1594.0,946 1594.8,882 1595.7,935 1596.5,885 1597.3,932 1598.2,964 1599.0,916 1599.9,960 1600.7,929 1601.5,975 1602.4,928 1603.2,880 1604.0,902 1604.9,922 1605.7,948 1606.5,944 1607.4,913 1608.2,943 1609.0,912 1609.9,977 1610.7,901 1611.5,998 1612.4,963 1613.2,923 1614.1,900 1614.9,954 1615.7,910 1616.6,968 1617.4,1020 1618.2,958 1619.1,959 1619.9,970 1620.7,926 1621.6,1034 1622.4,952 1623.2,971 1624.1,959 1624.9,932 1625.7,1003 1626.6,964 1627.4,918 1628.2,911 1629.1,866 1629.9,899 1630.8,976 1631.6,968 1632.4,895 1633.3,962 1634.1,977 1634.9,976 1635.8,987 1636.6,870 1637.4,956 1638.3,908 1639.1,976 1639.9,916 1640.8,946 1641.6,976 1642.4,870 1643.3,910 1644.1,915 1645.0,929 1645.8,876 1646.6,965 1647.5,1010 1648.3,924 1649.1,958 1650.0,840 1650.8,891 1651.6,975 1652.5,953 1653.3,967 1654.1,994 1655.0,936 1655.8,915 1656.6,910 1657.5,939 1658.3,854 1659.1,991 1660.0,856 1660.8,872 1661.7,930 1662.5,973 1663.3,962 1664.2,987 1665.0,916 1665.8,896 1666.7,947 1667.5,897 1668.3,951 1669.2,960 1670.0,949 1670.8,845 1671.7,919 1672.5,848 1673.3,954 1674.2,906 1675.0,967 1675.9,980 1676.7,875 1677.5,961 1678.4,932 1679.2,979 1680.0,857 1680.9,859 1681.7,892 1682.5,861 1683.4,936 1684.2,881 1685.0,932 1685.9,940 1686.7,955 1687.5,873 1688.4,956 1689.2,943 1690.0,868 1690.9,895 1691.7,845 1692.6,963 1693.4,971 1694.2,890 1695.1,928 1695.9,949 1696.7,963 1697.6,928 1698.4,992 1699.2,891 1700.1,955 1700.9,915 1701.7,924 1702.6,873 1703.4,835 1704.2,903 1705.1,941 1705.9,883 1706.7,843 1707.6,893 1708.4,901 1709.3,862 1710.1,903 1710.9,927 1711.8,919 1712.6,934 1713.4,962 1714.3,915 1715.1,881 1715.9,841 1716.8,953 1717.6,934 1718.4,960 1719.3,874 1720.1,905 1720.9,856 1721.8,864 1722.6,851 1723.5,908 1724.3,933 1725.1,948 1726.0,915 1726.8,899 1727.6,988 1728.5,965 1729.3,934 1730.1,914 1731.0,942 1731.8,873 1732.6,849 1733.5,932 1734.3,909 1735.1,951 1736.0,875 1736.8,910 1737.6,857 1738.5,877 1739.3,918 1740.2,907 1741.0,872 1741.8,850 1742.7,900 1743.5,865 1744.3,849 1745.2,909 1746.0,865" fill="none" stroke="#2a2a2a" stroke-width="2.6" stroke-linejoin="miter" stroke-miterlimit="1.2"/>
<polyline points="1042.0,1223 1042.8,1142 1043.7,1108 1044.5,1035 1045.3,1029 1046.2,1086 1047.0,1034 1047.8,984 1048.7,1090 1049.5,1015 1050.4,1024 1051.2,1072 1052.0,936 1052.9,990 1053.7,963 1054.5,1049 1055.4,957 1056.2,1086 1057.0,995 1057.9,991 1058.7,1035 1059.5,985 1060.4,954 1061.2,968 1062.0,994 1062.9,953 1063.7,1000 1064.5,955 1065.4,980 1066.2,981 1067.1,1055 1067.9,1082 1068.7,1058 1069.6,982 1070.4,956 1071.2,1038 1072.1,1048 1072.9,1038 1073.7,967 1074.6,1017 1075.4,987 1076.2,1047 1077.1,1044 1077.9,1002 1078.7,980 1079.6,1062 1080.4,1005 1081.3,1039 1082.1,1028 1082.9,1040 1083.8,1041 1084.6,983 1085.4,981 1086.3,1029 1087.1,868 1087.9,997 1088.8,981 1089.6,1016 1090.4,998 1091.3,985 1092.1,939 1092.9,975 1093.8,981 1094.6,999 1095.4,1002 1096.3,966 1097.1,1012 1098.0,967 1098.8,1004 1099.6,1004 1100.5,1052 1101.3,994 1102.1,1057 1103.0,977 1103.8,948 1104.6,1015 1105.5,947 1106.3,1003 1107.1,1011 1108.0,997 1108.8,1014 1109.6,1011 1110.5,1045 1111.3,974 1112.1,904 1113.0,962 1113.8,1008 1114.7,1021 1115.5,1022 1116.3,994 1117.2,953 1118.0,1040 1118.8,956 1119.7,932 1120.5,889 1121.3,1060 1122.2,986 1123.0,914 1123.8,1022 1124.7,1021 1125.5,929 1126.3,1021 1127.2,991 1128.0,1020 1128.9,1055 1129.7,979 1130.5,1089 1131.4,987 1132.2,964 1133.0,1025 1133.9,962 1134.7,967 1135.5,1010 1136.4,953 1137.2,930 1138.0,991 1138.9,988 1139.7,963 1140.5,1029 1141.4,938 1142.2,1020 1143.0,951 1143.9,1008 1144.7,950 1145.6,1014 1146.4,981 1147.2,967 1148.1,992 1148.9,978 1149.7,1012 1150.6,956 1151.4,1007 1152.2,970 1153.1,948 1153.9,955 1154.7,938 1155.6,990 1156.4,983 1157.2,980 1158.1,909 1158.9,959 1159.8,1041 1160.6,1031 1161.4,981 1162.3,976 1163.1,989 1163.9,1011 1164.8,1028 1165.6,994 1166.4,997 1167.3,970 1168.1,993 1168.9,1047 1169.8,947 1170.6,1004 1171.4,935 1172.3,947 1173.1,909 1173.9,951 1174.8,1035 1175.6,1030 1176.5,1012 1177.3,991 1178.1,1024 1179.0,941 1179.8,923 1180.6,946 1181.5,967 1182.3,910 1183.1,941 1184.0,1052 1184.8,976 1185.6,982 1186.5,951 1187.3,1005 1188.1,994 1189.0,975 1189.8,971 1190.7,886 1191.5,905 1192.3,942 1193.2,946 1194.0,968 1194.8,967 1195.7,1052 1196.5,1016 1197.3,927 1198.2,992 1199.0,973 1199.8,972 1200.7,962 1201.5,990 1202.3,1047 1203.2,962 1204.0,982 1204.8,972 1205.7,906 1206.5,969 1207.4,948 1208.2,997 1209.0,995 1209.9,1064 1210.7,976 1211.5,960 1212.4,988 1213.2,1045 1214.0,981 1214.9,990 1215.7,999 1216.5,1004 1217.4,960 1218.2,954 1219.0,965 1219.9,973 1220.7,990 1221.5,946 1222.4,951 1223.2,994 1224.1,977 1224.9,972 1225.7,925 1226.6,1051 1227.4,965 1228.2,969 1229.1,946 1229.9,1003 1230.7,1014 1231.6,969 1232.4,968 1233.2,960 1234.1,1068 1234.9,1005 1235.7,962 1236.6,993 1237.4,1026 1238.3,993 1239.1,999 1239.9,987 1240.8,969 1241.6,998 1242.4,1032 1243.3,988 1244.1,967 1244.9,947 1245.8,968 1246.6,968 1247.4,942 1248.3,1005 1249.1,995 1249.9,1030 1250.8,995 1251.6,961 1252.4,1011 1253.3,999 1254.1,1037 1255.0,944 1255.8,969 1256.6,996 1257.5,1050 1258.3,1007 1259.1,932 1260.0,946 1260.8,991 1261.6,920 1262.5,953 1263.3,966 1264.1,952 1265.0,981 1265.8,1005 1266.6,981 1267.5,921 1268.3,1022 1269.2,1010 1270.0,939 1270.8,962 1271.7,932 1272.5,1038 1273.3,958 1274.2,1003 1275.0,1008 1275.8,1030 1276.7,989 1277.5,963 1278.3,994 1279.2,1006 1280.0,963 1280.8,977 1281.7,921 1282.5,1032 1283.3,949 1284.2,1016 1285.0,1015 1285.9,1022 1286.7,1014 1287.5,957 1288.4,994 1289.2,942 1290.0,974 1290.9,960 1291.7,1081 1292.5,993 1293.4,1020 1294.2,940 1295.0,1042 1295.9,973 1296.7,963 1297.5,964 1298.4,912 1299.2,912 1300.0,983 1300.9,928 1301.7,948 1302.6,1041 1303.4,959 1304.2,1051 1305.1,982 1305.9,936 1306.7,1001 1307.6,1028 1308.4,1009 1309.2,938 1310.1,927 1310.9,998 1311.7,1047 1312.6,1038 1313.4,956 1314.2,963 1315.1,973 1315.9,1008 1316.8,993 1317.6,988 1318.4,972 1319.3,872 1320.1,922 1320.9,975 1321.8,914 1322.6,1051 1323.4,942 1324.3,998 1325.1,1002 1325.9,1005 1326.8,936 1327.6,979 1328.4,1038 1329.3,985 1330.1,1017 1330.9,891 1331.8,992 1332.6,970 1333.5,954 1334.3,895 1335.1,948 1336.0,974 1336.8,962 1337.6,928 1338.5,1022 1339.3,1026 1340.1,960 1341.0,1032 1341.8,928 1342.6,982 1343.5,1032 1344.3,990 1345.1,963 1346.0,978 1346.8,960 1347.7,951 1348.5,946 1349.3,979 1350.2,971 1351.0,987 1351.8,952 1352.7,986 1353.5,1010 1354.3,956 1355.2,1036 1356.0,933 1356.8,932 1357.7,937 1358.5,915 1359.3,900 1360.2,925 1361.0,963 1361.8,940 1362.7,1024 1363.5,965 1364.4,959 1365.2,963 1366.0,989 1366.9,971 1367.7,988 1368.5,995 1369.4,1026 1370.2,932 1371.0,994 1371.9,962 1372.7,973 1373.5,932 1374.4,992 1375.2,987 1376.0,980 1376.9,935 1377.7,994 1378.6,930 1379.4,910 1380.2,995 1381.1,960 1381.9,895 1382.7,926 1383.6,953 1384.4,989 1385.2,939 1386.1,920 1386.9,921 1387.7,913 1388.6,957 1389.4,934 1390.2,990 1391.1,955 1391.9,1003 1392.7,955 1393.6,955 1394.4,963 1395.3,958 1396.1,1028 1396.9,938 1397.8,949 1398.6,936 1399.4,971 1400.3,916 1401.1,1004 1401.9,922 1402.8,947 1403.6,960 1404.4,962 1405.3,927 1406.1,1008 1406.9,1045 1407.8,972 1408.6,990 1409.4,989 1410.3,1061 1411.1,966 1412.0,979 1412.8,949 1413.6,971 1414.5,964 1415.3,953 1416.1,968 1417.0,1001 1417.8,951 1418.6,986 1419.5,947 1420.3,1013 1421.1,918 1422.0,905 1422.8,987 1423.6,1013 1424.5,936 1425.3,876 1426.2,987 1427.0,981 1427.8,941 1428.7,1016 1429.5,1015 1430.3,935 1431.2,939 1432.0,980 1432.8,972 1433.7,1002 1434.5,969 1435.3,1042 1436.2,937 1437.0,928 1437.8,940 1438.7,931 1439.5,949 1440.3,935 1441.2,1002 1442.0,1008 1442.9,1020 1443.7,938 1444.5,919 1445.4,940 1446.2,957 1447.0,944 1447.9,966 1448.7,969 1449.5,972 1450.4,919 1451.2,984 1452.0,908 1452.9,855 1453.7,934 1454.5,987 1455.4,946 1456.2,880 1457.1,936 1457.9,997 1458.7,958 1459.6,950 1460.4,901 1461.2,929 1462.1,917 1462.9,1006 1463.7,955 1464.6,969 1465.4,887 1466.2,942 1467.1,971 1467.9,1004 1468.7,1007 1469.6,915 1470.4,1037 1471.2,928 1472.1,920 1472.9,913 1473.8,892 1474.6,922 1475.4,919 1476.3,923 1477.1,923 1477.9,942 1478.8,973 1479.6,923 1480.4,913 1481.3,976 1482.1,936 1482.9,966 1483.8,907 1484.6,946 1485.4,913 1486.3,900 1487.1,926 1488.0,938 1488.8,951 1489.6,895 1490.5,968 1491.3,983 1492.1,948 1493.0,914 1493.8,902 1494.6,976 1495.5,905 1496.3,990 1497.1,872 1498.0,879 1498.8,953 1499.6,903 1500.5,967 1501.3,905 1502.1,913 1503.0,941 1503.8,974 1504.7,965 1505.5,920 1506.3,911 1507.2,960 1508.0,908 1508.8,907 1509.7,908 1510.5,1064 1511.3,1006 1512.2,950 1513.0,925 1513.8,970 1514.7,896 1515.5,950 1516.3,996 1517.2,968 1518.0,910 1518.8,932 1519.7,929 1520.5,992 1521.4,986 1522.2,954 1523.0,1029 1523.9,933 1524.7,988 1525.5,965 1526.4,948 1527.2,930 1528.0,969 1528.9,995 1529.7,873 1530.5,945 1531.4,989 1532.2,918 1533.0,915 1533.9,995 1534.7,941 1535.6,926 1536.4,963 1537.2,958 1538.1,971 1538.9,967 1539.7,1004 1540.6,974 1541.4,988 1542.2,919 1543.1,941 1543.9,925 1544.7,999 1545.6,963 1546.4,998 1547.2,938 1548.1,909 1548.9,968 1549.7,953 1550.6,905 1551.4,951 1552.3,935 1553.1,1021 1553.9,962 1554.8,992 1555.6,996 1556.4,999 1557.3,972 1558.1,969 1558.9,967 1559.8,883 1560.6,936 1561.4,903 1562.3,896 1563.1,952 1563.9,876 1564.8,935 1565.6,972 1566.5,934 1567.3,959 1568.1,901 1569.0,929 1569.8,839 1570.6,894 1571.5,912 1572.3,1017 1573.1,1020 1574.0,865 1574.8,925 1575.6,918 1576.5,1002 1577.3,987 1578.1,936 1579.0,975 1579.8,985 1580.6,916 1581.5,984 1582.3,975 1583.2,979 1584.0,879 1584.8,941 1585.7,839 1586.5,958 1587.3,921 1588.2,999 1589.0,1007 1589.8,877 1590.7,1017 1591.5,935 1592.3,985 1593.2,969 1594.0,937 1594.8,944 1595.7,928 1596.5,1000 1597.3,950 1598.2,906 1599.0,984 1599.9,944 1600.7,973 1601.5,939 1602.4,973 1603.2,919 1604.0,925 1604.9,959 1605.7,993 1606.5,956 1607.4,939 1608.2,1056 1609.0,943 1609.9,848 1610.7,964 1611.5,922 1612.4,890 1613.2,973 1614.1,974 1614.9,926 1615.7,936 1616.6,967 1617.4,1003 1618.2,925 1619.1,1015 1619.9,974 1620.7,964 1621.6,1001 1622.4,932 1623.2,962 1624.1,944 1624.9,831 1625.7,937 1626.6,951 1627.4,953 1628.2,1002 1629.1,935 1629.9,971 1630.8,963 1631.6,963 1632.4,872 1633.3,929 1634.1,936 1634.9,1013 1635.8,936 1636.6,963 1637.4,951 1638.3,891 1639.1,901 1639.9,956 1640.8,968 1641.6,995 1642.4,928 1643.3,902 1644.1,943 1645.0,882 1645.8,989 1646.6,926 1647.5,948 1648.3,1027 1649.1,961 1650.0,887 1650.8,957 1651.6,916 1652.5,887 1653.3,913 1654.1,887 1655.0,965 1655.8,909 1656.6,930 1657.5,984 1658.3,938 1659.1,934 1660.0,955 1660.8,934 1661.7,944 1662.5,933 1663.3,970 1664.2,916 1665.0,903 1665.8,938 1666.7,866 1667.5,948 1668.3,967 1669.2,1018 1670.0,950 1670.8,990 1671.7,878 1672.5,997 1673.3,969 1674.2,990 1675.0,925 1675.9,957 1676.7,950 1677.5,926 1678.4,924 1679.2,992 1680.0,876 1680.9,938 1681.7,949 1682.5,992 1683.4,904 1684.2,906 1685.0,881 1685.9,963 1686.7,950 1687.5,948 1688.4,941 1689.2,873 1690.0,982 1690.9,988 1691.7,884 1692.6,901 1693.4,905 1694.2,915 1695.1,1021 1695.9,982 1696.7,907 1697.6,1023 1698.4,959 1699.2,946 1700.1,911 1700.9,915 1701.7,935 1702.6,1066 1703.4,911 1704.2,918 1705.1,971 1705.9,947 1706.7,901 1707.6,1038 1708.4,921 1709.3,908 1710.1,932 1710.9,942 1711.8,969 1712.6,985 1713.4,955 1714.3,923 1715.1,1003 1715.9,939 1716.8,936 1717.6,980 1718.4,989 1719.3,916 1720.1,921 1720.9,943 1721.8,910 1722.6,936 1723.5,984 1724.3,973 1725.1,860 1726.0,997 1726.8,981 1727.6,895 1728.5,1002 1729.3,896 1730.1,1003 1731.0,916 1731.8,965 1732.6,952 1733.5,976 1734.3,899 1735.1,1001 1736.0,978 1736.8,961 1737.6,1005 1738.5,945 1739.3,1021 1740.2,1004 1741.0,1028 1741.8,919 1742.7,964 1743.5,886 1744.3,965 1745.2,920 1746.0,927" fill="none" stroke="#d7301f" stroke-width="2.6" stroke-linejoin="miter" stroke-miterlimit="1.2"/>
<polyline points="1042.0,1223 1042.8,1104 1043.7,1015 1044.5,989 1045.3,921 1046.2,919 1047.0,926 1047.8,916 1048.7,879 1049.5,888 1050.4,897 1051.2,900 1052.0,961 1052.9,912 1053.7,895 1054.5,891 1055.4,929 1056.2,961 1057.0,895 1057.9,935 1058.7,905 1059.5,795 1060.4,962 1061.2,931 1062.0,849 1062.9,818 1063.7,901 1064.5,868 1065.4,907 1066.2,859 1067.1,937 1067.9,863 1068.7,905 1069.6,920 1070.4,885 1071.2,921 1072.1,905 1072.9,902 1073.7,893 1074.6,799 1075.4,842 1076.2,948 1077.1,868 1077.9,858 1078.7,878 1079.6,893 1080.4,981 1081.3,859 1082.1,876 1082.9,916 1083.8,828 1084.6,835 1085.4,836 1086.3,866 1087.1,940 1087.9,955 1088.8,924 1089.6,966 1090.4,814 1091.3,927 1092.1,862 1092.9,910 1093.8,888 1094.6,844 1095.4,935 1096.3,953 1097.1,915 1098.0,868 1098.8,965 1099.6,791 1100.5,894 1101.3,842 1102.1,855 1103.0,916 1103.8,872 1104.6,934 1105.5,902 1106.3,937 1107.1,926 1108.0,918 1108.8,884 1109.6,892 1110.5,848 1111.3,896 1112.1,918 1113.0,875 1113.8,922 1114.7,873 1115.5,909 1116.3,855 1117.2,909 1118.0,955 1118.8,910 1119.7,828 1120.5,910 1121.3,866 1122.2,938 1123.0,908 1123.8,913 1124.7,878 1125.5,896 1126.3,866 1127.2,909 1128.0,929 1128.9,842 1129.7,892 1130.5,922 1131.4,846 1132.2,864 1133.0,901 1133.9,905 1134.7,917 1135.5,935 1136.4,955 1137.2,891 1138.0,915 1138.9,902 1139.7,841 1140.5,875 1141.4,918 1142.2,900 1143.0,912 1143.9,890 1144.7,876 1145.6,918 1146.4,808 1147.2,825 1148.1,896 1148.9,899 1149.7,910 1150.6,904 1151.4,898 1152.2,847 1153.1,912 1153.9,892 1154.7,838 1155.6,824 1156.4,871 1157.2,917 1158.1,901 1158.9,928 1159.8,864 1160.6,857 1161.4,866 1162.3,882 1163.1,893 1163.9,915 1164.8,874 1165.6,839 1166.4,855 1167.3,904 1168.1,889 1168.9,906 1169.8,864 1170.6,872 1171.4,858 1172.3,846 1173.1,874 1173.9,946 1174.8,884 1175.6,879 1176.5,814 1177.3,913 1178.1,877 1179.0,935 1179.8,904 1180.6,931 1181.5,859 1182.3,915 1183.1,920 1184.0,868 1184.8,925 1185.6,823 1186.5,893 1187.3,858 1188.1,905 1189.0,797 1189.8,918 1190.7,943 1191.5,835 1192.3,918 1193.2,842 1194.0,913 1194.8,933 1195.7,844 1196.5,953 1197.3,894 1198.2,891 1199.0,914 1199.8,909 1200.7,882 1201.5,913 1202.3,908 1203.2,855 1204.0,910 1204.8,908 1205.7,886 1206.5,915 1207.4,870 1208.2,805 1209.0,905 1209.9,897 1210.7,872 1211.5,863 1212.4,985 1213.2,902 1214.0,846 1214.9,896 1215.7,913 1216.5,830 1217.4,912 1218.2,805 1219.0,871 1219.9,932 1220.7,924 1221.5,906 1222.4,921 1223.2,855 1224.1,878 1224.9,909 1225.7,814 1226.6,874 1227.4,889 1228.2,910 1229.1,899 1229.9,912 1230.7,906 1231.6,855 1232.4,860 1233.2,867 1234.1,849 1234.9,938 1235.7,965 1236.6,934 1237.4,895 1238.3,937 1239.1,886 1239.9,903 1240.8,935 1241.6,856 1242.4,873 1243.3,909 1244.1,1002 1244.9,907 1245.8,921 1246.6,950 1247.4,867 1248.3,798 1249.1,846 1249.9,855 1250.8,952 1251.6,862 1252.4,868 1253.3,877 1254.1,880 1255.0,888 1255.8,877 1256.6,924 1257.5,884 1258.3,817 1259.1,926 1260.0,906 1260.8,871 1261.6,889 1262.5,860 1263.3,978 1264.1,926 1265.0,892 1265.8,845 1266.6,896 1267.5,898 1268.3,882 1269.2,869 1270.0,956 1270.8,852 1271.7,911 1272.5,927 1273.3,848 1274.2,889 1275.0,910 1275.8,865 1276.7,810 1277.5,897 1278.3,957 1279.2,887 1280.0,883 1280.8,853 1281.7,875 1282.5,897 1283.3,826 1284.2,832 1285.0,866 1285.9,868 1286.7,886 1287.5,887 1288.4,937 1289.2,881 1290.0,884 1290.9,859 1291.7,848 1292.5,877 1293.4,985 1294.2,918 1295.0,827 1295.9,941 1296.7,883 1297.5,836 1298.4,897 1299.2,853 1300.0,869 1300.9,852 1301.7,894 1302.6,809 1303.4,919 1304.2,947 1305.1,869 1305.9,870 1306.7,881 1307.6,872 1308.4,865 1309.2,895 1310.1,927 1310.9,871 1311.7,910 1312.6,887 1313.4,856 1314.2,873 1315.1,806 1315.9,835 1316.8,888 1317.6,901 1318.4,913 1319.3,929 1320.1,828 1320.9,888 1321.8,820 1322.6,883 1323.4,846 1324.3,901 1325.1,875 1325.9,879 1326.8,855 1327.6,876 1328.4,936 1329.3,912 1330.1,883 1330.9,823 1331.8,823 1332.6,874 1333.5,881 1334.3,881 1335.1,863 1336.0,838 1336.8,807 1337.6,905 1338.5,899 1339.3,924 1340.1,822 1341.0,916 1341.8,905 1342.6,846 1343.5,851 1344.3,836 1345.1,846 1346.0,869 1346.8,847 1347.7,920 1348.5,876 1349.3,845 1350.2,872 1351.0,839 1351.8,791 1352.7,888 1353.5,848 1354.3,921 1355.2,875 1356.0,936 1356.8,904 1357.7,823 1358.5,940 1359.3,855 1360.2,879 1361.0,838 1361.8,860 1362.7,980 1363.5,870 1364.4,735 1365.2,944 1366.0,882 1366.9,861 1367.7,905 1368.5,902 1369.4,863 1370.2,936 1371.0,890 1371.9,912 1372.7,879 1373.5,875 1374.4,877 1375.2,826 1376.0,850 1376.9,912 1377.7,873 1378.6,909 1379.4,879 1380.2,842 1381.1,910 1381.9,844 1382.7,839 1383.6,860 1384.4,908 1385.2,915 1386.1,840 1386.9,843 1387.7,862 1388.6,837 1389.4,872 1390.2,897 1391.1,861 1391.9,813 1392.7,808 1393.6,804 1394.4,839 1395.3,877 1396.1,812 1396.9,886 1397.8,887 1398.6,958 1399.4,828 1400.3,868 1401.1,891 1401.9,879 1402.8,892 1403.6,892 1404.4,897 1405.3,865 1406.1,874 1406.9,805 1407.8,947 1408.6,814 1409.4,874 1410.3,873 1411.1,832 1412.0,802 1412.8,877 1413.6,815 1414.5,914 1415.3,982 1416.1,926 1417.0,762 1417.8,876 1418.6,869 1419.5,852 1420.3,902 1421.1,847 1422.0,901 1422.8,842 1423.6,836 1424.5,906 1425.3,924 1426.2,849 1427.0,937 1427.8,866 1428.7,835 1429.5,848 1430.3,848 1431.2,901 1432.0,909 1432.8,878 1433.7,924 1434.5,836 1435.3,886 1436.2,865 1437.0,773 1437.8,876 1438.7,840 1439.5,912 1440.3,846 1441.2,917 1442.0,892 1442.9,816 1443.7,929 1444.5,909 1445.4,898 1446.2,881 1447.0,951 1447.9,872 1448.7,932 1449.5,892 1450.4,857 1451.2,841 1452.0,898 1452.9,874 1453.7,820 1454.5,876 1455.4,891 1456.2,876 1457.1,801 1457.9,897 1458.7,860 1459.6,914 1460.4,855 1461.2,842 1462.1,873 1462.9,869 1463.7,952 1464.6,828 1465.4,824 1466.2,873 1467.1,883 1467.9,800 1468.7,804 1469.6,840 1470.4,865 1471.2,857 1472.1,887 1472.9,865 1473.8,843 1474.6,872 1475.4,872 1476.3,880 1477.1,747 1477.9,859 1478.8,883 1479.6,920 1480.4,850 1481.3,865 1482.1,790 1482.9,900 1483.8,910 1484.6,831 1485.4,872 1486.3,836 1487.1,915 1488.0,855 1488.8,862 1489.6,865 1490.5,851 1491.3,877 1492.1,939 1493.0,878 1493.8,845 1494.6,927 1495.5,939 1496.3,909 1497.1,877 1498.0,875 1498.8,899 1499.6,911 1500.5,982 1501.3,953 1502.1,822 1503.0,908 1503.8,943 1504.7,904 1505.5,869 1506.3,844 1507.2,897 1508.0,902 1508.8,892 1509.7,852 1510.5,792 1511.3,932 1512.2,829 1513.0,865 1513.8,823 1514.7,927 1515.5,859 1516.3,885 1517.2,980 1518.0,921 1518.8,895 1519.7,815 1520.5,923 1521.4,913 1522.2,927 1523.0,897 1523.9,821 1524.7,857 1525.5,920 1526.4,915 1527.2,906 1528.0,986 1528.9,921 1529.7,891 1530.5,881 1531.4,808 1532.2,865 1533.0,912 1533.9,817 1534.7,902 1535.6,924 1536.4,872 1537.2,909 1538.1,847 1538.9,956 1539.7,878 1540.6,805 1541.4,903 1542.2,874 1543.1,969 1543.9,935 1544.7,884 1545.6,946 1546.4,868 1547.2,832 1548.1,931 1548.9,934 1549.7,876 1550.6,934 1551.4,956 1552.3,854 1553.1,755 1553.9,907 1554.8,885 1555.6,916 1556.4,904 1557.3,883 1558.1,845 1558.9,853 1559.8,881 1560.6,863 1561.4,931 1562.3,917 1563.1,869 1563.9,936 1564.8,876 1565.6,879 1566.5,929 1567.3,900 1568.1,871 1569.0,934 1569.8,971 1570.6,844 1571.5,894 1572.3,826 1573.1,896 1574.0,1001 1574.8,895 1575.6,883 1576.5,891 1577.3,851 1578.1,895 1579.0,861 1579.8,858 1580.6,921 1581.5,889 1582.3,917 1583.2,879 1584.0,906 1584.8,923 1585.7,886 1586.5,956 1587.3,900 1588.2,919 1589.0,889 1589.8,945 1590.7,881 1591.5,854 1592.3,901 1593.2,878 1594.0,865 1594.8,958 1595.7,898 1596.5,931 1597.3,849 1598.2,864 1599.0,887 1599.9,963 1600.7,886 1601.5,907 1602.4,820 1603.2,869 1604.0,881 1604.9,933 1605.7,921 1606.5,830 1607.4,942 1608.2,925 1609.0,925 1609.9,849 1610.7,970 1611.5,821 1612.4,905 1613.2,902 1614.1,925 1614.9,914 1615.7,880 1616.6,962 1617.4,819 1618.2,876 1619.1,894 1619.9,952 1620.7,916 1621.6,826 1622.4,982 1623.2,890 1624.1,949 1624.9,983 1625.7,880 1626.6,918 1627.4,837 1628.2,873 1629.1,960 1629.9,897 1630.8,948 1631.6,907 1632.4,942 1633.3,942 1634.1,986 1634.9,928 1635.8,905 1636.6,921 1637.4,874 1638.3,849 1639.1,788 1639.9,926 1640.8,913 1641.6,894 1642.4,943 1643.3,919 1644.1,890 1645.0,932 1645.8,923 1646.6,935 1647.5,946 1648.3,912 1649.1,921 1650.0,897 1650.8,860 1651.6,894 1652.5,907 1653.3,860 1654.1,903 1655.0,919 1655.8,870 1656.6,890 1657.5,917 1658.3,910 1659.1,965 1660.0,880 1660.8,996 1661.7,903 1662.5,984 1663.3,923 1664.2,1000 1665.0,907 1665.8,901 1666.7,858 1667.5,889 1668.3,931 1669.2,924 1670.0,926 1670.8,911 1671.7,906 1672.5,945 1673.3,917 1674.2,886 1675.0,952 1675.9,912 1676.7,896 1677.5,916 1678.4,883 1679.2,877 1680.0,871 1680.9,957 1681.7,851 1682.5,915 1683.4,850 1684.2,847 1685.0,948 1685.9,903 1686.7,935 1687.5,912 1688.4,906 1689.2,937 1690.0,921 1690.9,960 1691.7,945 1692.6,885 1693.4,866 1694.2,970 1695.1,972 1695.9,893 1696.7,955 1697.6,855 1698.4,849 1699.2,953 1700.1,898 1700.9,855 1701.7,874 1702.6,967 1703.4,992 1704.2,901 1705.1,973 1705.9,865 1706.7,802 1707.6,899 1708.4,972 1709.3,925 1710.1,898 1710.9,949 1711.8,906 1712.6,931 1713.4,875 1714.3,950 1715.1,878 1715.9,885 1716.8,986 1717.6,919 1718.4,990 1719.3,855 1720.1,900 1720.9,914 1721.8,955 1722.6,974 1723.5,943 1724.3,958 1725.1,936 1726.0,971 1726.8,967 1727.6,937 1728.5,971 1729.3,922 1730.1,906 1731.0,890 1731.8,904 1732.6,943 1733.5,836 1734.3,929 1735.1,889 1736.0,949 1736.8,876 1737.6,917 1738.5,862 1739.3,898 1740.2,923 1741.0,987 1741.8,937 1742.7,929 1743.5,862 1744.3,941 1745.2,876 1746.0,955" fill="none" stroke="#52a540" stroke-width="2.6" stroke-linejoin="miter" stroke-miterlimit="1.2"/>
<polyline points="1042.0,1223 1042.8,1097 1043.7,1071 1044.5,994 1045.3,1013 1046.2,934 1047.0,956 1047.8,1008 1048.7,959 1049.5,961 1050.4,969 1051.2,928 1052.0,885 1052.9,889 1053.7,960 1054.5,867 1055.4,985 1056.2,987 1057.0,966 1057.9,960 1058.7,1017 1059.5,903 1060.4,954 1061.2,945 1062.0,892 1062.9,887 1063.7,907 1064.5,870 1065.4,882 1066.2,829 1067.1,941 1067.9,958 1068.7,935 1069.6,940 1070.4,958 1071.2,905 1072.1,974 1072.9,909 1073.7,897 1074.6,925 1075.4,831 1076.2,908 1077.1,953 1077.9,976 1078.7,903 1079.6,887 1080.4,987 1081.3,968 1082.1,1014 1082.9,974 1083.8,958 1084.6,941 1085.4,882 1086.3,865 1087.1,889 1087.9,919 1088.8,890 1089.6,849 1090.4,996 1091.3,846 1092.1,931 1092.9,876 1093.8,908 1094.6,1024 1095.4,953 1096.3,894 1097.1,976 1098.0,886 1098.8,978 1099.6,928 1100.5,904 1101.3,923 1102.1,887 1103.0,882 1103.8,922 1104.6,897 1105.5,918 1106.3,943 1107.1,939 1108.0,927 1108.8,901 1109.6,883 1110.5,928 1111.3,893 1112.1,929 1113.0,886 1113.8,906 1114.7,897 1115.5,924 1116.3,978 1117.2,905 1118.0,920 1118.8,890 1119.7,916 1120.5,907 1121.3,872 1122.2,922 1123.0,872 1123.8,885 1124.7,939 1125.5,874 1126.3,894 1127.2,903 1128.0,940 1128.9,868 1129.7,862 1130.5,941 1131.4,947 1132.2,972 1133.0,964 1133.9,900 1134.7,925 1135.5,966 1136.4,967 1137.2,825 1138.0,943 1138.9,944 1139.7,956 1140.5,967 1141.4,950 1142.2,920 1143.0,860 1143.9,924 1144.7,899 1145.6,949 1146.4,887 1147.2,891 1148.1,881 1148.9,922 1149.7,965 1150.6,920 1151.4,991 1152.2,979 1153.1,856 1153.9,845 1154.7,886 1155.6,900 1156.4,836 1157.2,937 1158.1,867 1158.9,951 1159.8,906 1160.6,919 1161.4,852 1162.3,928 1163.1,869 1163.9,906 1164.8,918 1165.6,959 1166.4,913 1167.3,896 1168.1,953 1168.9,934 1169.8,921 1170.6,956 1171.4,934 1172.3,958 1173.1,855 1173.9,924 1174.8,969 1175.6,869 1176.5,896 1177.3,921 1178.1,946 1179.0,945 1179.8,862 1180.6,950 1181.5,911 1182.3,906 1183.1,903 1184.0,880 1184.8,918 1185.6,950 1186.5,934 1187.3,883 1188.1,870 1189.0,923 1189.8,914 1190.7,905 1191.5,891 1192.3,904 1193.2,885 1194.0,932 1194.8,980 1195.7,849 1196.5,929 1197.3,889 1198.2,956 1199.0,985 1199.8,834 1200.7,837 1201.5,821 1202.3,960 1203.2,960 1204.0,899 1204.8,883 1205.7,882 1206.5,880 1207.4,795 1208.2,895 1209.0,871 1209.9,964 1210.7,911 1211.5,886 1212.4,967 1213.2,878 1214.0,891 1214.9,937 1215.7,899 1216.5,879 1217.4,918 1218.2,842 1219.0,842 1219.9,949 1220.7,843 1221.5,995 1222.4,953 1223.2,932 1224.1,895 1224.9,919 1225.7,940 1226.6,912 1227.4,926 1228.2,909 1229.1,845 1229.9,881 1230.7,918 1231.6,884 1232.4,836 1233.2,879 1234.1,875 1234.9,928 1235.7,800 1236.6,965 1237.4,952 1238.3,943 1239.1,940 1239.9,866 1240.8,911 1241.6,973 1242.4,863 1243.3,935 1244.1,854 1244.9,817 1245.8,926 1246.6,822 1247.4,840 1248.3,920 1249.1,938 1249.9,944 1250.8,834 1251.6,889 1252.4,874 1253.3,1002 1254.1,941 1255.0,917 1255.8,881 1256.6,853 1257.5,946 1258.3,906 1259.1,904 1260.0,899 1260.8,832 1261.6,871 1262.5,903 1263.3,932 1264.1,974 1265.0,919 1265.8,873 1266.6,842 1267.5,864 1268.3,959 1269.2,944 1270.0,916 1270.8,918 1271.7,971 1272.5,914 1273.3,954 1274.2,846 1275.0,858 1275.8,882 1276.7,891 1277.5,926 1278.3,910 1279.2,974 1280.0,827 1280.8,938 1281.7,907 1282.5,915 1283.3,897 1284.2,891 1285.0,852 1285.9,883 1286.7,983 1287.5,961 1288.4,950 1289.2,917 1290.0,876 1290.9,977 1291.7,875 1292.5,890 1293.4,885 1294.2,851 1295.0,842 1295.9,893 1296.7,829 1297.5,906 1298.4,985 1299.2,865 1300.0,890 1300.9,929 1301.7,933 1302.6,967 1303.4,934 1304.2,922 1305.1,867 1305.9,931 1306.7,895 1307.6,893 1308.4,806 1309.2,895 1310.1,944 1310.9,922 1311.7,945 1312.6,905 1313.4,834 1314.2,961 1315.1,872 1315.9,955 1316.8,830 1317.6,863 1318.4,935 1319.3,841 1320.1,876 1320.9,935 1321.8,928 1322.6,986 1323.4,924 1324.3,901 1325.1,970 1325.9,863 1326.8,939 1327.6,873 1328.4,941 1329.3,908 1330.1,848 1330.9,980 1331.8,946 1332.6,893 1333.5,871 1334.3,882 1335.1,869 1336.0,894 1336.8,889 1337.6,907 1338.5,875 1339.3,977 1340.1,964 1341.0,977 1341.8,881 1342.6,903 1343.5,923 1344.3,893 1345.1,890 1346.0,875 1346.8,891 1347.7,877 1348.5,847 1349.3,952 1350.2,913 1351.0,952 1351.8,929 1352.7,986 1353.5,959 1354.3,879 1355.2,932 1356.0,918 1356.8,899 1357.7,871 1358.5,897 1359.3,886 1360.2,910 1361.0,931 1361.8,796 1362.7,873 1363.5,869 1364.4,946 1365.2,948 1366.0,925 1366.9,945 1367.7,924 1368.5,950 1369.4,886 1370.2,880 1371.0,992 1371.9,925 1372.7,913 1373.5,934 1374.4,936 1375.2,877 1376.0,891 1376.9,966 1377.7,917 1378.6,909 1379.4,815 1380.2,853 1381.1,955 1381.9,929 1382.7,891 1383.6,948 1384.4,929 1385.2,835 1386.1,929 1386.9,883 1387.7,881 1388.6,930 1389.4,955 1390.2,915 1391.1,903 1391.9,925 1392.7,896 1393.6,897 1394.4,872 1395.3,843 1396.1,937 1396.9,921 1397.8,910 1398.6,906 1399.4,939 1400.3,934 1401.1,837 1401.9,962 1402.8,891 1403.6,891 1404.4,937 1405.3,918 1406.1,872 1406.9,952 1407.8,897 1408.6,840 1409.4,898 1410.3,881 1411.1,894 1412.0,867 1412.8,917 1413.6,923 1414.5,869 1415.3,960 1416.1,906 1417.0,870 1417.8,924 1418.6,870 1419.5,894 1420.3,894 1421.1,931 1422.0,962 1422.8,883 1423.6,862 1424.5,898 1425.3,967 1426.2,901 1427.0,916 1427.8,881 1428.7,984 1429.5,827 1430.3,881 1431.2,858 1432.0,891 1432.8,938 1433.7,964 1434.5,849 1435.3,868 1436.2,875 1437.0,865 1437.8,887 1438.7,876 1439.5,866 1440.3,976 1441.2,928 1442.0,952 1442.9,920 1443.7,895 1444.5,882 1445.4,933 1446.2,911 1447.0,889 1447.9,906 1448.7,973 1449.5,836 1450.4,930 1451.2,923 1452.0,913 1452.9,863 1453.7,911 1454.5,914 1455.4,938 1456.2,871 1457.1,928 1457.9,1019 1458.7,916 1459.6,928 1460.4,960 1461.2,859 1462.1,961 1462.9,891 1463.7,824 1464.6,891 1465.4,890 1466.2,944 1467.1,888 1467.9,866 1468.7,937 1469.6,898 1470.4,916 1471.2,954 1472.1,872 1472.9,890 1473.8,874 1474.6,869 1475.4,896 1476.3,872 1477.1,870 1477.9,985 1478.8,915 1479.6,951 1480.4,903 1481.3,937 1482.1,850 1482.9,908 1483.8,881 1484.6,903 1485.4,927 1486.3,916 1487.1,794 1488.0,892 1488.8,933 1489.6,890 1490.5,860 1491.3,902 1492.1,942 1493.0,933 1493.8,943 1494.6,907 1495.5,898 1496.3,825 1497.1,902 1498.0,942 1498.8,934 1499.6,990 1500.5,935 1501.3,868 1502.1,814 1503.0,927 1503.8,951 1504.7,892 1505.5,954 1506.3,911 1507.2,865 1508.0,945 1508.8,963 1509.7,887 1510.5,910 1511.3,798 1512.2,908 1513.0,925 1513.8,887 1514.7,899 1515.5,895 1516.3,855 1517.2,957 1518.0,940 1518.8,934 1519.7,849 1520.5,934 1521.4,961 1522.2,891 1523.0,971 1523.9,886 1524.7,988 1525.5,873 1526.4,913 1527.2,930 1528.0,947 1528.9,775 1529.7,964 1530.5,890 1531.4,908 1532.2,1011 1533.0,913 1533.9,889 1534.7,1003 1535.6,970 1536.4,933 1537.2,994 1538.1,948 1538.9,973 1539.7,929 1540.6,942 1541.4,924 1542.2,854 1543.1,1015 1543.9,907 1544.7,870 1545.6,922 1546.4,926 1547.2,869 1548.1,901 1548.9,898 1549.7,910 1550.6,917 1551.4,942 1552.3,941 1553.1,932 1553.9,933 1554.8,920 1555.6,867 1556.4,896 1557.3,958 1558.1,868 1558.9,858 1559.8,960 1560.6,897 1561.4,906 1562.3,883 1563.1,913 1563.9,890 1564.8,922 1565.6,942 1566.5,892 1567.3,942 1568.1,862 1569.0,952 1569.8,941 1570.6,886 1571.5,906 1572.3,907 1573.1,806 1574.0,867 1574.8,872 1575.6,896 1576.5,873 1577.3,896 1578.1,915 1579.0,907 1579.8,899 1580.6,968 1581.5,921 1582.3,867 1583.2,870 1584.0,936 1584.8,863 1585.7,871 1586.5,927 1587.3,900 1588.2,830 1589.0,1007 1589.8,902 1590.7,846 1591.5,900 1592.3,920 1593.2,899 1594.0,860 1594.8,942 1595.7,851 1596.5,870 1597.3,859 1598.2,936 1599.0,937 1599.9,873 1600.7,912 1601.5,928 1602.4,887 1603.2,881 1604.0,953 1604.9,874 1605.7,951 1606.5,927 1607.4,942 1608.2,898 1609.0,890 1609.9,858 1610.7,926 1611.5,943 1612.4,855 1613.2,919 1614.1,898 1614.9,768 1615.7,883 1616.6,895 1617.4,848 1618.2,948 1619.1,890 1619.9,887 1620.7,977 1621.6,885 1622.4,972 1623.2,908 1624.1,891 1624.9,966 1625.7,825 1626.6,878 1627.4,859 1628.2,879 1629.1,826 1629.9,885 1630.8,889 1631.6,913 1632.4,992 1633.3,830 1634.1,862 1634.9,925 1635.8,960 1636.6,908 1637.4,855 1638.3,937 1639.1,870 1639.9,914 1640.8,920 1641.6,904 1642.4,910 1643.3,881 1644.1,944 1645.0,864 1645.8,902 1646.6,946 1647.5,876 1648.3,892 1649.1,915 1650.0,877 1650.8,904 1651.6,894 1652.5,828 1653.3,870 1654.1,881 1655.0,930 1655.8,865 1656.6,933 1657.5,905 1658.3,876 1659.1,929 1660.0,848 1660.8,896 1661.7,897 1662.5,884 1663.3,904 1664.2,957 1665.0,923 1665.8,854 1666.7,937 1667.5,942 1668.3,870 1669.2,809 1670.0,894 1670.8,889 1671.7,924 1672.5,991 1673.3,841 1674.2,877 1675.0,875 1675.9,816 1676.7,892 1677.5,862 1678.4,973 1679.2,946 1680.0,942 1680.9,904 1681.7,892 1682.5,930 1683.4,972 1684.2,940 1685.0,906 1685.9,926 1686.7,842 1687.5,907 1688.4,819 1689.2,888 1690.0,886 1690.9,924 1691.7,949 1692.6,898 1693.4,856 1694.2,879 1695.1,858 1695.9,821 1696.7,817 1697.6,880 1698.4,855 1699.2,931 1700.1,931 1700.9,865 1701.7,915 1702.6,915 1703.4,884 1704.2,862 1705.1,960 1705.9,973 1706.7,948 1707.6,906 1708.4,935 1709.3,981 1710.1,856 1710.9,895 1711.8,915 1712.6,905 1713.4,951 1714.3,972 1715.1,933 1715.9,886 1716.8,876 1717.6,874 1718.4,948 1719.3,990 1720.1,928 1720.9,931 1721.8,900 1722.6,882 1723.5,862 1724.3,907 1725.1,922 1726.0,960 1726.8,927 1727.6,895 1728.5,833 1729.3,985 1730.1,945 1731.0,872 1731.8,926 1732.6,936 1733.5,941 1734.3,900 1735.1,941 1736.0,924 1736.8,891 1737.6,917 1738.5,933 1739.3,900 1740.2,916 1741.0,888 1741.8,894 1742.7,838 1743.5,893 1744.3,915 1745.2,906 1746.0,913" fill="none" stroke="#3a2f92" stroke-width="2.6" stroke-linejoin="miter" stroke-miterlimit="1.2"/>
<line x1="1038.2" y1="730.0" x2="1038.2" y2="1230.7" stroke="#000" stroke-width="4.6"/>
<line x1="1035.9" y1="1228.4" x2="1749.6" y2="1228.4" stroke="#000" stroke-width="4.6"/>
<line x1="1021.2" y1="1223.5" x2="1038.2" y2="1223.5" stroke="#000" stroke-width="4.6"/>
<line x1="1028.7" y1="1198.9" x2="1038.2" y2="1198.9" stroke="#000" stroke-width="4.6"/>
<line x1="1028.7" y1="1174.3" x2="1038.2" y2="1174.3" stroke="#000" stroke-width="4.6"/>
<line x1="1028.7" y1="1149.8" x2="1038.2" y2="1149.8" stroke="#000" stroke-width="4.6"/>
<line x1="1021.2" y1="1125.2" x2="1038.2" y2="1125.2" stroke="#000" stroke-width="4.6"/>
<line x1="1028.7" y1="1100.6" x2="1038.2" y2="1100.6" stroke="#000" stroke-width="4.6"/>
<line x1="1028.7" y1="1076.0" x2="1038.2" y2="1076.0" stroke="#000" stroke-width="4.6"/>
<line x1="1028.7" y1="1051.5" x2="1038.2" y2="1051.5" stroke="#000" stroke-width="4.6"/>
<line x1="1021.2" y1="1026.9" x2="1038.2" y2="1026.9" stroke="#000" stroke-width="4.6"/>
<line x1="1028.7" y1="1002.3" x2="1038.2" y2="1002.3" stroke="#000" stroke-width="4.6"/>
<line x1="1028.7" y1="977.8" x2="1038.2" y2="977.8" stroke="#000" stroke-width="4.6"/>
<line x1="1028.7" y1="953.2" x2="1038.2" y2="953.2" stroke="#000" stroke-width="4.6"/>
<line x1="1021.2" y1="928.6" x2="1038.2" y2="928.6" stroke="#000" stroke-width="4.6"/>
<line x1="1028.7" y1="904.0" x2="1038.2" y2="904.0" stroke="#000" stroke-width="4.6"/>
<line x1="1028.7" y1="879.5" x2="1038.2" y2="879.5" stroke="#000" stroke-width="4.6"/>
<line x1="1028.7" y1="854.9" x2="1038.2" y2="854.9" stroke="#000" stroke-width="4.6"/>
<line x1="1021.2" y1="830.3" x2="1038.2" y2="830.3" stroke="#000" stroke-width="4.6"/>
<line x1="1028.7" y1="805.7" x2="1038.2" y2="805.7" stroke="#000" stroke-width="4.6"/>
<line x1="1028.7" y1="781.1" x2="1038.2" y2="781.1" stroke="#000" stroke-width="4.6"/>
<line x1="1028.7" y1="756.6" x2="1038.2" y2="756.6" stroke="#000" stroke-width="4.6"/>
<line x1="1021.2" y1="732.0" x2="1038.2" y2="732.0" stroke="#000" stroke-width="4.6"/>
<line x1="1041.9" y1="1228.4" x2="1041.9" y2="1245.9" stroke="#000" stroke-width="4.6"/>
<line x1="1077.1" y1="1228.4" x2="1077.1" y2="1238.9" stroke="#000" stroke-width="4.6"/>
<line x1="1112.4" y1="1228.4" x2="1112.4" y2="1238.9" stroke="#000" stroke-width="4.6"/>
<line x1="1147.6" y1="1228.4" x2="1147.6" y2="1238.9" stroke="#000" stroke-width="4.6"/>
<line x1="1182.8" y1="1228.4" x2="1182.8" y2="1245.9" stroke="#000" stroke-width="4.6"/>
<line x1="1218.1" y1="1228.4" x2="1218.1" y2="1238.9" stroke="#000" stroke-width="4.6"/>
<line x1="1253.3" y1="1228.4" x2="1253.3" y2="1238.9" stroke="#000" stroke-width="4.6"/>
<line x1="1288.5" y1="1228.4" x2="1288.5" y2="1238.9" stroke="#000" stroke-width="4.6"/>
<line x1="1323.8" y1="1228.4" x2="1323.8" y2="1245.9" stroke="#000" stroke-width="4.6"/>
<line x1="1359.0" y1="1228.4" x2="1359.0" y2="1238.9" stroke="#000" stroke-width="4.6"/>
<line x1="1394.2" y1="1228.4" x2="1394.2" y2="1238.9" stroke="#000" stroke-width="4.6"/>
<line x1="1429.5" y1="1228.4" x2="1429.5" y2="1238.9" stroke="#000" stroke-width="4.6"/>
<line x1="1464.7" y1="1228.4" x2="1464.7" y2="1245.9" stroke="#000" stroke-width="4.6"/>
<line x1="1500.0" y1="1228.4" x2="1500.0" y2="1238.9" stroke="#000" stroke-width="4.6"/>
<line x1="1535.2" y1="1228.4" x2="1535.2" y2="1238.9" stroke="#000" stroke-width="4.6"/>
<line x1="1570.4" y1="1228.4" x2="1570.4" y2="1238.9" stroke="#000" stroke-width="4.6"/>
<line x1="1605.7" y1="1228.4" x2="1605.7" y2="1245.9" stroke="#000" stroke-width="4.6"/>
<line x1="1640.9" y1="1228.4" x2="1640.9" y2="1238.9" stroke="#000" stroke-width="4.6"/>
<line x1="1676.1" y1="1228.4" x2="1676.1" y2="1238.9" stroke="#000" stroke-width="4.6"/>
<line x1="1711.4" y1="1228.4" x2="1711.4" y2="1238.9" stroke="#000" stroke-width="4.6"/>
<line x1="1746.6" y1="1228.4" x2="1746.6" y2="1245.9" stroke="#000" stroke-width="4.6"/>
</g>
<g transform="matrix(1.0520,0,0,1.0423,7.65,32.20)"><text style="font-family:'Liberation Sans',Arial,sans-serif;font-weight:bold;font-size:37px;stroke:#000;stroke-width:0px" fill="#000">A</text></g>
<g transform="matrix(0.9870,0,0,1.0288,882.03,32.00)"><text style="font-family:'Liberation Sans',Arial,sans-serif;font-weight:bold;font-size:37px;stroke:#000;stroke-width:0px" fill="#000">B</text></g>
<g transform="matrix(0.9750,0,0,1.0731,2.73,683.00)"><text style="font-family:'Liberation Sans',Arial,sans-serif;font-weight:bold;font-size:37px;stroke:#000;stroke-width:0px" fill="#000">C</text></g>
<g transform="matrix(0.9826,0,0,1.0385,916.03,718.90)"><text style="font-family:'Liberation Sans',Arial,sans-serif;font-weight:bold;font-size:37px;stroke:#000;stroke-width:0px" fill="#000">D</text></g>
<g transform="matrix(1.0192,0,0,1.0577,416.30,608.47)"><text style="font-family:'DejaVu Sans','Liberation Sans',sans-serif;font-weight:bold;font-size:28px;stroke:#000;stroke-width:0.5px" fill="#000">Time (ns)</text></g>
<g transform="matrix(1.0397,0,0,1.1077,1319.20,609.57)"><text style="font-family:'DejaVu Sans','Liberation Sans',sans-serif;font-weight:bold;font-size:28px;stroke:#000;stroke-width:0.5px" fill="#000">Time (ns)</text></g>
<g transform="matrix(1.0240,0,0,1.0423,413.00,1313.23)"><text style="font-family:'DejaVu Sans','Liberation Sans',sans-serif;font-weight:bold;font-size:28px;stroke:#000;stroke-width:0.5px" fill="#000">Time (ns)</text></g>
<g transform="matrix(1.0055,0,0,1.0231,1326.90,1309.41)"><text style="font-family:'DejaVu Sans','Liberation Sans',sans-serif;font-weight:bold;font-size:28px;stroke:#000;stroke-width:0.5px" fill="#000">Time (ns)</text></g>
<g transform="matrix(1.1793,0,0,0.9801,40.16,343.56)"><text transform="rotate(-90)" style="font-family:'DejaVu Sans','Liberation Sans',sans-serif;font-weight:bold;font-size:28px;stroke:#000;stroke-width:0.5px" fill="#000">RMSD (Å)</text></g>
<g transform="matrix(1.1483,0,0,1.0308,911.26,346.46)"><text transform="rotate(-90)" style="font-family:'DejaVu Sans','Liberation Sans',sans-serif;font-weight:bold;font-size:28px;stroke:#000;stroke-width:0.5px" fill="#000">SASA (Å2)</text></g>
<g transform="matrix(1.1583,0,0,1.0460,25.47,1121.09)"><text transform="rotate(-90)" style="font-family:'DejaVu Sans','Liberation Sans',sans-serif;font-weight:bold;font-size:22px;stroke:#000;stroke-width:0.5px" fill="#000">Radius of Gyration (Å)</text></g>
<g transform="matrix(1.0214,0,0,0.9950,951.67,1097.09)"><text transform="rotate(-90)" style="font-family:'DejaVu Sans','Liberation Sans',sans-serif;font-weight:bold;font-size:28px;stroke:#000;stroke-width:0.5px" fill="#000">Hydrogen Bond</text></g>
<g transform="matrix(1.1524,0,0,1.1000,209.65,53.10)"><text style="font-family:'DejaVu Sans','Liberation Sans',sans-serif;font-weight:bold;font-size:16.5px;stroke:#000;stroke-width:0.5px" fill="#000">P2</text></g>
<g transform="matrix(1.1576,0,0,1.0667,209.64,72.90)"><text style="font-family:'DejaVu Sans','Liberation Sans',sans-serif;font-weight:bold;font-size:16.5px;stroke:#000;stroke-width:0.5px" fill="#000">P18</text></g>
<g transform="matrix(1.1576,0,0,1.0333,209.64,92.70)"><text style="font-family:'DejaVu Sans','Liberation Sans',sans-serif;font-weight:bold;font-size:16.5px;stroke:#000;stroke-width:0.5px" fill="#000">P20</text></g>
<g transform="matrix(1.0667,0,0,1.0667,209.73,114.00)"><text style="font-family:'DejaVu Sans','Liberation Sans',sans-serif;font-weight:bold;font-size:16.5px;stroke:#000;stroke-width:0.5px" fill="#000">P21</text></g>
<g transform="matrix(1.0178,0,0,1.0176,51.89,532.85)"><text class="tk" style="font-family:'DejaVu Sans','Liberation Sans',sans-serif;font-weight:bold;font-size:23.7px;stroke:#000;stroke-width:0.9px" fill="#000">0.5</text></g>
<g transform="matrix(1.0178,0,0,1.0176,77.33,407.85)"><text class="tk" style="font-family:'DejaVu Sans','Liberation Sans',sans-serif;font-weight:bold;font-size:23.7px;stroke:#000;stroke-width:0.9px" fill="#000">1</text></g>
<g transform="matrix(1.0178,0,0,1.0176,51.89,282.85)"><text class="tk" style="font-family:'DejaVu Sans','Liberation Sans',sans-serif;font-weight:bold;font-size:23.7px;stroke:#000;stroke-width:0.9px" fill="#000">1.5</text></g>
<g transform="matrix(1.0178,0,0,1.0176,78.35,157.85)"><text class="tk" style="font-family:'DejaVu Sans','Liberation Sans',sans-serif;font-weight:bold;font-size:23.7px;stroke:#000;stroke-width:0.9px" fill="#000">2</text></g>
<g transform="matrix(1.0178,0,0,1.0176,51.89,32.85)"><text class="tk" style="font-family:'DejaVu Sans','Liberation Sans',sans-serif;font-weight:bold;font-size:23.7px;stroke:#000;stroke-width:0.9px" fill="#000">2.5</text></g>
<g transform="matrix(1.0178,0,0,1.0176,113.16,568.30)"><text class="tk" style="font-family:'DejaVu Sans','Liberation Sans',sans-serif;font-weight:bold;font-size:23.7px;stroke:#000;stroke-width:0.9px" fill="#000">0</text></g>
<g transform="matrix(1.0178,0,0,1.0176,248.90,568.30)"><text class="tk" style="font-family:'DejaVu Sans','Liberation Sans',sans-serif;font-weight:bold;font-size:23.7px;stroke:#000;stroke-width:0.9px" fill="#000">20</text></g>
<g transform="matrix(1.0178,0,0,1.0176,394.31,568.30)"><text class="tk" style="font-family:'DejaVu Sans','Liberation Sans',sans-serif;font-weight:bold;font-size:23.7px;stroke:#000;stroke-width:0.9px" fill="#000">40</text></g>
<g transform="matrix(1.0178,0,0,1.0176,539.21,568.30)"><text class="tk" style="font-family:'DejaVu Sans','Liberation Sans',sans-serif;font-weight:bold;font-size:23.7px;stroke:#000;stroke-width:0.9px" fill="#000">60</text></g>
<g transform="matrix(1.0178,0,0,1.0176,683.60,568.30)"><text class="tk" style="font-family:'DejaVu Sans','Liberation Sans',sans-serif;font-weight:bold;font-size:23.7px;stroke:#000;stroke-width:0.9px" fill="#000">80</text></g>
<g transform="matrix(1.0178,0,0,1.0176,819.85,568.30)"><text class="tk" style="font-family:'DejaVu Sans','Liberation Sans',sans-serif;font-weight:bold;font-size:23.7px;stroke:#000;stroke-width:0.9px" fill="#000">100</text></g>
<g transform="matrix(1.0178,0,0,1.0176,924.50,531.85)"><text class="tk" style="font-family:'DejaVu Sans','Liberation Sans',sans-serif;font-weight:bold;font-size:23.7px;stroke:#000;stroke-width:0.9px" fill="#000">10,200</text></g>
<g transform="matrix(1.0178,0,0,1.0176,924.50,458.88)"><text class="tk" style="font-family:'DejaVu Sans','Liberation Sans',sans-serif;font-weight:bold;font-size:23.7px;stroke:#000;stroke-width:0.9px" fill="#000">10,400</text></g>
<g transform="matrix(1.0178,0,0,1.0176,924.50,385.91)"><text class="tk" style="font-family:'DejaVu Sans','Liberation Sans',sans-serif;font-weight:bold;font-size:23.7px;stroke:#000;stroke-width:0.9px" fill="#000">10,600</text></g>
<g transform="matrix(1.0178,0,0,1.0176,924.50,312.94)"><text class="tk" style="font-family:'DejaVu Sans','Liberation Sans',sans-serif;font-weight:bold;font-size:23.7px;stroke:#000;stroke-width:0.9px" fill="#000">10,800</text></g>
<g transform="matrix(1.0178,0,0,1.0176,924.50,239.96)"><text class="tk" style="font-family:'DejaVu Sans','Liberation Sans',sans-serif;font-weight:bold;font-size:23.7px;stroke:#000;stroke-width:0.9px" fill="#000">11,000</text></g>
<g transform="matrix(1.0178,0,0,1.0176,924.50,166.99)"><text class="tk" style="font-family:'DejaVu Sans','Liberation Sans',sans-serif;font-weight:bold;font-size:23.7px;stroke:#000;stroke-width:0.9px" fill="#000">11,200</text></g>
<g transform="matrix(1.0178,0,0,1.0176,924.50,94.02)"><text class="tk" style="font-family:'DejaVu Sans','Liberation Sans',sans-serif;font-weight:bold;font-size:23.7px;stroke:#000;stroke-width:0.9px" fill="#000">11,400</text></g>
<g transform="matrix(1.0178,0,0,1.0176,924.50,21.05)"><text class="tk" style="font-family:'DejaVu Sans','Liberation Sans',sans-serif;font-weight:bold;font-size:23.7px;stroke:#000;stroke-width:0.9px" fill="#000">11,600</text></g>
<g transform="matrix(1.0178,0,0,1.0176,1036.16,567.50)"><text class="tk" style="font-family:'DejaVu Sans','Liberation Sans',sans-serif;font-weight:bold;font-size:23.7px;stroke:#000;stroke-width:0.9px" fill="#000">0</text></g>
<g transform="matrix(1.0178,0,0,1.0176,1164.80,567.50)"><text class="tk" style="font-family:'DejaVu Sans','Liberation Sans',sans-serif;font-weight:bold;font-size:23.7px;stroke:#000;stroke-width:0.9px" fill="#000">20</text></g>
<g transform="matrix(1.0178,0,0,1.0176,1303.11,567.50)"><text class="tk" style="font-family:'DejaVu Sans','Liberation Sans',sans-serif;font-weight:bold;font-size:23.7px;stroke:#000;stroke-width:0.9px" fill="#000">40</text></g>
<g transform="matrix(1.0178,0,0,1.0176,1440.91,567.50)"><text class="tk" style="font-family:'DejaVu Sans','Liberation Sans',sans-serif;font-weight:bold;font-size:23.7px;stroke:#000;stroke-width:0.9px" fill="#000">60</text></g>
<g transform="matrix(1.0178,0,0,1.0176,1578.20,567.50)"><text class="tk" style="font-family:'DejaVu Sans','Liberation Sans',sans-serif;font-weight:bold;font-size:23.7px;stroke:#000;stroke-width:0.9px" fill="#000">80</text></g>
<g transform="matrix(1.0178,0,0,1.0176,1707.35,567.50)"><text class="tk" style="font-family:'DejaVu Sans','Liberation Sans',sans-serif;font-weight:bold;font-size:23.7px;stroke:#000;stroke-width:0.9px" fill="#000">100</text></g>
<g transform="matrix(1.0178,0,0,1.0176,36.80,1239.35)"><text class="tk" style="font-family:'DejaVu Sans','Liberation Sans',sans-serif;font-weight:bold;font-size:23.7px;stroke:#000;stroke-width:0.9px" fill="#000">18.2</text></g>
<g transform="matrix(1.0178,0,0,1.0176,35.79,1139.39)"><text class="tk" style="font-family:'DejaVu Sans','Liberation Sans',sans-serif;font-weight:bold;font-size:23.7px;stroke:#000;stroke-width:0.9px" fill="#000">18.4</text></g>
<g transform="matrix(1.0178,0,0,1.0176,35.79,1039.43)"><text class="tk" style="font-family:'DejaVu Sans','Liberation Sans',sans-serif;font-weight:bold;font-size:23.7px;stroke:#000;stroke-width:0.9px" fill="#000">18.6</text></g>
<g transform="matrix(1.0178,0,0,1.0176,35.79,939.47)"><text class="tk" style="font-family:'DejaVu Sans','Liberation Sans',sans-serif;font-weight:bold;font-size:23.7px;stroke:#000;stroke-width:0.9px" fill="#000">18.8</text></g>
<g transform="matrix(1.0178,0,0,1.0176,62.25,839.51)"><text class="tk" style="font-family:'DejaVu Sans','Liberation Sans',sans-serif;font-weight:bold;font-size:23.7px;stroke:#000;stroke-width:0.9px" fill="#000">19</text></g>
<g transform="matrix(1.0178,0,0,1.0176,36.80,739.55)"><text class="tk" style="font-family:'DejaVu Sans','Liberation Sans',sans-serif;font-weight:bold;font-size:23.7px;stroke:#000;stroke-width:0.9px" fill="#000">19.2</text></g>
<g transform="matrix(1.0178,0,0,1.0176,114.06,1274.60)"><text class="tk" style="font-family:'DejaVu Sans','Liberation Sans',sans-serif;font-weight:bold;font-size:23.7px;stroke:#000;stroke-width:0.9px" fill="#000">0</text></g>
<g transform="matrix(1.0178,0,0,1.0176,248.38,1274.60)"><text class="tk" style="font-family:'DejaVu Sans','Liberation Sans',sans-serif;font-weight:bold;font-size:23.7px;stroke:#000;stroke-width:0.9px" fill="#000">20</text></g>
<g transform="matrix(1.0178,0,0,1.0176,392.37,1274.60)"><text class="tk" style="font-family:'DejaVu Sans','Liberation Sans',sans-serif;font-weight:bold;font-size:23.7px;stroke:#000;stroke-width:0.9px" fill="#000">40</text></g>
<g transform="matrix(1.0178,0,0,1.0176,535.85,1274.60)"><text class="tk" style="font-family:'DejaVu Sans','Liberation Sans',sans-serif;font-weight:bold;font-size:23.7px;stroke:#000;stroke-width:0.9px" fill="#000">60</text></g>
<g transform="matrix(1.0178,0,0,1.0176,678.82,1274.60)"><text class="tk" style="font-family:'DejaVu Sans','Liberation Sans',sans-serif;font-weight:bold;font-size:23.7px;stroke:#000;stroke-width:0.9px" fill="#000">80</text></g>
<g transform="matrix(1.0178,0,0,1.0176,813.65,1274.60)"><text class="tk" style="font-family:'DejaVu Sans','Liberation Sans',sans-serif;font-weight:bold;font-size:23.7px;stroke:#000;stroke-width:0.9px" fill="#000">100</text></g>
<g transform="matrix(1.0178,0,0,1.0176,964.65,1234.35)"><text class="tk" style="font-family:'DejaVu Sans','Liberation Sans',sans-serif;font-weight:bold;font-size:23.7px;stroke:#000;stroke-width:0.9px" fill="#000">340</text></g>
<g transform="matrix(1.0178,0,0,1.0176,964.65,1136.05)"><text class="tk" style="font-family:'DejaVu Sans','Liberation Sans',sans-serif;font-weight:bold;font-size:23.7px;stroke:#000;stroke-width:0.9px" fill="#000">360</text></g>
<g transform="matrix(1.0178,0,0,1.0176,964.65,1037.75)"><text class="tk" style="font-family:'DejaVu Sans','Liberation Sans',sans-serif;font-weight:bold;font-size:23.7px;stroke:#000;stroke-width:0.9px" fill="#000">380</text></g>
<g transform="matrix(1.0178,0,0,1.0176,964.65,939.45)"><text class="tk" style="font-family:'DejaVu Sans','Liberation Sans',sans-serif;font-weight:bold;font-size:23.7px;stroke:#000;stroke-width:0.9px" fill="#000">400</text></g>
<g transform="matrix(1.0178,0,0,1.0176,964.65,841.15)"><text class="tk" style="font-family:'DejaVu Sans','Liberation Sans',sans-serif;font-weight:bold;font-size:23.7px;stroke:#000;stroke-width:0.9px" fill="#000">420</text></g>
<g transform="matrix(1.0178,0,0,1.0176,964.65,742.85)"><text class="tk" style="font-family:'DejaVu Sans','Liberation Sans',sans-serif;font-weight:bold;font-size:23.7px;stroke:#000;stroke-width:0.9px" fill="#000">440</text></g>
<g transform="matrix(1.0178,0,0,1.0176,1034.06,1271.30)"><text class="tk" style="font-family:'DejaVu Sans','Liberation Sans',sans-serif;font-weight:bold;font-size:23.7px;stroke:#000;stroke-width:0.9px" fill="#000">0</text></g>
<g transform="matrix(1.0178,0,0,1.0176,1165.84,1271.30)"><text class="tk" style="font-family:'DejaVu Sans','Liberation Sans',sans-serif;font-weight:bold;font-size:23.7px;stroke:#000;stroke-width:0.9px" fill="#000">20</text></g>
<g transform="matrix(1.0178,0,0,1.0176,1307.29,1271.30)"><text class="tk" style="font-family:'DejaVu Sans','Liberation Sans',sans-serif;font-weight:bold;font-size:23.7px;stroke:#000;stroke-width:0.9px" fill="#000">40</text></g>
<g transform="matrix(1.0178,0,0,1.0176,1448.23,1271.30)"><text class="tk" style="font-family:'DejaVu Sans','Liberation Sans',sans-serif;font-weight:bold;font-size:23.7px;stroke:#000;stroke-width:0.9px" fill="#000">60</text></g>
<g transform="matrix(1.0178,0,0,1.0176,1588.66,1271.30)"><text class="tk" style="font-family:'DejaVu Sans','Liberation Sans',sans-serif;font-weight:bold;font-size:23.7px;stroke:#000;stroke-width:0.9px" fill="#000">80</text></g>
<g transform="matrix(1.0178,0,0,1.0176,1720.95,1271.30)"><text class="tk" style="font-family:'DejaVu Sans','Liberation Sans',sans-serif;font-weight:bold;font-size:23.7px;stroke:#000;stroke-width:0.9px" fill="#000">100</text></g>
<rect x="138" y="27.5" width="129.7" height="98.4" fill="none" stroke="#707070" stroke-width="3"/>
<line x1="156" y1="45.6" x2="193.4" y2="45.6" stroke="#6f6f6f" stroke-width="3.5"/>
<line x1="156" y1="65.7" x2="193.4" y2="65.7" stroke="#d05050" stroke-width="3.5"/>
<line x1="156" y1="85.8" x2="193.4" y2="85.8" stroke="#4a9e3e" stroke-width="3.5"/>
<line x1="156" y1="105.9" x2="193.4" y2="105.9" stroke="#5a56a8" stroke-width="3.5"/>
</svg></body></html>
